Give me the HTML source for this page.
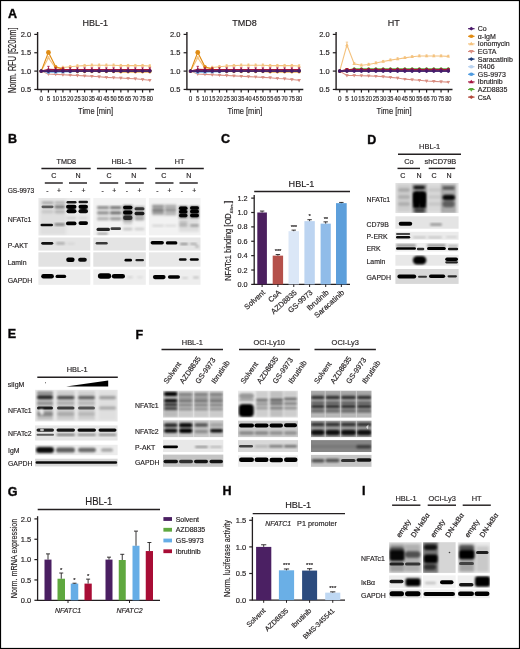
<!DOCTYPE html><html><head><meta charset="utf-8"><title>Figure</title><style>html,body{margin:0;padding:0;background:#fff;}body{width:520px;height:649px;overflow:hidden;}svg{display:block;font-family:"Liberation Sans",sans-serif;will-change:transform;filter:blur(0.3px);}svg text{stroke:#231f20;stroke-width:0.17px;}</style></head><body><svg width="520" height="649" viewBox="0 0 520 649" font-family='"Liberation Sans", sans-serif' fill="#231f20"><defs><filter id="f1" x="-50%" y="-50%" width="200%" height="200%"><feGaussianBlur stdDeviation="0.1"/></filter><filter id="f2" x="-50%" y="-50%" width="200%" height="200%"><feGaussianBlur stdDeviation="0.2"/></filter><filter id="f3" x="-50%" y="-50%" width="200%" height="200%"><feGaussianBlur stdDeviation="0.3"/></filter><filter id="f4" x="-50%" y="-50%" width="200%" height="200%"><feGaussianBlur stdDeviation="0.4"/></filter><filter id="f5" x="-50%" y="-50%" width="200%" height="200%"><feGaussianBlur stdDeviation="0.5"/></filter><filter id="f6" x="-50%" y="-50%" width="200%" height="200%"><feGaussianBlur stdDeviation="0.6"/></filter><filter id="f7" x="-50%" y="-50%" width="200%" height="200%"><feGaussianBlur stdDeviation="0.7"/></filter><filter id="f8" x="-50%" y="-50%" width="200%" height="200%"><feGaussianBlur stdDeviation="0.8"/></filter><filter id="f9" x="-50%" y="-50%" width="200%" height="200%"><feGaussianBlur stdDeviation="0.9"/></filter><filter id="f10" x="-50%" y="-50%" width="200%" height="200%"><feGaussianBlur stdDeviation="1.0"/></filter><filter id="f11" x="-50%" y="-50%" width="200%" height="200%"><feGaussianBlur stdDeviation="1.1"/></filter><filter id="f12" x="-50%" y="-50%" width="200%" height="200%"><feGaussianBlur stdDeviation="1.2"/></filter><filter id="f13" x="-50%" y="-50%" width="200%" height="200%"><feGaussianBlur stdDeviation="1.3"/></filter><filter id="f14" x="-50%" y="-50%" width="200%" height="200%"><feGaussianBlur stdDeviation="1.4"/></filter><filter id="f15" x="-50%" y="-50%" width="200%" height="200%"><feGaussianBlur stdDeviation="1.5"/></filter><filter id="f16" x="-50%" y="-50%" width="200%" height="200%"><feGaussianBlur stdDeviation="1.6"/></filter><filter id="f17" x="-50%" y="-50%" width="200%" height="200%"><feGaussianBlur stdDeviation="1.7"/></filter><filter id="f18" x="-50%" y="-50%" width="200%" height="200%"><feGaussianBlur stdDeviation="1.8"/></filter><filter id="f19" x="-50%" y="-50%" width="200%" height="200%"><feGaussianBlur stdDeviation="1.9"/></filter><filter id="f20" x="-50%" y="-50%" width="200%" height="200%"><feGaussianBlur stdDeviation="2.0"/></filter><clipPath id="c1"><rect x="38.40" y="198.00" width="51.90" height="37.50"/></clipPath><clipPath id="c2"><rect x="38.40" y="237.50" width="51.90" height="13.10"/></clipPath><clipPath id="c3"><rect x="38.40" y="252.30" width="51.90" height="14.40"/></clipPath><clipPath id="c4"><rect x="38.40" y="269.40" width="51.90" height="15.40"/></clipPath><clipPath id="c5"><rect x="93.30" y="198.00" width="52.50" height="37.40"/></clipPath><clipPath id="c6"><rect x="93.30" y="237.50" width="52.50" height="13.10"/></clipPath><clipPath id="c7"><rect x="93.30" y="252.30" width="52.50" height="14.40"/></clipPath><clipPath id="c8"><rect x="93.30" y="269.40" width="52.50" height="15.40"/></clipPath><clipPath id="c9"><rect x="148.90" y="198.00" width="51.60" height="37.30"/></clipPath><clipPath id="c10"><rect x="148.90" y="237.50" width="51.60" height="13.10"/></clipPath><clipPath id="c11"><rect x="148.90" y="252.30" width="51.60" height="14.40"/></clipPath><clipPath id="c12"><rect x="148.90" y="269.40" width="51.60" height="15.40"/></clipPath><clipPath id="c13"><rect x="395.40" y="183.00" width="63.20" height="30.00"/></clipPath><clipPath id="c14"><rect x="395.40" y="216.30" width="63.20" height="12.40"/></clipPath><clipPath id="c15"><rect x="395.40" y="231.80" width="63.20" height="8.00"/></clipPath><clipPath id="c16"><rect x="395.40" y="243.00" width="63.20" height="8.60"/></clipPath><clipPath id="c17"><rect x="395.40" y="254.90" width="63.20" height="10.80"/></clipPath><clipPath id="c18"><rect x="395.40" y="269.00" width="63.20" height="14.90"/></clipPath><clipPath id="c19"><rect x="35.10" y="389.80" width="82.50" height="31.70"/></clipPath><clipPath id="c20"><rect x="35.10" y="425.40" width="82.50" height="15.10"/></clipPath><clipPath id="c21"><rect x="35.10" y="444.80" width="82.50" height="10.40"/></clipPath><clipPath id="c22"><rect x="35.10" y="458.70" width="82.50" height="7.70"/></clipPath><clipPath id="c23"><rect x="163.00" y="390.70" width="60.30" height="26.90"/></clipPath><clipPath id="c24"><rect x="163.00" y="420.30" width="60.30" height="16.80"/></clipPath><clipPath id="c25"><rect x="163.00" y="439.80" width="60.30" height="12.20"/></clipPath><clipPath id="c26"><rect x="163.00" y="454.60" width="60.30" height="12.20"/></clipPath><clipPath id="c27"><rect x="238.00" y="390.70" width="60.00" height="26.90"/></clipPath><clipPath id="c28"><rect x="238.00" y="420.70" width="60.00" height="16.40"/></clipPath><clipPath id="c29"><rect x="238.00" y="440.10" width="60.00" height="11.90"/></clipPath><clipPath id="c30"><rect x="238.00" y="455.30" width="60.00" height="11.50"/></clipPath><clipPath id="c31"><rect x="311.00" y="390.70" width="60.50" height="26.90"/></clipPath><clipPath id="c32"><rect x="311.00" y="420.70" width="60.50" height="16.40"/></clipPath><clipPath id="c33"><rect x="311.00" y="440.10" width="60.50" height="11.90"/></clipPath><clipPath id="c34"><rect x="311.00" y="454.90" width="60.50" height="11.90"/></clipPath><clipPath id="c35"><rect x="389.10" y="542.20" width="32.60" height="30.70"/></clipPath><clipPath id="c36"><rect x="423.00" y="542.20" width="32.60" height="30.70"/></clipPath><clipPath id="c37"><rect x="457.70" y="542.20" width="32.20" height="30.70"/></clipPath><clipPath id="c38"><rect x="389.10" y="575.40" width="32.60" height="12.40"/></clipPath><clipPath id="c39"><rect x="423.00" y="575.40" width="32.60" height="12.40"/></clipPath><clipPath id="c40"><rect x="457.70" y="575.40" width="32.20" height="12.40"/></clipPath><clipPath id="c41"><rect x="389.10" y="589.50" width="32.60" height="8.70"/></clipPath><clipPath id="c42"><rect x="423.00" y="589.50" width="32.60" height="8.70"/></clipPath><clipPath id="c43"><rect x="457.70" y="589.50" width="32.20" height="8.70"/></clipPath></defs><rect x="0" y="0" width="520" height="649" fill="#fff"/><text x="8.00" y="18.12" font-size="12.5" font-weight="bold" fill="#000" stroke="#000" style="stroke-width:0.45px">A</text>
<text x="95.20" y="25.70" font-size="9" text-anchor="middle">HBL-1</text>
<line x1="37.60" y1="32.00" x2="37.60" y2="89.50" stroke="#231f20" stroke-width="1.4"/>
<line x1="36.90" y1="89.50" x2="154.00" y2="89.50" stroke="#231f20" stroke-width="1.4"/>
<line x1="34.30" y1="34.40" x2="37.60" y2="34.40" stroke="#231f20" stroke-width="1.2"/>
<text x="31.10" y="37.05" font-size="7.5" text-anchor="end">2.0</text>
<line x1="34.30" y1="52.75" x2="37.60" y2="52.75" stroke="#231f20" stroke-width="1.2"/>
<text x="31.10" y="55.40" font-size="7.5" text-anchor="end">1.5</text>
<line x1="34.30" y1="71.10" x2="37.60" y2="71.10" stroke="#231f20" stroke-width="1.2"/>
<text x="31.10" y="73.75" font-size="7.5" text-anchor="end">1.0</text>
<line x1="34.30" y1="89.45" x2="37.60" y2="89.45" stroke="#231f20" stroke-width="1.2"/>
<text x="31.10" y="92.10" font-size="7.5" text-anchor="end">0.5</text>
<line x1="41.20" y1="89.50" x2="41.20" y2="92.60" stroke="#231f20" stroke-width="1.2"/>
<text x="41.20" y="101.40" font-size="6.3" text-anchor="middle">0</text>
<line x1="48.44" y1="89.50" x2="48.44" y2="92.60" stroke="#231f20" stroke-width="1.2"/>
<text x="48.44" y="101.40" font-size="6.3" text-anchor="middle">5</text>
<line x1="55.68" y1="89.50" x2="55.68" y2="92.60" stroke="#231f20" stroke-width="1.2"/>
<text x="55.68" y="101.40" font-size="6.3" text-anchor="middle" textLength="6.3" lengthAdjust="spacingAndGlyphs">10</text>
<line x1="62.92" y1="89.50" x2="62.92" y2="92.60" stroke="#231f20" stroke-width="1.2"/>
<text x="62.92" y="101.40" font-size="6.3" text-anchor="middle" textLength="6.3" lengthAdjust="spacingAndGlyphs">15</text>
<line x1="70.16" y1="89.50" x2="70.16" y2="92.60" stroke="#231f20" stroke-width="1.2"/>
<text x="70.16" y="101.40" font-size="6.3" text-anchor="middle" textLength="6.3" lengthAdjust="spacingAndGlyphs">20</text>
<line x1="77.40" y1="89.50" x2="77.40" y2="92.60" stroke="#231f20" stroke-width="1.2"/>
<text x="77.40" y="101.40" font-size="6.3" text-anchor="middle" textLength="6.3" lengthAdjust="spacingAndGlyphs">25</text>
<line x1="84.64" y1="89.50" x2="84.64" y2="92.60" stroke="#231f20" stroke-width="1.2"/>
<text x="84.64" y="101.40" font-size="6.3" text-anchor="middle" textLength="6.3" lengthAdjust="spacingAndGlyphs">30</text>
<line x1="91.88" y1="89.50" x2="91.88" y2="92.60" stroke="#231f20" stroke-width="1.2"/>
<text x="91.88" y="101.40" font-size="6.3" text-anchor="middle" textLength="6.3" lengthAdjust="spacingAndGlyphs">35</text>
<line x1="99.12" y1="89.50" x2="99.12" y2="92.60" stroke="#231f20" stroke-width="1.2"/>
<text x="99.12" y="101.40" font-size="6.3" text-anchor="middle" textLength="6.3" lengthAdjust="spacingAndGlyphs">40</text>
<line x1="106.36" y1="89.50" x2="106.36" y2="92.60" stroke="#231f20" stroke-width="1.2"/>
<text x="106.36" y="101.40" font-size="6.3" text-anchor="middle" textLength="6.3" lengthAdjust="spacingAndGlyphs">45</text>
<line x1="113.60" y1="89.50" x2="113.60" y2="92.60" stroke="#231f20" stroke-width="1.2"/>
<text x="113.60" y="101.40" font-size="6.3" text-anchor="middle" textLength="6.3" lengthAdjust="spacingAndGlyphs">50</text>
<line x1="120.84" y1="89.50" x2="120.84" y2="92.60" stroke="#231f20" stroke-width="1.2"/>
<text x="120.84" y="101.40" font-size="6.3" text-anchor="middle" textLength="6.3" lengthAdjust="spacingAndGlyphs">55</text>
<line x1="128.08" y1="89.50" x2="128.08" y2="92.60" stroke="#231f20" stroke-width="1.2"/>
<text x="128.08" y="101.40" font-size="6.3" text-anchor="middle" textLength="6.3" lengthAdjust="spacingAndGlyphs">65</text>
<line x1="135.32" y1="89.50" x2="135.32" y2="92.60" stroke="#231f20" stroke-width="1.2"/>
<text x="135.32" y="101.40" font-size="6.3" text-anchor="middle" textLength="6.3" lengthAdjust="spacingAndGlyphs">70</text>
<line x1="142.56" y1="89.50" x2="142.56" y2="92.60" stroke="#231f20" stroke-width="1.2"/>
<text x="142.56" y="101.40" font-size="6.3" text-anchor="middle" textLength="6.3" lengthAdjust="spacingAndGlyphs">75</text>
<line x1="149.80" y1="89.50" x2="149.80" y2="92.60" stroke="#231f20" stroke-width="1.2"/>
<text x="149.80" y="101.40" font-size="6.3" text-anchor="middle" textLength="6.3" lengthAdjust="spacingAndGlyphs">80</text>
<text x="95.60" y="113.60" font-size="9.7" text-anchor="middle" textLength="35" lengthAdjust="spacingAndGlyphs">Time [min]</text>
<polyline points="41.20,71.10 48.44,57.89 55.68,68.16 62.92,67.43 70.16,66.70 77.40,65.96 84.64,65.59 91.88,65.23 99.12,65.23 106.36,65.23 113.60,65.23 120.84,65.59 128.08,65.59 135.32,65.59 142.56,65.59 149.80,65.96" fill="none" stroke="#f4c27e" stroke-width="1.1"/>
<line x1="41.20" y1="70.00" x2="41.20" y2="72.20" stroke="#f4c27e" stroke-width="0.8"/>
<line x1="40.00" y1="70.00" x2="42.40" y2="70.00" stroke="#f4c27e" stroke-width="0.8"/>
<path d="M41.20 69.20L43.00 72.30L39.40 72.30Z" fill="#f4c27e"/>
<line x1="48.44" y1="56.79" x2="48.44" y2="58.99" stroke="#f4c27e" stroke-width="0.8"/>
<line x1="47.24" y1="56.79" x2="49.64" y2="56.79" stroke="#f4c27e" stroke-width="0.8"/>
<path d="M48.44 55.99L50.24 59.09L46.64 59.09Z" fill="#f4c27e"/>
<line x1="55.68" y1="67.06" x2="55.68" y2="69.26" stroke="#f4c27e" stroke-width="0.8"/>
<line x1="54.48" y1="67.06" x2="56.88" y2="67.06" stroke="#f4c27e" stroke-width="0.8"/>
<path d="M55.68 66.26L57.48 69.36L53.88 69.36Z" fill="#f4c27e"/>
<line x1="62.92" y1="66.33" x2="62.92" y2="68.53" stroke="#f4c27e" stroke-width="0.8"/>
<line x1="61.72" y1="66.33" x2="64.12" y2="66.33" stroke="#f4c27e" stroke-width="0.8"/>
<path d="M62.92 65.53L64.72 68.63L61.12 68.63Z" fill="#f4c27e"/>
<line x1="70.16" y1="65.59" x2="70.16" y2="67.80" stroke="#f4c27e" stroke-width="0.8"/>
<line x1="68.96" y1="65.59" x2="71.36" y2="65.59" stroke="#f4c27e" stroke-width="0.8"/>
<path d="M70.16 64.80L71.96 67.90L68.36 67.90Z" fill="#f4c27e"/>
<line x1="77.40" y1="64.86" x2="77.40" y2="67.06" stroke="#f4c27e" stroke-width="0.8"/>
<line x1="76.20" y1="64.86" x2="78.60" y2="64.86" stroke="#f4c27e" stroke-width="0.8"/>
<path d="M77.40 64.06L79.20 67.16L75.60 67.16Z" fill="#f4c27e"/>
<line x1="84.64" y1="64.49" x2="84.64" y2="66.70" stroke="#f4c27e" stroke-width="0.8"/>
<line x1="83.44" y1="64.49" x2="85.84" y2="64.49" stroke="#f4c27e" stroke-width="0.8"/>
<path d="M84.64 63.70L86.44 66.80L82.84 66.80Z" fill="#f4c27e"/>
<line x1="91.88" y1="64.13" x2="91.88" y2="66.33" stroke="#f4c27e" stroke-width="0.8"/>
<line x1="90.68" y1="64.13" x2="93.08" y2="64.13" stroke="#f4c27e" stroke-width="0.8"/>
<path d="M91.88 63.33L93.68 66.43L90.08 66.43Z" fill="#f4c27e"/>
<line x1="99.12" y1="64.13" x2="99.12" y2="66.33" stroke="#f4c27e" stroke-width="0.8"/>
<line x1="97.92" y1="64.13" x2="100.32" y2="64.13" stroke="#f4c27e" stroke-width="0.8"/>
<path d="M99.12 63.33L100.92 66.43L97.32 66.43Z" fill="#f4c27e"/>
<line x1="106.36" y1="64.13" x2="106.36" y2="66.33" stroke="#f4c27e" stroke-width="0.8"/>
<line x1="105.16" y1="64.13" x2="107.56" y2="64.13" stroke="#f4c27e" stroke-width="0.8"/>
<path d="M106.36 63.33L108.16 66.43L104.56 66.43Z" fill="#f4c27e"/>
<line x1="113.60" y1="64.13" x2="113.60" y2="66.33" stroke="#f4c27e" stroke-width="0.8"/>
<line x1="112.40" y1="64.13" x2="114.80" y2="64.13" stroke="#f4c27e" stroke-width="0.8"/>
<path d="M113.60 63.33L115.40 66.43L111.80 66.43Z" fill="#f4c27e"/>
<line x1="120.84" y1="64.49" x2="120.84" y2="66.70" stroke="#f4c27e" stroke-width="0.8"/>
<line x1="119.64" y1="64.49" x2="122.04" y2="64.49" stroke="#f4c27e" stroke-width="0.8"/>
<path d="M120.84 63.70L122.64 66.80L119.04 66.80Z" fill="#f4c27e"/>
<line x1="128.08" y1="64.49" x2="128.08" y2="66.70" stroke="#f4c27e" stroke-width="0.8"/>
<line x1="126.88" y1="64.49" x2="129.28" y2="64.49" stroke="#f4c27e" stroke-width="0.8"/>
<path d="M128.08 63.70L129.88 66.80L126.28 66.80Z" fill="#f4c27e"/>
<line x1="135.32" y1="64.49" x2="135.32" y2="66.70" stroke="#f4c27e" stroke-width="0.8"/>
<line x1="134.12" y1="64.49" x2="136.52" y2="64.49" stroke="#f4c27e" stroke-width="0.8"/>
<path d="M135.32 63.70L137.12 66.80L133.52 66.80Z" fill="#f4c27e"/>
<line x1="142.56" y1="64.49" x2="142.56" y2="66.70" stroke="#f4c27e" stroke-width="0.8"/>
<line x1="141.36" y1="64.49" x2="143.76" y2="64.49" stroke="#f4c27e" stroke-width="0.8"/>
<path d="M142.56 63.70L144.36 66.80L140.76 66.80Z" fill="#f4c27e"/>
<line x1="149.80" y1="64.86" x2="149.80" y2="67.06" stroke="#f4c27e" stroke-width="0.8"/>
<line x1="148.60" y1="64.86" x2="151.00" y2="64.86" stroke="#f4c27e" stroke-width="0.8"/>
<path d="M149.80 64.06L151.60 67.16L148.00 67.16Z" fill="#f4c27e"/>
<polyline points="41.20,71.10 48.44,74.04 55.68,74.40 62.92,74.77 70.16,75.14 77.40,75.50 84.64,75.87 91.88,76.24 99.12,76.79 106.36,77.34 113.60,77.71 120.84,78.07 128.08,78.44 135.32,78.81 142.56,79.54 149.80,80.27" fill="none" stroke="#d98e82" stroke-width="1.1"/>
<line x1="41.20" y1="70.37" x2="41.20" y2="71.83" stroke="#d98e82" stroke-width="0.8"/>
<line x1="40.00" y1="70.37" x2="42.40" y2="70.37" stroke="#d98e82" stroke-width="0.8"/>
<path d="M41.20 73.00L43.00 69.90L39.40 69.90Z" fill="#d98e82"/>
<line x1="48.44" y1="73.30" x2="48.44" y2="74.77" stroke="#d98e82" stroke-width="0.8"/>
<line x1="47.24" y1="73.30" x2="49.64" y2="73.30" stroke="#d98e82" stroke-width="0.8"/>
<path d="M48.44 75.94L50.24 72.84L46.64 72.84Z" fill="#d98e82"/>
<line x1="55.68" y1="73.67" x2="55.68" y2="75.14" stroke="#d98e82" stroke-width="0.8"/>
<line x1="54.48" y1="73.67" x2="56.88" y2="73.67" stroke="#d98e82" stroke-width="0.8"/>
<path d="M55.68 76.30L57.48 73.20L53.88 73.20Z" fill="#d98e82"/>
<line x1="62.92" y1="74.04" x2="62.92" y2="75.50" stroke="#d98e82" stroke-width="0.8"/>
<line x1="61.72" y1="74.04" x2="64.12" y2="74.04" stroke="#d98e82" stroke-width="0.8"/>
<path d="M62.92 76.67L64.72 73.57L61.12 73.57Z" fill="#d98e82"/>
<line x1="70.16" y1="74.40" x2="70.16" y2="75.87" stroke="#d98e82" stroke-width="0.8"/>
<line x1="68.96" y1="74.40" x2="71.36" y2="74.40" stroke="#d98e82" stroke-width="0.8"/>
<path d="M70.16 77.04L71.96 73.94L68.36 73.94Z" fill="#d98e82"/>
<line x1="77.40" y1="74.77" x2="77.40" y2="76.24" stroke="#d98e82" stroke-width="0.8"/>
<line x1="76.20" y1="74.77" x2="78.60" y2="74.77" stroke="#d98e82" stroke-width="0.8"/>
<path d="M77.40 77.40L79.20 74.30L75.60 74.30Z" fill="#d98e82"/>
<line x1="84.64" y1="75.14" x2="84.64" y2="76.60" stroke="#d98e82" stroke-width="0.8"/>
<line x1="83.44" y1="75.14" x2="85.84" y2="75.14" stroke="#d98e82" stroke-width="0.8"/>
<path d="M84.64 77.77L86.44 74.67L82.84 74.67Z" fill="#d98e82"/>
<line x1="91.88" y1="75.50" x2="91.88" y2="76.97" stroke="#d98e82" stroke-width="0.8"/>
<line x1="90.68" y1="75.50" x2="93.08" y2="75.50" stroke="#d98e82" stroke-width="0.8"/>
<path d="M91.88 78.14L93.68 75.04L90.08 75.04Z" fill="#d98e82"/>
<line x1="99.12" y1="76.05" x2="99.12" y2="77.52" stroke="#d98e82" stroke-width="0.8"/>
<line x1="97.92" y1="76.05" x2="100.32" y2="76.05" stroke="#d98e82" stroke-width="0.8"/>
<path d="M99.12 78.69L100.92 75.59L97.32 75.59Z" fill="#d98e82"/>
<line x1="106.36" y1="76.61" x2="106.36" y2="78.07" stroke="#d98e82" stroke-width="0.8"/>
<line x1="105.16" y1="76.61" x2="107.56" y2="76.61" stroke="#d98e82" stroke-width="0.8"/>
<path d="M106.36 79.24L108.16 76.14L104.56 76.14Z" fill="#d98e82"/>
<line x1="113.60" y1="76.97" x2="113.60" y2="78.44" stroke="#d98e82" stroke-width="0.8"/>
<line x1="112.40" y1="76.97" x2="114.80" y2="76.97" stroke="#d98e82" stroke-width="0.8"/>
<path d="M113.60 79.61L115.40 76.51L111.80 76.51Z" fill="#d98e82"/>
<line x1="120.84" y1="77.34" x2="120.84" y2="78.81" stroke="#d98e82" stroke-width="0.8"/>
<line x1="119.64" y1="77.34" x2="122.04" y2="77.34" stroke="#d98e82" stroke-width="0.8"/>
<path d="M120.84 79.97L122.64 76.87L119.04 76.87Z" fill="#d98e82"/>
<line x1="128.08" y1="77.71" x2="128.08" y2="79.17" stroke="#d98e82" stroke-width="0.8"/>
<line x1="126.88" y1="77.71" x2="129.28" y2="77.71" stroke="#d98e82" stroke-width="0.8"/>
<path d="M128.08 80.34L129.88 77.24L126.28 77.24Z" fill="#d98e82"/>
<line x1="135.32" y1="78.07" x2="135.32" y2="79.54" stroke="#d98e82" stroke-width="0.8"/>
<line x1="134.12" y1="78.07" x2="136.52" y2="78.07" stroke="#d98e82" stroke-width="0.8"/>
<path d="M135.32 80.71L137.12 77.61L133.52 77.61Z" fill="#d98e82"/>
<line x1="142.56" y1="78.81" x2="142.56" y2="80.27" stroke="#d98e82" stroke-width="0.8"/>
<line x1="141.36" y1="78.81" x2="143.76" y2="78.81" stroke="#d98e82" stroke-width="0.8"/>
<path d="M142.56 81.44L144.36 78.34L140.76 78.34Z" fill="#d98e82"/>
<line x1="149.80" y1="79.54" x2="149.80" y2="81.01" stroke="#d98e82" stroke-width="0.8"/>
<line x1="148.60" y1="79.54" x2="151.00" y2="79.54" stroke="#d98e82" stroke-width="0.8"/>
<path d="M149.80 82.17L151.60 79.07L148.00 79.07Z" fill="#d98e82"/>
<polyline points="41.20,71.10 48.44,72.20 55.68,72.20 62.92,71.83 70.16,71.83 77.40,71.47 84.64,71.47 91.88,71.10 99.12,71.10 106.36,71.10 113.60,70.73 120.84,70.73 128.08,70.37 135.32,70.37 142.56,70.37 149.80,70.37" fill="none" stroke="#b9d3f1" stroke-width="1.1"/>
<line x1="41.20" y1="70.37" x2="41.20" y2="71.83" stroke="#b9d3f1" stroke-width="0.8"/>
<line x1="40.00" y1="70.37" x2="42.40" y2="70.37" stroke="#b9d3f1" stroke-width="0.8"/>
<circle cx="41.20" cy="71.10" r="1.7" fill="#b9d3f1"/>
<line x1="48.44" y1="71.47" x2="48.44" y2="72.93" stroke="#b9d3f1" stroke-width="0.8"/>
<line x1="47.24" y1="71.47" x2="49.64" y2="71.47" stroke="#b9d3f1" stroke-width="0.8"/>
<circle cx="48.44" cy="72.20" r="1.7" fill="#b9d3f1"/>
<line x1="55.68" y1="71.47" x2="55.68" y2="72.93" stroke="#b9d3f1" stroke-width="0.8"/>
<line x1="54.48" y1="71.47" x2="56.88" y2="71.47" stroke="#b9d3f1" stroke-width="0.8"/>
<circle cx="55.68" cy="72.20" r="1.7" fill="#b9d3f1"/>
<line x1="62.92" y1="71.10" x2="62.92" y2="72.57" stroke="#b9d3f1" stroke-width="0.8"/>
<line x1="61.72" y1="71.10" x2="64.12" y2="71.10" stroke="#b9d3f1" stroke-width="0.8"/>
<circle cx="62.92" cy="71.83" r="1.7" fill="#b9d3f1"/>
<line x1="70.16" y1="71.10" x2="70.16" y2="72.57" stroke="#b9d3f1" stroke-width="0.8"/>
<line x1="68.96" y1="71.10" x2="71.36" y2="71.10" stroke="#b9d3f1" stroke-width="0.8"/>
<circle cx="70.16" cy="71.83" r="1.7" fill="#b9d3f1"/>
<line x1="77.40" y1="70.73" x2="77.40" y2="72.20" stroke="#b9d3f1" stroke-width="0.8"/>
<line x1="76.20" y1="70.73" x2="78.60" y2="70.73" stroke="#b9d3f1" stroke-width="0.8"/>
<circle cx="77.40" cy="71.47" r="1.7" fill="#b9d3f1"/>
<line x1="84.64" y1="70.73" x2="84.64" y2="72.20" stroke="#b9d3f1" stroke-width="0.8"/>
<line x1="83.44" y1="70.73" x2="85.84" y2="70.73" stroke="#b9d3f1" stroke-width="0.8"/>
<circle cx="84.64" cy="71.47" r="1.7" fill="#b9d3f1"/>
<line x1="91.88" y1="70.37" x2="91.88" y2="71.83" stroke="#b9d3f1" stroke-width="0.8"/>
<line x1="90.68" y1="70.37" x2="93.08" y2="70.37" stroke="#b9d3f1" stroke-width="0.8"/>
<circle cx="91.88" cy="71.10" r="1.7" fill="#b9d3f1"/>
<line x1="99.12" y1="70.37" x2="99.12" y2="71.83" stroke="#b9d3f1" stroke-width="0.8"/>
<line x1="97.92" y1="70.37" x2="100.32" y2="70.37" stroke="#b9d3f1" stroke-width="0.8"/>
<circle cx="99.12" cy="71.10" r="1.7" fill="#b9d3f1"/>
<line x1="106.36" y1="70.37" x2="106.36" y2="71.83" stroke="#b9d3f1" stroke-width="0.8"/>
<line x1="105.16" y1="70.37" x2="107.56" y2="70.37" stroke="#b9d3f1" stroke-width="0.8"/>
<circle cx="106.36" cy="71.10" r="1.7" fill="#b9d3f1"/>
<line x1="113.60" y1="70.00" x2="113.60" y2="71.47" stroke="#b9d3f1" stroke-width="0.8"/>
<line x1="112.40" y1="70.00" x2="114.80" y2="70.00" stroke="#b9d3f1" stroke-width="0.8"/>
<circle cx="113.60" cy="70.73" r="1.7" fill="#b9d3f1"/>
<line x1="120.84" y1="70.00" x2="120.84" y2="71.47" stroke="#b9d3f1" stroke-width="0.8"/>
<line x1="119.64" y1="70.00" x2="122.04" y2="70.00" stroke="#b9d3f1" stroke-width="0.8"/>
<circle cx="120.84" cy="70.73" r="1.7" fill="#b9d3f1"/>
<line x1="128.08" y1="69.63" x2="128.08" y2="71.10" stroke="#b9d3f1" stroke-width="0.8"/>
<line x1="126.88" y1="69.63" x2="129.28" y2="69.63" stroke="#b9d3f1" stroke-width="0.8"/>
<circle cx="128.08" cy="70.37" r="1.7" fill="#b9d3f1"/>
<line x1="135.32" y1="69.63" x2="135.32" y2="71.10" stroke="#b9d3f1" stroke-width="0.8"/>
<line x1="134.12" y1="69.63" x2="136.52" y2="69.63" stroke="#b9d3f1" stroke-width="0.8"/>
<circle cx="135.32" cy="70.37" r="1.7" fill="#b9d3f1"/>
<line x1="142.56" y1="69.63" x2="142.56" y2="71.10" stroke="#b9d3f1" stroke-width="0.8"/>
<line x1="141.36" y1="69.63" x2="143.76" y2="69.63" stroke="#b9d3f1" stroke-width="0.8"/>
<circle cx="142.56" cy="70.37" r="1.7" fill="#b9d3f1"/>
<line x1="149.80" y1="69.63" x2="149.80" y2="71.10" stroke="#b9d3f1" stroke-width="0.8"/>
<line x1="148.60" y1="69.63" x2="151.00" y2="69.63" stroke="#b9d3f1" stroke-width="0.8"/>
<circle cx="149.80" cy="70.37" r="1.7" fill="#b9d3f1"/>
<polyline points="41.20,71.10 48.44,72.02 55.68,71.83 62.92,71.65 70.16,71.47 77.40,71.47 84.64,71.10 91.88,71.10 99.12,71.10 106.36,71.10 113.60,71.10 120.84,70.73 128.08,70.73 135.32,70.73 142.56,70.73 149.80,70.73" fill="none" stroke="#4f9be0" stroke-width="1.1"/>
<line x1="41.20" y1="70.37" x2="41.20" y2="71.83" stroke="#4f9be0" stroke-width="0.8"/>
<line x1="40.00" y1="70.37" x2="42.40" y2="70.37" stroke="#4f9be0" stroke-width="0.8"/>
<circle cx="41.20" cy="71.10" r="1.7" fill="#4f9be0"/>
<line x1="48.44" y1="71.28" x2="48.44" y2="72.75" stroke="#4f9be0" stroke-width="0.8"/>
<line x1="47.24" y1="71.28" x2="49.64" y2="71.28" stroke="#4f9be0" stroke-width="0.8"/>
<circle cx="48.44" cy="72.02" r="1.7" fill="#4f9be0"/>
<line x1="55.68" y1="71.10" x2="55.68" y2="72.57" stroke="#4f9be0" stroke-width="0.8"/>
<line x1="54.48" y1="71.10" x2="56.88" y2="71.10" stroke="#4f9be0" stroke-width="0.8"/>
<circle cx="55.68" cy="71.83" r="1.7" fill="#4f9be0"/>
<line x1="62.92" y1="70.92" x2="62.92" y2="72.38" stroke="#4f9be0" stroke-width="0.8"/>
<line x1="61.72" y1="70.92" x2="64.12" y2="70.92" stroke="#4f9be0" stroke-width="0.8"/>
<circle cx="62.92" cy="71.65" r="1.7" fill="#4f9be0"/>
<line x1="70.16" y1="70.73" x2="70.16" y2="72.20" stroke="#4f9be0" stroke-width="0.8"/>
<line x1="68.96" y1="70.73" x2="71.36" y2="70.73" stroke="#4f9be0" stroke-width="0.8"/>
<circle cx="70.16" cy="71.47" r="1.7" fill="#4f9be0"/>
<line x1="77.40" y1="70.73" x2="77.40" y2="72.20" stroke="#4f9be0" stroke-width="0.8"/>
<line x1="76.20" y1="70.73" x2="78.60" y2="70.73" stroke="#4f9be0" stroke-width="0.8"/>
<circle cx="77.40" cy="71.47" r="1.7" fill="#4f9be0"/>
<line x1="84.64" y1="70.37" x2="84.64" y2="71.83" stroke="#4f9be0" stroke-width="0.8"/>
<line x1="83.44" y1="70.37" x2="85.84" y2="70.37" stroke="#4f9be0" stroke-width="0.8"/>
<circle cx="84.64" cy="71.10" r="1.7" fill="#4f9be0"/>
<line x1="91.88" y1="70.37" x2="91.88" y2="71.83" stroke="#4f9be0" stroke-width="0.8"/>
<line x1="90.68" y1="70.37" x2="93.08" y2="70.37" stroke="#4f9be0" stroke-width="0.8"/>
<circle cx="91.88" cy="71.10" r="1.7" fill="#4f9be0"/>
<line x1="99.12" y1="70.37" x2="99.12" y2="71.83" stroke="#4f9be0" stroke-width="0.8"/>
<line x1="97.92" y1="70.37" x2="100.32" y2="70.37" stroke="#4f9be0" stroke-width="0.8"/>
<circle cx="99.12" cy="71.10" r="1.7" fill="#4f9be0"/>
<line x1="106.36" y1="70.37" x2="106.36" y2="71.83" stroke="#4f9be0" stroke-width="0.8"/>
<line x1="105.16" y1="70.37" x2="107.56" y2="70.37" stroke="#4f9be0" stroke-width="0.8"/>
<circle cx="106.36" cy="71.10" r="1.7" fill="#4f9be0"/>
<line x1="113.60" y1="70.37" x2="113.60" y2="71.83" stroke="#4f9be0" stroke-width="0.8"/>
<line x1="112.40" y1="70.37" x2="114.80" y2="70.37" stroke="#4f9be0" stroke-width="0.8"/>
<circle cx="113.60" cy="71.10" r="1.7" fill="#4f9be0"/>
<line x1="120.84" y1="70.00" x2="120.84" y2="71.47" stroke="#4f9be0" stroke-width="0.8"/>
<line x1="119.64" y1="70.00" x2="122.04" y2="70.00" stroke="#4f9be0" stroke-width="0.8"/>
<circle cx="120.84" cy="70.73" r="1.7" fill="#4f9be0"/>
<line x1="128.08" y1="70.00" x2="128.08" y2="71.47" stroke="#4f9be0" stroke-width="0.8"/>
<line x1="126.88" y1="70.00" x2="129.28" y2="70.00" stroke="#4f9be0" stroke-width="0.8"/>
<circle cx="128.08" cy="70.73" r="1.7" fill="#4f9be0"/>
<line x1="135.32" y1="70.00" x2="135.32" y2="71.47" stroke="#4f9be0" stroke-width="0.8"/>
<line x1="134.12" y1="70.00" x2="136.52" y2="70.00" stroke="#4f9be0" stroke-width="0.8"/>
<circle cx="135.32" cy="70.73" r="1.7" fill="#4f9be0"/>
<line x1="142.56" y1="70.00" x2="142.56" y2="71.47" stroke="#4f9be0" stroke-width="0.8"/>
<line x1="141.36" y1="70.00" x2="143.76" y2="70.00" stroke="#4f9be0" stroke-width="0.8"/>
<circle cx="142.56" cy="70.73" r="1.7" fill="#4f9be0"/>
<line x1="149.80" y1="70.00" x2="149.80" y2="71.47" stroke="#4f9be0" stroke-width="0.8"/>
<line x1="148.60" y1="70.00" x2="151.00" y2="70.00" stroke="#4f9be0" stroke-width="0.8"/>
<circle cx="149.80" cy="70.73" r="1.7" fill="#4f9be0"/>
<polyline points="41.20,71.10 48.44,71.10 55.68,71.10 62.92,71.10 70.16,71.10 77.40,71.10 84.64,71.10 91.88,71.10 99.12,71.10 106.36,71.10 113.60,71.10 120.84,71.10 128.08,71.10 135.32,71.10 142.56,71.10 149.80,71.10" fill="none" stroke="#5aa83a" stroke-width="1.1"/>
<path d="M41.20 69.10L43.10 71.10L41.20 73.10L39.30 71.10Z" fill="#5aa83a"/>
<path d="M48.44 69.10L50.34 71.10L48.44 73.10L46.54 71.10Z" fill="#5aa83a"/>
<path d="M55.68 69.10L57.58 71.10L55.68 73.10L53.78 71.10Z" fill="#5aa83a"/>
<path d="M62.92 69.10L64.82 71.10L62.92 73.10L61.02 71.10Z" fill="#5aa83a"/>
<path d="M70.16 69.10L72.06 71.10L70.16 73.10L68.26 71.10Z" fill="#5aa83a"/>
<path d="M77.40 69.10L79.30 71.10L77.40 73.10L75.50 71.10Z" fill="#5aa83a"/>
<path d="M84.64 69.10L86.54 71.10L84.64 73.10L82.74 71.10Z" fill="#5aa83a"/>
<path d="M91.88 69.10L93.78 71.10L91.88 73.10L89.98 71.10Z" fill="#5aa83a"/>
<path d="M99.12 69.10L101.02 71.10L99.12 73.10L97.22 71.10Z" fill="#5aa83a"/>
<path d="M106.36 69.10L108.26 71.10L106.36 73.10L104.46 71.10Z" fill="#5aa83a"/>
<path d="M113.60 69.10L115.50 71.10L113.60 73.10L111.70 71.10Z" fill="#5aa83a"/>
<path d="M120.84 69.10L122.74 71.10L120.84 73.10L118.94 71.10Z" fill="#5aa83a"/>
<path d="M128.08 69.10L129.98 71.10L128.08 73.10L126.18 71.10Z" fill="#5aa83a"/>
<path d="M135.32 69.10L137.22 71.10L135.32 73.10L133.42 71.10Z" fill="#5aa83a"/>
<path d="M142.56 69.10L144.46 71.10L142.56 73.10L140.66 71.10Z" fill="#5aa83a"/>
<path d="M149.80 69.10L151.70 71.10L149.80 73.10L147.90 71.10Z" fill="#5aa83a"/>
<polyline points="41.20,71.10 48.44,52.38 55.68,66.70 62.92,69.26 70.16,70.73 77.40,71.47 84.64,71.47 91.88,71.47 99.12,71.47 106.36,71.47 113.60,71.47 120.84,71.83 128.08,71.83 135.32,71.83 142.56,71.83 149.80,71.83" fill="none" stroke="#e08b12" stroke-width="1.1"/>
<line x1="41.20" y1="70.73" x2="41.20" y2="71.47" stroke="#e08b12" stroke-width="0.8"/>
<line x1="40.00" y1="70.73" x2="42.40" y2="70.73" stroke="#e08b12" stroke-width="0.8"/>
<circle cx="41.20" cy="71.10" r="1.7" fill="#e08b12"/>
<line x1="48.44" y1="52.02" x2="48.44" y2="52.75" stroke="#e08b12" stroke-width="0.8"/>
<line x1="47.24" y1="52.02" x2="49.64" y2="52.02" stroke="#e08b12" stroke-width="0.8"/>
<circle cx="48.44" cy="52.38" r="2.4" fill="#e08b12"/>
<line x1="55.68" y1="66.33" x2="55.68" y2="67.06" stroke="#e08b12" stroke-width="0.8"/>
<line x1="54.48" y1="66.33" x2="56.88" y2="66.33" stroke="#e08b12" stroke-width="0.8"/>
<circle cx="55.68" cy="66.70" r="1.7" fill="#e08b12"/>
<line x1="62.92" y1="68.90" x2="62.92" y2="69.63" stroke="#e08b12" stroke-width="0.8"/>
<line x1="61.72" y1="68.90" x2="64.12" y2="68.90" stroke="#e08b12" stroke-width="0.8"/>
<circle cx="62.92" cy="69.26" r="1.7" fill="#e08b12"/>
<line x1="70.16" y1="70.37" x2="70.16" y2="71.10" stroke="#e08b12" stroke-width="0.8"/>
<line x1="68.96" y1="70.37" x2="71.36" y2="70.37" stroke="#e08b12" stroke-width="0.8"/>
<circle cx="70.16" cy="70.73" r="1.7" fill="#e08b12"/>
<line x1="77.40" y1="71.10" x2="77.40" y2="71.83" stroke="#e08b12" stroke-width="0.8"/>
<line x1="76.20" y1="71.10" x2="78.60" y2="71.10" stroke="#e08b12" stroke-width="0.8"/>
<circle cx="77.40" cy="71.47" r="1.7" fill="#e08b12"/>
<line x1="84.64" y1="71.10" x2="84.64" y2="71.83" stroke="#e08b12" stroke-width="0.8"/>
<line x1="83.44" y1="71.10" x2="85.84" y2="71.10" stroke="#e08b12" stroke-width="0.8"/>
<circle cx="84.64" cy="71.47" r="1.7" fill="#e08b12"/>
<line x1="91.88" y1="71.10" x2="91.88" y2="71.83" stroke="#e08b12" stroke-width="0.8"/>
<line x1="90.68" y1="71.10" x2="93.08" y2="71.10" stroke="#e08b12" stroke-width="0.8"/>
<circle cx="91.88" cy="71.47" r="1.7" fill="#e08b12"/>
<line x1="99.12" y1="71.10" x2="99.12" y2="71.83" stroke="#e08b12" stroke-width="0.8"/>
<line x1="97.92" y1="71.10" x2="100.32" y2="71.10" stroke="#e08b12" stroke-width="0.8"/>
<circle cx="99.12" cy="71.47" r="1.7" fill="#e08b12"/>
<line x1="106.36" y1="71.10" x2="106.36" y2="71.83" stroke="#e08b12" stroke-width="0.8"/>
<line x1="105.16" y1="71.10" x2="107.56" y2="71.10" stroke="#e08b12" stroke-width="0.8"/>
<circle cx="106.36" cy="71.47" r="1.7" fill="#e08b12"/>
<line x1="113.60" y1="71.10" x2="113.60" y2="71.83" stroke="#e08b12" stroke-width="0.8"/>
<line x1="112.40" y1="71.10" x2="114.80" y2="71.10" stroke="#e08b12" stroke-width="0.8"/>
<circle cx="113.60" cy="71.47" r="1.7" fill="#e08b12"/>
<line x1="120.84" y1="71.47" x2="120.84" y2="72.20" stroke="#e08b12" stroke-width="0.8"/>
<line x1="119.64" y1="71.47" x2="122.04" y2="71.47" stroke="#e08b12" stroke-width="0.8"/>
<circle cx="120.84" cy="71.83" r="1.7" fill="#e08b12"/>
<line x1="128.08" y1="71.47" x2="128.08" y2="72.20" stroke="#e08b12" stroke-width="0.8"/>
<line x1="126.88" y1="71.47" x2="129.28" y2="71.47" stroke="#e08b12" stroke-width="0.8"/>
<circle cx="128.08" cy="71.83" r="1.7" fill="#e08b12"/>
<line x1="135.32" y1="71.47" x2="135.32" y2="72.20" stroke="#e08b12" stroke-width="0.8"/>
<line x1="134.12" y1="71.47" x2="136.52" y2="71.47" stroke="#e08b12" stroke-width="0.8"/>
<circle cx="135.32" cy="71.83" r="1.7" fill="#e08b12"/>
<line x1="142.56" y1="71.47" x2="142.56" y2="72.20" stroke="#e08b12" stroke-width="0.8"/>
<line x1="141.36" y1="71.47" x2="143.76" y2="71.47" stroke="#e08b12" stroke-width="0.8"/>
<circle cx="142.56" cy="71.83" r="1.7" fill="#e08b12"/>
<line x1="149.80" y1="71.47" x2="149.80" y2="72.20" stroke="#e08b12" stroke-width="0.8"/>
<line x1="148.60" y1="71.47" x2="151.00" y2="71.47" stroke="#e08b12" stroke-width="0.8"/>
<circle cx="149.80" cy="71.83" r="1.7" fill="#e08b12"/>
<polyline points="41.20,71.10 48.44,70.37 55.68,70.37 62.92,70.37 70.16,70.37 77.40,70.37 84.64,70.37 91.88,70.37 99.12,70.37 106.36,70.37 113.60,70.37 120.84,70.37 128.08,70.37 135.32,70.37 142.56,70.37 149.80,70.37" fill="none" stroke="#b34a3c" stroke-width="1.1"/>
<circle cx="41.20" cy="71.10" r="1.7" fill="#b34a3c"/>
<circle cx="48.44" cy="70.37" r="1.7" fill="#b34a3c"/>
<circle cx="55.68" cy="70.37" r="1.7" fill="#b34a3c"/>
<circle cx="62.92" cy="70.37" r="1.7" fill="#b34a3c"/>
<circle cx="70.16" cy="70.37" r="1.7" fill="#b34a3c"/>
<circle cx="77.40" cy="70.37" r="1.7" fill="#b34a3c"/>
<circle cx="84.64" cy="70.37" r="1.7" fill="#b34a3c"/>
<circle cx="91.88" cy="70.37" r="1.7" fill="#b34a3c"/>
<circle cx="99.12" cy="70.37" r="1.7" fill="#b34a3c"/>
<circle cx="106.36" cy="70.37" r="1.7" fill="#b34a3c"/>
<circle cx="113.60" cy="70.37" r="1.7" fill="#b34a3c"/>
<circle cx="120.84" cy="70.37" r="1.7" fill="#b34a3c"/>
<circle cx="128.08" cy="70.37" r="1.7" fill="#b34a3c"/>
<circle cx="135.32" cy="70.37" r="1.7" fill="#b34a3c"/>
<circle cx="142.56" cy="70.37" r="1.7" fill="#b34a3c"/>
<circle cx="149.80" cy="70.37" r="1.7" fill="#b34a3c"/>
<polyline points="41.20,71.10 48.44,69.26 55.68,69.45 62.92,69.45 70.16,69.45 77.40,69.45 84.64,69.45 91.88,69.45 99.12,69.45 106.36,69.45 113.60,69.45 120.84,69.45 128.08,69.45 135.32,69.45 142.56,69.45 149.80,69.45" fill="none" stroke="#a4123f" stroke-width="1.1"/>
<path d="M41.20 69.20L43.00 72.30L39.40 72.30Z" fill="#a4123f"/>
<line x1="48.44" y1="66.33" x2="48.44" y2="72.20" stroke="#a4123f" stroke-width="0.8"/>
<line x1="47.24" y1="66.33" x2="49.64" y2="66.33" stroke="#a4123f" stroke-width="0.8"/>
<path d="M48.44 67.36L50.24 70.46L46.64 70.46Z" fill="#a4123f"/>
<line x1="55.68" y1="67.80" x2="55.68" y2="71.10" stroke="#a4123f" stroke-width="0.8"/>
<line x1="54.48" y1="67.80" x2="56.88" y2="67.80" stroke="#a4123f" stroke-width="0.8"/>
<path d="M55.68 67.55L57.48 70.65L53.88 70.65Z" fill="#a4123f"/>
<line x1="62.92" y1="67.80" x2="62.92" y2="71.10" stroke="#a4123f" stroke-width="0.8"/>
<line x1="61.72" y1="67.80" x2="64.12" y2="67.80" stroke="#a4123f" stroke-width="0.8"/>
<path d="M62.92 67.55L64.72 70.65L61.12 70.65Z" fill="#a4123f"/>
<line x1="70.16" y1="67.80" x2="70.16" y2="71.10" stroke="#a4123f" stroke-width="0.8"/>
<line x1="68.96" y1="67.80" x2="71.36" y2="67.80" stroke="#a4123f" stroke-width="0.8"/>
<path d="M70.16 67.55L71.96 70.65L68.36 70.65Z" fill="#a4123f"/>
<line x1="77.40" y1="67.80" x2="77.40" y2="71.10" stroke="#a4123f" stroke-width="0.8"/>
<line x1="76.20" y1="67.80" x2="78.60" y2="67.80" stroke="#a4123f" stroke-width="0.8"/>
<path d="M77.40 67.55L79.20 70.65L75.60 70.65Z" fill="#a4123f"/>
<line x1="84.64" y1="67.80" x2="84.64" y2="71.10" stroke="#a4123f" stroke-width="0.8"/>
<line x1="83.44" y1="67.80" x2="85.84" y2="67.80" stroke="#a4123f" stroke-width="0.8"/>
<path d="M84.64 67.55L86.44 70.65L82.84 70.65Z" fill="#a4123f"/>
<line x1="91.88" y1="67.80" x2="91.88" y2="71.10" stroke="#a4123f" stroke-width="0.8"/>
<line x1="90.68" y1="67.80" x2="93.08" y2="67.80" stroke="#a4123f" stroke-width="0.8"/>
<path d="M91.88 67.55L93.68 70.65L90.08 70.65Z" fill="#a4123f"/>
<line x1="99.12" y1="67.80" x2="99.12" y2="71.10" stroke="#a4123f" stroke-width="0.8"/>
<line x1="97.92" y1="67.80" x2="100.32" y2="67.80" stroke="#a4123f" stroke-width="0.8"/>
<path d="M99.12 67.55L100.92 70.65L97.32 70.65Z" fill="#a4123f"/>
<line x1="106.36" y1="67.80" x2="106.36" y2="71.10" stroke="#a4123f" stroke-width="0.8"/>
<line x1="105.16" y1="67.80" x2="107.56" y2="67.80" stroke="#a4123f" stroke-width="0.8"/>
<path d="M106.36 67.55L108.16 70.65L104.56 70.65Z" fill="#a4123f"/>
<line x1="113.60" y1="67.80" x2="113.60" y2="71.10" stroke="#a4123f" stroke-width="0.8"/>
<line x1="112.40" y1="67.80" x2="114.80" y2="67.80" stroke="#a4123f" stroke-width="0.8"/>
<path d="M113.60 67.55L115.40 70.65L111.80 70.65Z" fill="#a4123f"/>
<line x1="120.84" y1="67.80" x2="120.84" y2="71.10" stroke="#a4123f" stroke-width="0.8"/>
<line x1="119.64" y1="67.80" x2="122.04" y2="67.80" stroke="#a4123f" stroke-width="0.8"/>
<path d="M120.84 67.55L122.64 70.65L119.04 70.65Z" fill="#a4123f"/>
<line x1="128.08" y1="67.80" x2="128.08" y2="71.10" stroke="#a4123f" stroke-width="0.8"/>
<line x1="126.88" y1="67.80" x2="129.28" y2="67.80" stroke="#a4123f" stroke-width="0.8"/>
<path d="M128.08 67.55L129.88 70.65L126.28 70.65Z" fill="#a4123f"/>
<line x1="135.32" y1="67.80" x2="135.32" y2="71.10" stroke="#a4123f" stroke-width="0.8"/>
<line x1="134.12" y1="67.80" x2="136.52" y2="67.80" stroke="#a4123f" stroke-width="0.8"/>
<path d="M135.32 67.55L137.12 70.65L133.52 70.65Z" fill="#a4123f"/>
<line x1="142.56" y1="67.80" x2="142.56" y2="71.10" stroke="#a4123f" stroke-width="0.8"/>
<line x1="141.36" y1="67.80" x2="143.76" y2="67.80" stroke="#a4123f" stroke-width="0.8"/>
<path d="M142.56 67.55L144.36 70.65L140.76 70.65Z" fill="#a4123f"/>
<line x1="149.80" y1="67.80" x2="149.80" y2="71.10" stroke="#a4123f" stroke-width="0.8"/>
<line x1="148.60" y1="67.80" x2="151.00" y2="67.80" stroke="#a4123f" stroke-width="0.8"/>
<path d="M149.80 67.55L151.60 70.65L148.00 70.65Z" fill="#a4123f"/>
<polyline points="41.20,71.10 48.44,71.10 55.68,71.10 62.92,71.10 70.16,71.10 77.40,71.10 84.64,71.10 91.88,71.10 99.12,71.10 106.36,71.10 113.60,71.10 120.84,71.10 128.08,71.10 135.32,71.10 142.56,71.10 149.80,71.10" fill="none" stroke="#1e3d7b" stroke-width="1.1"/>
<path d="M41.20 69.10L43.10 71.10L41.20 73.10L39.30 71.10Z" fill="#1e3d7b"/>
<path d="M48.44 69.10L50.34 71.10L48.44 73.10L46.54 71.10Z" fill="#1e3d7b"/>
<path d="M55.68 69.10L57.58 71.10L55.68 73.10L53.78 71.10Z" fill="#1e3d7b"/>
<path d="M62.92 69.10L64.82 71.10L62.92 73.10L61.02 71.10Z" fill="#1e3d7b"/>
<path d="M70.16 69.10L72.06 71.10L70.16 73.10L68.26 71.10Z" fill="#1e3d7b"/>
<path d="M77.40 69.10L79.30 71.10L77.40 73.10L75.50 71.10Z" fill="#1e3d7b"/>
<path d="M84.64 69.10L86.54 71.10L84.64 73.10L82.74 71.10Z" fill="#1e3d7b"/>
<path d="M91.88 69.10L93.78 71.10L91.88 73.10L89.98 71.10Z" fill="#1e3d7b"/>
<path d="M99.12 69.10L101.02 71.10L99.12 73.10L97.22 71.10Z" fill="#1e3d7b"/>
<path d="M106.36 69.10L108.26 71.10L106.36 73.10L104.46 71.10Z" fill="#1e3d7b"/>
<path d="M113.60 69.10L115.50 71.10L113.60 73.10L111.70 71.10Z" fill="#1e3d7b"/>
<path d="M120.84 69.10L122.74 71.10L120.84 73.10L118.94 71.10Z" fill="#1e3d7b"/>
<path d="M128.08 69.10L129.98 71.10L128.08 73.10L126.18 71.10Z" fill="#1e3d7b"/>
<path d="M135.32 69.10L137.22 71.10L135.32 73.10L133.42 71.10Z" fill="#1e3d7b"/>
<path d="M142.56 69.10L144.46 71.10L142.56 73.10L140.66 71.10Z" fill="#1e3d7b"/>
<path d="M149.80 69.10L151.70 71.10L149.80 73.10L147.90 71.10Z" fill="#1e3d7b"/>
<polyline points="41.20,71.10 48.44,71.10 55.68,71.10 62.92,71.10 70.16,71.10 77.40,71.10 84.64,71.10 91.88,71.10 99.12,71.10 106.36,71.10 113.60,71.10 120.84,71.10 128.08,71.10 135.32,71.10 142.56,71.10 149.80,71.10" fill="none" stroke="#4a1a6b" stroke-width="1.1"/>
<circle cx="41.20" cy="71.10" r="1.7" fill="#4a1a6b"/>
<circle cx="48.44" cy="71.10" r="1.7" fill="#4a1a6b"/>
<circle cx="55.68" cy="71.10" r="1.7" fill="#4a1a6b"/>
<circle cx="62.92" cy="71.10" r="1.7" fill="#4a1a6b"/>
<circle cx="70.16" cy="71.10" r="1.7" fill="#4a1a6b"/>
<circle cx="77.40" cy="71.10" r="1.7" fill="#4a1a6b"/>
<circle cx="84.64" cy="71.10" r="1.7" fill="#4a1a6b"/>
<circle cx="91.88" cy="71.10" r="1.7" fill="#4a1a6b"/>
<circle cx="99.12" cy="71.10" r="1.7" fill="#4a1a6b"/>
<circle cx="106.36" cy="71.10" r="1.7" fill="#4a1a6b"/>
<circle cx="113.60" cy="71.10" r="1.7" fill="#4a1a6b"/>
<circle cx="120.84" cy="71.10" r="1.7" fill="#4a1a6b"/>
<circle cx="128.08" cy="71.10" r="1.7" fill="#4a1a6b"/>
<circle cx="135.32" cy="71.10" r="1.7" fill="#4a1a6b"/>
<circle cx="142.56" cy="71.10" r="1.7" fill="#4a1a6b"/>
<circle cx="149.80" cy="71.10" r="1.7" fill="#4a1a6b"/>
<text x="244.50" y="25.70" font-size="9" text-anchor="middle">TMD8</text>
<line x1="186.90" y1="32.00" x2="186.90" y2="89.50" stroke="#231f20" stroke-width="1.4"/>
<line x1="186.20" y1="89.50" x2="303.30" y2="89.50" stroke="#231f20" stroke-width="1.4"/>
<line x1="183.60" y1="34.40" x2="186.90" y2="34.40" stroke="#231f20" stroke-width="1.2"/>
<text x="180.40" y="37.05" font-size="7.5" text-anchor="end">2.0</text>
<line x1="183.60" y1="52.75" x2="186.90" y2="52.75" stroke="#231f20" stroke-width="1.2"/>
<text x="180.40" y="55.40" font-size="7.5" text-anchor="end">1.5</text>
<line x1="183.60" y1="71.10" x2="186.90" y2="71.10" stroke="#231f20" stroke-width="1.2"/>
<text x="180.40" y="73.75" font-size="7.5" text-anchor="end">1.0</text>
<line x1="183.60" y1="89.45" x2="186.90" y2="89.45" stroke="#231f20" stroke-width="1.2"/>
<text x="180.40" y="92.10" font-size="7.5" text-anchor="end">0.5</text>
<line x1="190.50" y1="89.50" x2="190.50" y2="92.60" stroke="#231f20" stroke-width="1.2"/>
<text x="190.50" y="101.40" font-size="6.3" text-anchor="middle">0</text>
<line x1="197.74" y1="89.50" x2="197.74" y2="92.60" stroke="#231f20" stroke-width="1.2"/>
<text x="197.74" y="101.40" font-size="6.3" text-anchor="middle">5</text>
<line x1="204.98" y1="89.50" x2="204.98" y2="92.60" stroke="#231f20" stroke-width="1.2"/>
<text x="204.98" y="101.40" font-size="6.3" text-anchor="middle" textLength="6.3" lengthAdjust="spacingAndGlyphs">10</text>
<line x1="212.22" y1="89.50" x2="212.22" y2="92.60" stroke="#231f20" stroke-width="1.2"/>
<text x="212.22" y="101.40" font-size="6.3" text-anchor="middle" textLength="6.3" lengthAdjust="spacingAndGlyphs">15</text>
<line x1="219.46" y1="89.50" x2="219.46" y2="92.60" stroke="#231f20" stroke-width="1.2"/>
<text x="219.46" y="101.40" font-size="6.3" text-anchor="middle" textLength="6.3" lengthAdjust="spacingAndGlyphs">20</text>
<line x1="226.70" y1="89.50" x2="226.70" y2="92.60" stroke="#231f20" stroke-width="1.2"/>
<text x="226.70" y="101.40" font-size="6.3" text-anchor="middle" textLength="6.3" lengthAdjust="spacingAndGlyphs">25</text>
<line x1="233.94" y1="89.50" x2="233.94" y2="92.60" stroke="#231f20" stroke-width="1.2"/>
<text x="233.94" y="101.40" font-size="6.3" text-anchor="middle" textLength="6.3" lengthAdjust="spacingAndGlyphs">30</text>
<line x1="241.18" y1="89.50" x2="241.18" y2="92.60" stroke="#231f20" stroke-width="1.2"/>
<text x="241.18" y="101.40" font-size="6.3" text-anchor="middle" textLength="6.3" lengthAdjust="spacingAndGlyphs">35</text>
<line x1="248.42" y1="89.50" x2="248.42" y2="92.60" stroke="#231f20" stroke-width="1.2"/>
<text x="248.42" y="101.40" font-size="6.3" text-anchor="middle" textLength="6.3" lengthAdjust="spacingAndGlyphs">40</text>
<line x1="255.66" y1="89.50" x2="255.66" y2="92.60" stroke="#231f20" stroke-width="1.2"/>
<text x="255.66" y="101.40" font-size="6.3" text-anchor="middle" textLength="6.3" lengthAdjust="spacingAndGlyphs">45</text>
<line x1="262.90" y1="89.50" x2="262.90" y2="92.60" stroke="#231f20" stroke-width="1.2"/>
<text x="262.90" y="101.40" font-size="6.3" text-anchor="middle" textLength="6.3" lengthAdjust="spacingAndGlyphs">50</text>
<line x1="270.14" y1="89.50" x2="270.14" y2="92.60" stroke="#231f20" stroke-width="1.2"/>
<text x="270.14" y="101.40" font-size="6.3" text-anchor="middle" textLength="6.3" lengthAdjust="spacingAndGlyphs">55</text>
<line x1="277.38" y1="89.50" x2="277.38" y2="92.60" stroke="#231f20" stroke-width="1.2"/>
<text x="277.38" y="101.40" font-size="6.3" text-anchor="middle" textLength="6.3" lengthAdjust="spacingAndGlyphs">65</text>
<line x1="284.62" y1="89.50" x2="284.62" y2="92.60" stroke="#231f20" stroke-width="1.2"/>
<text x="284.62" y="101.40" font-size="6.3" text-anchor="middle" textLength="6.3" lengthAdjust="spacingAndGlyphs">70</text>
<line x1="291.86" y1="89.50" x2="291.86" y2="92.60" stroke="#231f20" stroke-width="1.2"/>
<text x="291.86" y="101.40" font-size="6.3" text-anchor="middle" textLength="6.3" lengthAdjust="spacingAndGlyphs">75</text>
<line x1="299.10" y1="89.50" x2="299.10" y2="92.60" stroke="#231f20" stroke-width="1.2"/>
<text x="299.10" y="101.40" font-size="6.3" text-anchor="middle" textLength="6.3" lengthAdjust="spacingAndGlyphs">80</text>
<text x="244.90" y="113.60" font-size="9.7" text-anchor="middle" textLength="35" lengthAdjust="spacingAndGlyphs">Time [min]</text>
<polyline points="190.50,71.10 197.74,57.89 204.98,68.16 212.22,67.43 219.46,66.70 226.70,65.96 233.94,65.59 241.18,65.23 248.42,65.23 255.66,65.23 262.90,65.23 270.14,65.59 277.38,65.59 284.62,65.59 291.86,65.59 299.10,65.96" fill="none" stroke="#f4c27e" stroke-width="1.1"/>
<line x1="190.50" y1="70.00" x2="190.50" y2="72.20" stroke="#f4c27e" stroke-width="0.8"/>
<line x1="189.30" y1="70.00" x2="191.70" y2="70.00" stroke="#f4c27e" stroke-width="0.8"/>
<path d="M190.50 69.20L192.30 72.30L188.70 72.30Z" fill="#f4c27e"/>
<line x1="197.74" y1="56.79" x2="197.74" y2="58.99" stroke="#f4c27e" stroke-width="0.8"/>
<line x1="196.54" y1="56.79" x2="198.94" y2="56.79" stroke="#f4c27e" stroke-width="0.8"/>
<path d="M197.74 55.99L199.54 59.09L195.94 59.09Z" fill="#f4c27e"/>
<line x1="204.98" y1="67.06" x2="204.98" y2="69.26" stroke="#f4c27e" stroke-width="0.8"/>
<line x1="203.78" y1="67.06" x2="206.18" y2="67.06" stroke="#f4c27e" stroke-width="0.8"/>
<path d="M204.98 66.26L206.78 69.36L203.18 69.36Z" fill="#f4c27e"/>
<line x1="212.22" y1="66.33" x2="212.22" y2="68.53" stroke="#f4c27e" stroke-width="0.8"/>
<line x1="211.02" y1="66.33" x2="213.42" y2="66.33" stroke="#f4c27e" stroke-width="0.8"/>
<path d="M212.22 65.53L214.02 68.63L210.42 68.63Z" fill="#f4c27e"/>
<line x1="219.46" y1="65.59" x2="219.46" y2="67.80" stroke="#f4c27e" stroke-width="0.8"/>
<line x1="218.26" y1="65.59" x2="220.66" y2="65.59" stroke="#f4c27e" stroke-width="0.8"/>
<path d="M219.46 64.80L221.26 67.90L217.66 67.90Z" fill="#f4c27e"/>
<line x1="226.70" y1="64.86" x2="226.70" y2="67.06" stroke="#f4c27e" stroke-width="0.8"/>
<line x1="225.50" y1="64.86" x2="227.90" y2="64.86" stroke="#f4c27e" stroke-width="0.8"/>
<path d="M226.70 64.06L228.50 67.16L224.90 67.16Z" fill="#f4c27e"/>
<line x1="233.94" y1="64.49" x2="233.94" y2="66.70" stroke="#f4c27e" stroke-width="0.8"/>
<line x1="232.74" y1="64.49" x2="235.14" y2="64.49" stroke="#f4c27e" stroke-width="0.8"/>
<path d="M233.94 63.70L235.74 66.80L232.14 66.80Z" fill="#f4c27e"/>
<line x1="241.18" y1="64.13" x2="241.18" y2="66.33" stroke="#f4c27e" stroke-width="0.8"/>
<line x1="239.98" y1="64.13" x2="242.38" y2="64.13" stroke="#f4c27e" stroke-width="0.8"/>
<path d="M241.18 63.33L242.98 66.43L239.38 66.43Z" fill="#f4c27e"/>
<line x1="248.42" y1="64.13" x2="248.42" y2="66.33" stroke="#f4c27e" stroke-width="0.8"/>
<line x1="247.22" y1="64.13" x2="249.62" y2="64.13" stroke="#f4c27e" stroke-width="0.8"/>
<path d="M248.42 63.33L250.22 66.43L246.62 66.43Z" fill="#f4c27e"/>
<line x1="255.66" y1="64.13" x2="255.66" y2="66.33" stroke="#f4c27e" stroke-width="0.8"/>
<line x1="254.46" y1="64.13" x2="256.86" y2="64.13" stroke="#f4c27e" stroke-width="0.8"/>
<path d="M255.66 63.33L257.46 66.43L253.86 66.43Z" fill="#f4c27e"/>
<line x1="262.90" y1="64.13" x2="262.90" y2="66.33" stroke="#f4c27e" stroke-width="0.8"/>
<line x1="261.70" y1="64.13" x2="264.10" y2="64.13" stroke="#f4c27e" stroke-width="0.8"/>
<path d="M262.90 63.33L264.70 66.43L261.10 66.43Z" fill="#f4c27e"/>
<line x1="270.14" y1="64.49" x2="270.14" y2="66.70" stroke="#f4c27e" stroke-width="0.8"/>
<line x1="268.94" y1="64.49" x2="271.34" y2="64.49" stroke="#f4c27e" stroke-width="0.8"/>
<path d="M270.14 63.70L271.94 66.80L268.34 66.80Z" fill="#f4c27e"/>
<line x1="277.38" y1="64.49" x2="277.38" y2="66.70" stroke="#f4c27e" stroke-width="0.8"/>
<line x1="276.18" y1="64.49" x2="278.58" y2="64.49" stroke="#f4c27e" stroke-width="0.8"/>
<path d="M277.38 63.70L279.18 66.80L275.58 66.80Z" fill="#f4c27e"/>
<line x1="284.62" y1="64.49" x2="284.62" y2="66.70" stroke="#f4c27e" stroke-width="0.8"/>
<line x1="283.42" y1="64.49" x2="285.82" y2="64.49" stroke="#f4c27e" stroke-width="0.8"/>
<path d="M284.62 63.70L286.42 66.80L282.82 66.80Z" fill="#f4c27e"/>
<line x1="291.86" y1="64.49" x2="291.86" y2="66.70" stroke="#f4c27e" stroke-width="0.8"/>
<line x1="290.66" y1="64.49" x2="293.06" y2="64.49" stroke="#f4c27e" stroke-width="0.8"/>
<path d="M291.86 63.70L293.66 66.80L290.06 66.80Z" fill="#f4c27e"/>
<line x1="299.10" y1="64.86" x2="299.10" y2="67.06" stroke="#f4c27e" stroke-width="0.8"/>
<line x1="297.90" y1="64.86" x2="300.30" y2="64.86" stroke="#f4c27e" stroke-width="0.8"/>
<path d="M299.10 64.06L300.90 67.16L297.30 67.16Z" fill="#f4c27e"/>
<polyline points="190.50,71.10 197.74,74.04 204.98,74.40 212.22,74.77 219.46,75.14 226.70,75.50 233.94,75.87 241.18,76.24 248.42,76.60 255.66,76.97 262.90,77.34 270.14,77.71 277.38,78.44 284.62,78.81 291.86,79.54 299.10,80.27" fill="none" stroke="#d98e82" stroke-width="1.1"/>
<line x1="190.50" y1="70.37" x2="190.50" y2="71.83" stroke="#d98e82" stroke-width="0.8"/>
<line x1="189.30" y1="70.37" x2="191.70" y2="70.37" stroke="#d98e82" stroke-width="0.8"/>
<path d="M190.50 73.00L192.30 69.90L188.70 69.90Z" fill="#d98e82"/>
<line x1="197.74" y1="73.30" x2="197.74" y2="74.77" stroke="#d98e82" stroke-width="0.8"/>
<line x1="196.54" y1="73.30" x2="198.94" y2="73.30" stroke="#d98e82" stroke-width="0.8"/>
<path d="M197.74 75.94L199.54 72.84L195.94 72.84Z" fill="#d98e82"/>
<line x1="204.98" y1="73.67" x2="204.98" y2="75.14" stroke="#d98e82" stroke-width="0.8"/>
<line x1="203.78" y1="73.67" x2="206.18" y2="73.67" stroke="#d98e82" stroke-width="0.8"/>
<path d="M204.98 76.30L206.78 73.20L203.18 73.20Z" fill="#d98e82"/>
<line x1="212.22" y1="74.04" x2="212.22" y2="75.50" stroke="#d98e82" stroke-width="0.8"/>
<line x1="211.02" y1="74.04" x2="213.42" y2="74.04" stroke="#d98e82" stroke-width="0.8"/>
<path d="M212.22 76.67L214.02 73.57L210.42 73.57Z" fill="#d98e82"/>
<line x1="219.46" y1="74.40" x2="219.46" y2="75.87" stroke="#d98e82" stroke-width="0.8"/>
<line x1="218.26" y1="74.40" x2="220.66" y2="74.40" stroke="#d98e82" stroke-width="0.8"/>
<path d="M219.46 77.04L221.26 73.94L217.66 73.94Z" fill="#d98e82"/>
<line x1="226.70" y1="74.77" x2="226.70" y2="76.24" stroke="#d98e82" stroke-width="0.8"/>
<line x1="225.50" y1="74.77" x2="227.90" y2="74.77" stroke="#d98e82" stroke-width="0.8"/>
<path d="M226.70 77.40L228.50 74.30L224.90 74.30Z" fill="#d98e82"/>
<line x1="233.94" y1="75.14" x2="233.94" y2="76.60" stroke="#d98e82" stroke-width="0.8"/>
<line x1="232.74" y1="75.14" x2="235.14" y2="75.14" stroke="#d98e82" stroke-width="0.8"/>
<path d="M233.94 77.77L235.74 74.67L232.14 74.67Z" fill="#d98e82"/>
<line x1="241.18" y1="75.50" x2="241.18" y2="76.97" stroke="#d98e82" stroke-width="0.8"/>
<line x1="239.98" y1="75.50" x2="242.38" y2="75.50" stroke="#d98e82" stroke-width="0.8"/>
<path d="M241.18 78.14L242.98 75.04L239.38 75.04Z" fill="#d98e82"/>
<line x1="248.42" y1="75.87" x2="248.42" y2="77.34" stroke="#d98e82" stroke-width="0.8"/>
<line x1="247.22" y1="75.87" x2="249.62" y2="75.87" stroke="#d98e82" stroke-width="0.8"/>
<path d="M248.42 78.50L250.22 75.40L246.62 75.40Z" fill="#d98e82"/>
<line x1="255.66" y1="76.24" x2="255.66" y2="77.71" stroke="#d98e82" stroke-width="0.8"/>
<line x1="254.46" y1="76.24" x2="256.86" y2="76.24" stroke="#d98e82" stroke-width="0.8"/>
<path d="M255.66 78.87L257.46 75.77L253.86 75.77Z" fill="#d98e82"/>
<line x1="262.90" y1="76.61" x2="262.90" y2="78.07" stroke="#d98e82" stroke-width="0.8"/>
<line x1="261.70" y1="76.61" x2="264.10" y2="76.61" stroke="#d98e82" stroke-width="0.8"/>
<path d="M262.90 79.24L264.70 76.14L261.10 76.14Z" fill="#d98e82"/>
<line x1="270.14" y1="76.97" x2="270.14" y2="78.44" stroke="#d98e82" stroke-width="0.8"/>
<line x1="268.94" y1="76.97" x2="271.34" y2="76.97" stroke="#d98e82" stroke-width="0.8"/>
<path d="M270.14 79.61L271.94 76.51L268.34 76.51Z" fill="#d98e82"/>
<line x1="277.38" y1="77.71" x2="277.38" y2="79.17" stroke="#d98e82" stroke-width="0.8"/>
<line x1="276.18" y1="77.71" x2="278.58" y2="77.71" stroke="#d98e82" stroke-width="0.8"/>
<path d="M277.38 80.34L279.18 77.24L275.58 77.24Z" fill="#d98e82"/>
<line x1="284.62" y1="78.07" x2="284.62" y2="79.54" stroke="#d98e82" stroke-width="0.8"/>
<line x1="283.42" y1="78.07" x2="285.82" y2="78.07" stroke="#d98e82" stroke-width="0.8"/>
<path d="M284.62 80.71L286.42 77.61L282.82 77.61Z" fill="#d98e82"/>
<line x1="291.86" y1="78.81" x2="291.86" y2="80.27" stroke="#d98e82" stroke-width="0.8"/>
<line x1="290.66" y1="78.81" x2="293.06" y2="78.81" stroke="#d98e82" stroke-width="0.8"/>
<path d="M291.86 81.44L293.66 78.34L290.06 78.34Z" fill="#d98e82"/>
<line x1="299.10" y1="79.54" x2="299.10" y2="81.01" stroke="#d98e82" stroke-width="0.8"/>
<line x1="297.90" y1="79.54" x2="300.30" y2="79.54" stroke="#d98e82" stroke-width="0.8"/>
<path d="M299.10 82.17L300.90 79.07L297.30 79.07Z" fill="#d98e82"/>
<polyline points="190.50,71.10 197.74,72.20 204.98,72.20 212.22,71.83 219.46,71.83 226.70,71.47 233.94,71.47 241.18,71.10 248.42,71.10 255.66,71.10 262.90,70.73 270.14,70.73 277.38,70.37 284.62,70.37 291.86,70.37 299.10,70.37" fill="none" stroke="#b9d3f1" stroke-width="1.1"/>
<line x1="190.50" y1="70.37" x2="190.50" y2="71.83" stroke="#b9d3f1" stroke-width="0.8"/>
<line x1="189.30" y1="70.37" x2="191.70" y2="70.37" stroke="#b9d3f1" stroke-width="0.8"/>
<circle cx="190.50" cy="71.10" r="1.7" fill="#b9d3f1"/>
<line x1="197.74" y1="71.47" x2="197.74" y2="72.93" stroke="#b9d3f1" stroke-width="0.8"/>
<line x1="196.54" y1="71.47" x2="198.94" y2="71.47" stroke="#b9d3f1" stroke-width="0.8"/>
<circle cx="197.74" cy="72.20" r="1.7" fill="#b9d3f1"/>
<line x1="204.98" y1="71.47" x2="204.98" y2="72.93" stroke="#b9d3f1" stroke-width="0.8"/>
<line x1="203.78" y1="71.47" x2="206.18" y2="71.47" stroke="#b9d3f1" stroke-width="0.8"/>
<circle cx="204.98" cy="72.20" r="1.7" fill="#b9d3f1"/>
<line x1="212.22" y1="71.10" x2="212.22" y2="72.57" stroke="#b9d3f1" stroke-width="0.8"/>
<line x1="211.02" y1="71.10" x2="213.42" y2="71.10" stroke="#b9d3f1" stroke-width="0.8"/>
<circle cx="212.22" cy="71.83" r="1.7" fill="#b9d3f1"/>
<line x1="219.46" y1="71.10" x2="219.46" y2="72.57" stroke="#b9d3f1" stroke-width="0.8"/>
<line x1="218.26" y1="71.10" x2="220.66" y2="71.10" stroke="#b9d3f1" stroke-width="0.8"/>
<circle cx="219.46" cy="71.83" r="1.7" fill="#b9d3f1"/>
<line x1="226.70" y1="70.73" x2="226.70" y2="72.20" stroke="#b9d3f1" stroke-width="0.8"/>
<line x1="225.50" y1="70.73" x2="227.90" y2="70.73" stroke="#b9d3f1" stroke-width="0.8"/>
<circle cx="226.70" cy="71.47" r="1.7" fill="#b9d3f1"/>
<line x1="233.94" y1="70.73" x2="233.94" y2="72.20" stroke="#b9d3f1" stroke-width="0.8"/>
<line x1="232.74" y1="70.73" x2="235.14" y2="70.73" stroke="#b9d3f1" stroke-width="0.8"/>
<circle cx="233.94" cy="71.47" r="1.7" fill="#b9d3f1"/>
<line x1="241.18" y1="70.37" x2="241.18" y2="71.83" stroke="#b9d3f1" stroke-width="0.8"/>
<line x1="239.98" y1="70.37" x2="242.38" y2="70.37" stroke="#b9d3f1" stroke-width="0.8"/>
<circle cx="241.18" cy="71.10" r="1.7" fill="#b9d3f1"/>
<line x1="248.42" y1="70.37" x2="248.42" y2="71.83" stroke="#b9d3f1" stroke-width="0.8"/>
<line x1="247.22" y1="70.37" x2="249.62" y2="70.37" stroke="#b9d3f1" stroke-width="0.8"/>
<circle cx="248.42" cy="71.10" r="1.7" fill="#b9d3f1"/>
<line x1="255.66" y1="70.37" x2="255.66" y2="71.83" stroke="#b9d3f1" stroke-width="0.8"/>
<line x1="254.46" y1="70.37" x2="256.86" y2="70.37" stroke="#b9d3f1" stroke-width="0.8"/>
<circle cx="255.66" cy="71.10" r="1.7" fill="#b9d3f1"/>
<line x1="262.90" y1="70.00" x2="262.90" y2="71.47" stroke="#b9d3f1" stroke-width="0.8"/>
<line x1="261.70" y1="70.00" x2="264.10" y2="70.00" stroke="#b9d3f1" stroke-width="0.8"/>
<circle cx="262.90" cy="70.73" r="1.7" fill="#b9d3f1"/>
<line x1="270.14" y1="70.00" x2="270.14" y2="71.47" stroke="#b9d3f1" stroke-width="0.8"/>
<line x1="268.94" y1="70.00" x2="271.34" y2="70.00" stroke="#b9d3f1" stroke-width="0.8"/>
<circle cx="270.14" cy="70.73" r="1.7" fill="#b9d3f1"/>
<line x1="277.38" y1="69.63" x2="277.38" y2="71.10" stroke="#b9d3f1" stroke-width="0.8"/>
<line x1="276.18" y1="69.63" x2="278.58" y2="69.63" stroke="#b9d3f1" stroke-width="0.8"/>
<circle cx="277.38" cy="70.37" r="1.7" fill="#b9d3f1"/>
<line x1="284.62" y1="69.63" x2="284.62" y2="71.10" stroke="#b9d3f1" stroke-width="0.8"/>
<line x1="283.42" y1="69.63" x2="285.82" y2="69.63" stroke="#b9d3f1" stroke-width="0.8"/>
<circle cx="284.62" cy="70.37" r="1.7" fill="#b9d3f1"/>
<line x1="291.86" y1="69.63" x2="291.86" y2="71.10" stroke="#b9d3f1" stroke-width="0.8"/>
<line x1="290.66" y1="69.63" x2="293.06" y2="69.63" stroke="#b9d3f1" stroke-width="0.8"/>
<circle cx="291.86" cy="70.37" r="1.7" fill="#b9d3f1"/>
<line x1="299.10" y1="69.63" x2="299.10" y2="71.10" stroke="#b9d3f1" stroke-width="0.8"/>
<line x1="297.90" y1="69.63" x2="300.30" y2="69.63" stroke="#b9d3f1" stroke-width="0.8"/>
<circle cx="299.10" cy="70.37" r="1.7" fill="#b9d3f1"/>
<polyline points="190.50,71.10 197.74,72.02 204.98,71.83 212.22,71.65 219.46,71.47 226.70,71.47 233.94,71.10 241.18,71.10 248.42,71.10 255.66,71.10 262.90,71.10 270.14,70.73 277.38,70.73 284.62,70.73 291.86,70.73 299.10,70.73" fill="none" stroke="#4f9be0" stroke-width="1.1"/>
<line x1="190.50" y1="70.37" x2="190.50" y2="71.83" stroke="#4f9be0" stroke-width="0.8"/>
<line x1="189.30" y1="70.37" x2="191.70" y2="70.37" stroke="#4f9be0" stroke-width="0.8"/>
<circle cx="190.50" cy="71.10" r="1.7" fill="#4f9be0"/>
<line x1="197.74" y1="71.28" x2="197.74" y2="72.75" stroke="#4f9be0" stroke-width="0.8"/>
<line x1="196.54" y1="71.28" x2="198.94" y2="71.28" stroke="#4f9be0" stroke-width="0.8"/>
<circle cx="197.74" cy="72.02" r="1.7" fill="#4f9be0"/>
<line x1="204.98" y1="71.10" x2="204.98" y2="72.57" stroke="#4f9be0" stroke-width="0.8"/>
<line x1="203.78" y1="71.10" x2="206.18" y2="71.10" stroke="#4f9be0" stroke-width="0.8"/>
<circle cx="204.98" cy="71.83" r="1.7" fill="#4f9be0"/>
<line x1="212.22" y1="70.92" x2="212.22" y2="72.38" stroke="#4f9be0" stroke-width="0.8"/>
<line x1="211.02" y1="70.92" x2="213.42" y2="70.92" stroke="#4f9be0" stroke-width="0.8"/>
<circle cx="212.22" cy="71.65" r="1.7" fill="#4f9be0"/>
<line x1="219.46" y1="70.73" x2="219.46" y2="72.20" stroke="#4f9be0" stroke-width="0.8"/>
<line x1="218.26" y1="70.73" x2="220.66" y2="70.73" stroke="#4f9be0" stroke-width="0.8"/>
<circle cx="219.46" cy="71.47" r="1.7" fill="#4f9be0"/>
<line x1="226.70" y1="70.73" x2="226.70" y2="72.20" stroke="#4f9be0" stroke-width="0.8"/>
<line x1="225.50" y1="70.73" x2="227.90" y2="70.73" stroke="#4f9be0" stroke-width="0.8"/>
<circle cx="226.70" cy="71.47" r="1.7" fill="#4f9be0"/>
<line x1="233.94" y1="70.37" x2="233.94" y2="71.83" stroke="#4f9be0" stroke-width="0.8"/>
<line x1="232.74" y1="70.37" x2="235.14" y2="70.37" stroke="#4f9be0" stroke-width="0.8"/>
<circle cx="233.94" cy="71.10" r="1.7" fill="#4f9be0"/>
<line x1="241.18" y1="70.37" x2="241.18" y2="71.83" stroke="#4f9be0" stroke-width="0.8"/>
<line x1="239.98" y1="70.37" x2="242.38" y2="70.37" stroke="#4f9be0" stroke-width="0.8"/>
<circle cx="241.18" cy="71.10" r="1.7" fill="#4f9be0"/>
<line x1="248.42" y1="70.37" x2="248.42" y2="71.83" stroke="#4f9be0" stroke-width="0.8"/>
<line x1="247.22" y1="70.37" x2="249.62" y2="70.37" stroke="#4f9be0" stroke-width="0.8"/>
<circle cx="248.42" cy="71.10" r="1.7" fill="#4f9be0"/>
<line x1="255.66" y1="70.37" x2="255.66" y2="71.83" stroke="#4f9be0" stroke-width="0.8"/>
<line x1="254.46" y1="70.37" x2="256.86" y2="70.37" stroke="#4f9be0" stroke-width="0.8"/>
<circle cx="255.66" cy="71.10" r="1.7" fill="#4f9be0"/>
<line x1="262.90" y1="70.37" x2="262.90" y2="71.83" stroke="#4f9be0" stroke-width="0.8"/>
<line x1="261.70" y1="70.37" x2="264.10" y2="70.37" stroke="#4f9be0" stroke-width="0.8"/>
<circle cx="262.90" cy="71.10" r="1.7" fill="#4f9be0"/>
<line x1="270.14" y1="70.00" x2="270.14" y2="71.47" stroke="#4f9be0" stroke-width="0.8"/>
<line x1="268.94" y1="70.00" x2="271.34" y2="70.00" stroke="#4f9be0" stroke-width="0.8"/>
<circle cx="270.14" cy="70.73" r="1.7" fill="#4f9be0"/>
<line x1="277.38" y1="70.00" x2="277.38" y2="71.47" stroke="#4f9be0" stroke-width="0.8"/>
<line x1="276.18" y1="70.00" x2="278.58" y2="70.00" stroke="#4f9be0" stroke-width="0.8"/>
<circle cx="277.38" cy="70.73" r="1.7" fill="#4f9be0"/>
<line x1="284.62" y1="70.00" x2="284.62" y2="71.47" stroke="#4f9be0" stroke-width="0.8"/>
<line x1="283.42" y1="70.00" x2="285.82" y2="70.00" stroke="#4f9be0" stroke-width="0.8"/>
<circle cx="284.62" cy="70.73" r="1.7" fill="#4f9be0"/>
<line x1="291.86" y1="70.00" x2="291.86" y2="71.47" stroke="#4f9be0" stroke-width="0.8"/>
<line x1="290.66" y1="70.00" x2="293.06" y2="70.00" stroke="#4f9be0" stroke-width="0.8"/>
<circle cx="291.86" cy="70.73" r="1.7" fill="#4f9be0"/>
<line x1="299.10" y1="70.00" x2="299.10" y2="71.47" stroke="#4f9be0" stroke-width="0.8"/>
<line x1="297.90" y1="70.00" x2="300.30" y2="70.00" stroke="#4f9be0" stroke-width="0.8"/>
<circle cx="299.10" cy="70.73" r="1.7" fill="#4f9be0"/>
<polyline points="190.50,71.10 197.74,71.10 204.98,71.10 212.22,71.10 219.46,71.10 226.70,71.10 233.94,71.10 241.18,71.10 248.42,71.10 255.66,71.10 262.90,71.10 270.14,71.10 277.38,71.10 284.62,71.10 291.86,71.10 299.10,71.10" fill="none" stroke="#5aa83a" stroke-width="1.1"/>
<path d="M190.50 69.10L192.40 71.10L190.50 73.10L188.60 71.10Z" fill="#5aa83a"/>
<path d="M197.74 69.10L199.64 71.10L197.74 73.10L195.84 71.10Z" fill="#5aa83a"/>
<path d="M204.98 69.10L206.88 71.10L204.98 73.10L203.08 71.10Z" fill="#5aa83a"/>
<path d="M212.22 69.10L214.12 71.10L212.22 73.10L210.32 71.10Z" fill="#5aa83a"/>
<path d="M219.46 69.10L221.36 71.10L219.46 73.10L217.56 71.10Z" fill="#5aa83a"/>
<path d="M226.70 69.10L228.60 71.10L226.70 73.10L224.80 71.10Z" fill="#5aa83a"/>
<path d="M233.94 69.10L235.84 71.10L233.94 73.10L232.04 71.10Z" fill="#5aa83a"/>
<path d="M241.18 69.10L243.08 71.10L241.18 73.10L239.28 71.10Z" fill="#5aa83a"/>
<path d="M248.42 69.10L250.32 71.10L248.42 73.10L246.52 71.10Z" fill="#5aa83a"/>
<path d="M255.66 69.10L257.56 71.10L255.66 73.10L253.76 71.10Z" fill="#5aa83a"/>
<path d="M262.90 69.10L264.80 71.10L262.90 73.10L261.00 71.10Z" fill="#5aa83a"/>
<path d="M270.14 69.10L272.04 71.10L270.14 73.10L268.24 71.10Z" fill="#5aa83a"/>
<path d="M277.38 69.10L279.28 71.10L277.38 73.10L275.48 71.10Z" fill="#5aa83a"/>
<path d="M284.62 69.10L286.52 71.10L284.62 73.10L282.72 71.10Z" fill="#5aa83a"/>
<path d="M291.86 69.10L293.76 71.10L291.86 73.10L289.96 71.10Z" fill="#5aa83a"/>
<path d="M299.10 69.10L301.00 71.10L299.10 73.10L297.20 71.10Z" fill="#5aa83a"/>
<polyline points="190.50,71.10 197.74,52.38 204.98,66.70 212.22,69.26 219.46,70.73 226.70,71.47 233.94,71.47 241.18,71.47 248.42,71.47 255.66,71.47 262.90,71.47 270.14,71.83 277.38,71.83 284.62,71.83 291.86,71.83 299.10,71.83" fill="none" stroke="#e08b12" stroke-width="1.1"/>
<line x1="190.50" y1="70.73" x2="190.50" y2="71.47" stroke="#e08b12" stroke-width="0.8"/>
<line x1="189.30" y1="70.73" x2="191.70" y2="70.73" stroke="#e08b12" stroke-width="0.8"/>
<circle cx="190.50" cy="71.10" r="1.7" fill="#e08b12"/>
<line x1="197.74" y1="52.02" x2="197.74" y2="52.75" stroke="#e08b12" stroke-width="0.8"/>
<line x1="196.54" y1="52.02" x2="198.94" y2="52.02" stroke="#e08b12" stroke-width="0.8"/>
<circle cx="197.74" cy="52.38" r="2.4" fill="#e08b12"/>
<line x1="204.98" y1="66.33" x2="204.98" y2="67.06" stroke="#e08b12" stroke-width="0.8"/>
<line x1="203.78" y1="66.33" x2="206.18" y2="66.33" stroke="#e08b12" stroke-width="0.8"/>
<circle cx="204.98" cy="66.70" r="1.7" fill="#e08b12"/>
<line x1="212.22" y1="68.90" x2="212.22" y2="69.63" stroke="#e08b12" stroke-width="0.8"/>
<line x1="211.02" y1="68.90" x2="213.42" y2="68.90" stroke="#e08b12" stroke-width="0.8"/>
<circle cx="212.22" cy="69.26" r="1.7" fill="#e08b12"/>
<line x1="219.46" y1="70.37" x2="219.46" y2="71.10" stroke="#e08b12" stroke-width="0.8"/>
<line x1="218.26" y1="70.37" x2="220.66" y2="70.37" stroke="#e08b12" stroke-width="0.8"/>
<circle cx="219.46" cy="70.73" r="1.7" fill="#e08b12"/>
<line x1="226.70" y1="71.10" x2="226.70" y2="71.83" stroke="#e08b12" stroke-width="0.8"/>
<line x1="225.50" y1="71.10" x2="227.90" y2="71.10" stroke="#e08b12" stroke-width="0.8"/>
<circle cx="226.70" cy="71.47" r="1.7" fill="#e08b12"/>
<line x1="233.94" y1="71.10" x2="233.94" y2="71.83" stroke="#e08b12" stroke-width="0.8"/>
<line x1="232.74" y1="71.10" x2="235.14" y2="71.10" stroke="#e08b12" stroke-width="0.8"/>
<circle cx="233.94" cy="71.47" r="1.7" fill="#e08b12"/>
<line x1="241.18" y1="71.10" x2="241.18" y2="71.83" stroke="#e08b12" stroke-width="0.8"/>
<line x1="239.98" y1="71.10" x2="242.38" y2="71.10" stroke="#e08b12" stroke-width="0.8"/>
<circle cx="241.18" cy="71.47" r="1.7" fill="#e08b12"/>
<line x1="248.42" y1="71.10" x2="248.42" y2="71.83" stroke="#e08b12" stroke-width="0.8"/>
<line x1="247.22" y1="71.10" x2="249.62" y2="71.10" stroke="#e08b12" stroke-width="0.8"/>
<circle cx="248.42" cy="71.47" r="1.7" fill="#e08b12"/>
<line x1="255.66" y1="71.10" x2="255.66" y2="71.83" stroke="#e08b12" stroke-width="0.8"/>
<line x1="254.46" y1="71.10" x2="256.86" y2="71.10" stroke="#e08b12" stroke-width="0.8"/>
<circle cx="255.66" cy="71.47" r="1.7" fill="#e08b12"/>
<line x1="262.90" y1="71.10" x2="262.90" y2="71.83" stroke="#e08b12" stroke-width="0.8"/>
<line x1="261.70" y1="71.10" x2="264.10" y2="71.10" stroke="#e08b12" stroke-width="0.8"/>
<circle cx="262.90" cy="71.47" r="1.7" fill="#e08b12"/>
<line x1="270.14" y1="71.47" x2="270.14" y2="72.20" stroke="#e08b12" stroke-width="0.8"/>
<line x1="268.94" y1="71.47" x2="271.34" y2="71.47" stroke="#e08b12" stroke-width="0.8"/>
<circle cx="270.14" cy="71.83" r="1.7" fill="#e08b12"/>
<line x1="277.38" y1="71.47" x2="277.38" y2="72.20" stroke="#e08b12" stroke-width="0.8"/>
<line x1="276.18" y1="71.47" x2="278.58" y2="71.47" stroke="#e08b12" stroke-width="0.8"/>
<circle cx="277.38" cy="71.83" r="1.7" fill="#e08b12"/>
<line x1="284.62" y1="71.47" x2="284.62" y2="72.20" stroke="#e08b12" stroke-width="0.8"/>
<line x1="283.42" y1="71.47" x2="285.82" y2="71.47" stroke="#e08b12" stroke-width="0.8"/>
<circle cx="284.62" cy="71.83" r="1.7" fill="#e08b12"/>
<line x1="291.86" y1="71.47" x2="291.86" y2="72.20" stroke="#e08b12" stroke-width="0.8"/>
<line x1="290.66" y1="71.47" x2="293.06" y2="71.47" stroke="#e08b12" stroke-width="0.8"/>
<circle cx="291.86" cy="71.83" r="1.7" fill="#e08b12"/>
<line x1="299.10" y1="71.47" x2="299.10" y2="72.20" stroke="#e08b12" stroke-width="0.8"/>
<line x1="297.90" y1="71.47" x2="300.30" y2="71.47" stroke="#e08b12" stroke-width="0.8"/>
<circle cx="299.10" cy="71.83" r="1.7" fill="#e08b12"/>
<polyline points="190.50,71.10 197.74,70.37 204.98,70.37 212.22,70.37 219.46,70.37 226.70,70.37 233.94,70.37 241.18,70.37 248.42,70.37 255.66,70.37 262.90,70.37 270.14,70.37 277.38,70.37 284.62,70.37 291.86,70.37 299.10,70.37" fill="none" stroke="#b34a3c" stroke-width="1.1"/>
<circle cx="190.50" cy="71.10" r="1.7" fill="#b34a3c"/>
<circle cx="197.74" cy="70.37" r="1.7" fill="#b34a3c"/>
<circle cx="204.98" cy="70.37" r="1.7" fill="#b34a3c"/>
<circle cx="212.22" cy="70.37" r="1.7" fill="#b34a3c"/>
<circle cx="219.46" cy="70.37" r="1.7" fill="#b34a3c"/>
<circle cx="226.70" cy="70.37" r="1.7" fill="#b34a3c"/>
<circle cx="233.94" cy="70.37" r="1.7" fill="#b34a3c"/>
<circle cx="241.18" cy="70.37" r="1.7" fill="#b34a3c"/>
<circle cx="248.42" cy="70.37" r="1.7" fill="#b34a3c"/>
<circle cx="255.66" cy="70.37" r="1.7" fill="#b34a3c"/>
<circle cx="262.90" cy="70.37" r="1.7" fill="#b34a3c"/>
<circle cx="270.14" cy="70.37" r="1.7" fill="#b34a3c"/>
<circle cx="277.38" cy="70.37" r="1.7" fill="#b34a3c"/>
<circle cx="284.62" cy="70.37" r="1.7" fill="#b34a3c"/>
<circle cx="291.86" cy="70.37" r="1.7" fill="#b34a3c"/>
<circle cx="299.10" cy="70.37" r="1.7" fill="#b34a3c"/>
<polyline points="190.50,71.10 197.74,69.26 204.98,69.45 212.22,69.45 219.46,69.45 226.70,69.45 233.94,69.45 241.18,69.45 248.42,69.45 255.66,69.45 262.90,69.45 270.14,69.45 277.38,69.45 284.62,69.45 291.86,69.45 299.10,69.45" fill="none" stroke="#a4123f" stroke-width="1.1"/>
<path d="M190.50 69.20L192.30 72.30L188.70 72.30Z" fill="#a4123f"/>
<line x1="197.74" y1="66.33" x2="197.74" y2="72.20" stroke="#a4123f" stroke-width="0.8"/>
<line x1="196.54" y1="66.33" x2="198.94" y2="66.33" stroke="#a4123f" stroke-width="0.8"/>
<path d="M197.74 67.36L199.54 70.46L195.94 70.46Z" fill="#a4123f"/>
<line x1="204.98" y1="67.80" x2="204.98" y2="71.10" stroke="#a4123f" stroke-width="0.8"/>
<line x1="203.78" y1="67.80" x2="206.18" y2="67.80" stroke="#a4123f" stroke-width="0.8"/>
<path d="M204.98 67.55L206.78 70.65L203.18 70.65Z" fill="#a4123f"/>
<line x1="212.22" y1="67.80" x2="212.22" y2="71.10" stroke="#a4123f" stroke-width="0.8"/>
<line x1="211.02" y1="67.80" x2="213.42" y2="67.80" stroke="#a4123f" stroke-width="0.8"/>
<path d="M212.22 67.55L214.02 70.65L210.42 70.65Z" fill="#a4123f"/>
<line x1="219.46" y1="67.80" x2="219.46" y2="71.10" stroke="#a4123f" stroke-width="0.8"/>
<line x1="218.26" y1="67.80" x2="220.66" y2="67.80" stroke="#a4123f" stroke-width="0.8"/>
<path d="M219.46 67.55L221.26 70.65L217.66 70.65Z" fill="#a4123f"/>
<line x1="226.70" y1="67.80" x2="226.70" y2="71.10" stroke="#a4123f" stroke-width="0.8"/>
<line x1="225.50" y1="67.80" x2="227.90" y2="67.80" stroke="#a4123f" stroke-width="0.8"/>
<path d="M226.70 67.55L228.50 70.65L224.90 70.65Z" fill="#a4123f"/>
<line x1="233.94" y1="67.80" x2="233.94" y2="71.10" stroke="#a4123f" stroke-width="0.8"/>
<line x1="232.74" y1="67.80" x2="235.14" y2="67.80" stroke="#a4123f" stroke-width="0.8"/>
<path d="M233.94 67.55L235.74 70.65L232.14 70.65Z" fill="#a4123f"/>
<line x1="241.18" y1="67.80" x2="241.18" y2="71.10" stroke="#a4123f" stroke-width="0.8"/>
<line x1="239.98" y1="67.80" x2="242.38" y2="67.80" stroke="#a4123f" stroke-width="0.8"/>
<path d="M241.18 67.55L242.98 70.65L239.38 70.65Z" fill="#a4123f"/>
<line x1="248.42" y1="67.80" x2="248.42" y2="71.10" stroke="#a4123f" stroke-width="0.8"/>
<line x1="247.22" y1="67.80" x2="249.62" y2="67.80" stroke="#a4123f" stroke-width="0.8"/>
<path d="M248.42 67.55L250.22 70.65L246.62 70.65Z" fill="#a4123f"/>
<line x1="255.66" y1="67.80" x2="255.66" y2="71.10" stroke="#a4123f" stroke-width="0.8"/>
<line x1="254.46" y1="67.80" x2="256.86" y2="67.80" stroke="#a4123f" stroke-width="0.8"/>
<path d="M255.66 67.55L257.46 70.65L253.86 70.65Z" fill="#a4123f"/>
<line x1="262.90" y1="67.80" x2="262.90" y2="71.10" stroke="#a4123f" stroke-width="0.8"/>
<line x1="261.70" y1="67.80" x2="264.10" y2="67.80" stroke="#a4123f" stroke-width="0.8"/>
<path d="M262.90 67.55L264.70 70.65L261.10 70.65Z" fill="#a4123f"/>
<line x1="270.14" y1="67.80" x2="270.14" y2="71.10" stroke="#a4123f" stroke-width="0.8"/>
<line x1="268.94" y1="67.80" x2="271.34" y2="67.80" stroke="#a4123f" stroke-width="0.8"/>
<path d="M270.14 67.55L271.94 70.65L268.34 70.65Z" fill="#a4123f"/>
<line x1="277.38" y1="67.80" x2="277.38" y2="71.10" stroke="#a4123f" stroke-width="0.8"/>
<line x1="276.18" y1="67.80" x2="278.58" y2="67.80" stroke="#a4123f" stroke-width="0.8"/>
<path d="M277.38 67.55L279.18 70.65L275.58 70.65Z" fill="#a4123f"/>
<line x1="284.62" y1="67.80" x2="284.62" y2="71.10" stroke="#a4123f" stroke-width="0.8"/>
<line x1="283.42" y1="67.80" x2="285.82" y2="67.80" stroke="#a4123f" stroke-width="0.8"/>
<path d="M284.62 67.55L286.42 70.65L282.82 70.65Z" fill="#a4123f"/>
<line x1="291.86" y1="67.80" x2="291.86" y2="71.10" stroke="#a4123f" stroke-width="0.8"/>
<line x1="290.66" y1="67.80" x2="293.06" y2="67.80" stroke="#a4123f" stroke-width="0.8"/>
<path d="M291.86 67.55L293.66 70.65L290.06 70.65Z" fill="#a4123f"/>
<line x1="299.10" y1="67.80" x2="299.10" y2="71.10" stroke="#a4123f" stroke-width="0.8"/>
<line x1="297.90" y1="67.80" x2="300.30" y2="67.80" stroke="#a4123f" stroke-width="0.8"/>
<path d="M299.10 67.55L300.90 70.65L297.30 70.65Z" fill="#a4123f"/>
<polyline points="190.50,71.10 197.74,71.10 204.98,71.10 212.22,71.10 219.46,71.10 226.70,71.10 233.94,71.10 241.18,71.10 248.42,71.10 255.66,71.10 262.90,71.10 270.14,71.10 277.38,71.10 284.62,71.10 291.86,71.10 299.10,71.10" fill="none" stroke="#1e3d7b" stroke-width="1.1"/>
<path d="M190.50 69.10L192.40 71.10L190.50 73.10L188.60 71.10Z" fill="#1e3d7b"/>
<path d="M197.74 69.10L199.64 71.10L197.74 73.10L195.84 71.10Z" fill="#1e3d7b"/>
<path d="M204.98 69.10L206.88 71.10L204.98 73.10L203.08 71.10Z" fill="#1e3d7b"/>
<path d="M212.22 69.10L214.12 71.10L212.22 73.10L210.32 71.10Z" fill="#1e3d7b"/>
<path d="M219.46 69.10L221.36 71.10L219.46 73.10L217.56 71.10Z" fill="#1e3d7b"/>
<path d="M226.70 69.10L228.60 71.10L226.70 73.10L224.80 71.10Z" fill="#1e3d7b"/>
<path d="M233.94 69.10L235.84 71.10L233.94 73.10L232.04 71.10Z" fill="#1e3d7b"/>
<path d="M241.18 69.10L243.08 71.10L241.18 73.10L239.28 71.10Z" fill="#1e3d7b"/>
<path d="M248.42 69.10L250.32 71.10L248.42 73.10L246.52 71.10Z" fill="#1e3d7b"/>
<path d="M255.66 69.10L257.56 71.10L255.66 73.10L253.76 71.10Z" fill="#1e3d7b"/>
<path d="M262.90 69.10L264.80 71.10L262.90 73.10L261.00 71.10Z" fill="#1e3d7b"/>
<path d="M270.14 69.10L272.04 71.10L270.14 73.10L268.24 71.10Z" fill="#1e3d7b"/>
<path d="M277.38 69.10L279.28 71.10L277.38 73.10L275.48 71.10Z" fill="#1e3d7b"/>
<path d="M284.62 69.10L286.52 71.10L284.62 73.10L282.72 71.10Z" fill="#1e3d7b"/>
<path d="M291.86 69.10L293.76 71.10L291.86 73.10L289.96 71.10Z" fill="#1e3d7b"/>
<path d="M299.10 69.10L301.00 71.10L299.10 73.10L297.20 71.10Z" fill="#1e3d7b"/>
<polyline points="190.50,71.10 197.74,71.10 204.98,71.10 212.22,71.10 219.46,71.10 226.70,71.10 233.94,71.10 241.18,71.10 248.42,71.10 255.66,71.10 262.90,71.10 270.14,71.10 277.38,71.10 284.62,71.10 291.86,71.10 299.10,71.10" fill="none" stroke="#4a1a6b" stroke-width="1.1"/>
<circle cx="190.50" cy="71.10" r="1.7" fill="#4a1a6b"/>
<circle cx="197.74" cy="71.10" r="1.7" fill="#4a1a6b"/>
<circle cx="204.98" cy="71.10" r="1.7" fill="#4a1a6b"/>
<circle cx="212.22" cy="71.10" r="1.7" fill="#4a1a6b"/>
<circle cx="219.46" cy="71.10" r="1.7" fill="#4a1a6b"/>
<circle cx="226.70" cy="71.10" r="1.7" fill="#4a1a6b"/>
<circle cx="233.94" cy="71.10" r="1.7" fill="#4a1a6b"/>
<circle cx="241.18" cy="71.10" r="1.7" fill="#4a1a6b"/>
<circle cx="248.42" cy="71.10" r="1.7" fill="#4a1a6b"/>
<circle cx="255.66" cy="71.10" r="1.7" fill="#4a1a6b"/>
<circle cx="262.90" cy="71.10" r="1.7" fill="#4a1a6b"/>
<circle cx="270.14" cy="71.10" r="1.7" fill="#4a1a6b"/>
<circle cx="277.38" cy="71.10" r="1.7" fill="#4a1a6b"/>
<circle cx="284.62" cy="71.10" r="1.7" fill="#4a1a6b"/>
<circle cx="291.86" cy="71.10" r="1.7" fill="#4a1a6b"/>
<circle cx="299.10" cy="71.10" r="1.7" fill="#4a1a6b"/>
<text x="393.70" y="25.70" font-size="9" text-anchor="middle">HT</text>
<line x1="336.10" y1="32.00" x2="336.10" y2="89.50" stroke="#231f20" stroke-width="1.4"/>
<line x1="335.40" y1="89.50" x2="452.50" y2="89.50" stroke="#231f20" stroke-width="1.4"/>
<line x1="332.80" y1="34.40" x2="336.10" y2="34.40" stroke="#231f20" stroke-width="1.2"/>
<text x="329.60" y="37.05" font-size="7.5" text-anchor="end">2.0</text>
<line x1="332.80" y1="52.75" x2="336.10" y2="52.75" stroke="#231f20" stroke-width="1.2"/>
<text x="329.60" y="55.40" font-size="7.5" text-anchor="end">1.5</text>
<line x1="332.80" y1="71.10" x2="336.10" y2="71.10" stroke="#231f20" stroke-width="1.2"/>
<text x="329.60" y="73.75" font-size="7.5" text-anchor="end">1.0</text>
<line x1="332.80" y1="89.45" x2="336.10" y2="89.45" stroke="#231f20" stroke-width="1.2"/>
<text x="329.60" y="92.10" font-size="7.5" text-anchor="end">0.5</text>
<line x1="339.70" y1="89.50" x2="339.70" y2="92.60" stroke="#231f20" stroke-width="1.2"/>
<text x="339.70" y="101.40" font-size="6.3" text-anchor="middle">0</text>
<line x1="346.94" y1="89.50" x2="346.94" y2="92.60" stroke="#231f20" stroke-width="1.2"/>
<text x="346.94" y="101.40" font-size="6.3" text-anchor="middle">5</text>
<line x1="354.18" y1="89.50" x2="354.18" y2="92.60" stroke="#231f20" stroke-width="1.2"/>
<text x="354.18" y="101.40" font-size="6.3" text-anchor="middle" textLength="6.3" lengthAdjust="spacingAndGlyphs">10</text>
<line x1="361.42" y1="89.50" x2="361.42" y2="92.60" stroke="#231f20" stroke-width="1.2"/>
<text x="361.42" y="101.40" font-size="6.3" text-anchor="middle" textLength="6.3" lengthAdjust="spacingAndGlyphs">15</text>
<line x1="368.66" y1="89.50" x2="368.66" y2="92.60" stroke="#231f20" stroke-width="1.2"/>
<text x="368.66" y="101.40" font-size="6.3" text-anchor="middle" textLength="6.3" lengthAdjust="spacingAndGlyphs">20</text>
<line x1="375.90" y1="89.50" x2="375.90" y2="92.60" stroke="#231f20" stroke-width="1.2"/>
<text x="375.90" y="101.40" font-size="6.3" text-anchor="middle" textLength="6.3" lengthAdjust="spacingAndGlyphs">25</text>
<line x1="383.14" y1="89.50" x2="383.14" y2="92.60" stroke="#231f20" stroke-width="1.2"/>
<text x="383.14" y="101.40" font-size="6.3" text-anchor="middle" textLength="6.3" lengthAdjust="spacingAndGlyphs">30</text>
<line x1="390.38" y1="89.50" x2="390.38" y2="92.60" stroke="#231f20" stroke-width="1.2"/>
<text x="390.38" y="101.40" font-size="6.3" text-anchor="middle" textLength="6.3" lengthAdjust="spacingAndGlyphs">35</text>
<line x1="397.62" y1="89.50" x2="397.62" y2="92.60" stroke="#231f20" stroke-width="1.2"/>
<text x="397.62" y="101.40" font-size="6.3" text-anchor="middle" textLength="6.3" lengthAdjust="spacingAndGlyphs">40</text>
<line x1="404.86" y1="89.50" x2="404.86" y2="92.60" stroke="#231f20" stroke-width="1.2"/>
<text x="404.86" y="101.40" font-size="6.3" text-anchor="middle" textLength="6.3" lengthAdjust="spacingAndGlyphs">45</text>
<line x1="412.10" y1="89.50" x2="412.10" y2="92.60" stroke="#231f20" stroke-width="1.2"/>
<text x="412.10" y="101.40" font-size="6.3" text-anchor="middle" textLength="6.3" lengthAdjust="spacingAndGlyphs">50</text>
<line x1="419.34" y1="89.50" x2="419.34" y2="92.60" stroke="#231f20" stroke-width="1.2"/>
<text x="419.34" y="101.40" font-size="6.3" text-anchor="middle" textLength="6.3" lengthAdjust="spacingAndGlyphs">55</text>
<line x1="426.58" y1="89.50" x2="426.58" y2="92.60" stroke="#231f20" stroke-width="1.2"/>
<text x="426.58" y="101.40" font-size="6.3" text-anchor="middle" textLength="6.3" lengthAdjust="spacingAndGlyphs">65</text>
<line x1="433.82" y1="89.50" x2="433.82" y2="92.60" stroke="#231f20" stroke-width="1.2"/>
<text x="433.82" y="101.40" font-size="6.3" text-anchor="middle" textLength="6.3" lengthAdjust="spacingAndGlyphs">70</text>
<line x1="441.06" y1="89.50" x2="441.06" y2="92.60" stroke="#231f20" stroke-width="1.2"/>
<text x="441.06" y="101.40" font-size="6.3" text-anchor="middle" textLength="6.3" lengthAdjust="spacingAndGlyphs">75</text>
<line x1="448.30" y1="89.50" x2="448.30" y2="92.60" stroke="#231f20" stroke-width="1.2"/>
<text x="448.30" y="101.40" font-size="6.3" text-anchor="middle" textLength="6.3" lengthAdjust="spacingAndGlyphs">80</text>
<text x="394.10" y="113.60" font-size="9.7" text-anchor="middle" textLength="35" lengthAdjust="spacingAndGlyphs">Time [min]</text>
<polyline points="339.70,71.10 346.94,45.04 354.18,63.76 361.42,65.23 368.66,64.49 375.90,63.03 383.14,61.56 390.38,60.09 397.62,58.99 404.86,57.89 412.10,56.79 419.34,56.05 426.58,56.05 433.82,56.05 441.06,56.05 448.30,56.42" fill="none" stroke="#f4c27e" stroke-width="1.1"/>
<path d="M339.70 69.20L341.50 72.30L337.90 72.30Z" fill="#f4c27e"/>
<line x1="346.94" y1="42.11" x2="346.94" y2="47.98" stroke="#f4c27e" stroke-width="0.8"/>
<line x1="345.74" y1="42.11" x2="348.14" y2="42.11" stroke="#f4c27e" stroke-width="0.8"/>
<path d="M346.94 43.14L348.74 46.24L345.14 46.24Z" fill="#f4c27e"/>
<line x1="354.18" y1="62.66" x2="354.18" y2="64.86" stroke="#f4c27e" stroke-width="0.8"/>
<line x1="352.98" y1="62.66" x2="355.38" y2="62.66" stroke="#f4c27e" stroke-width="0.8"/>
<path d="M354.18 61.86L355.98 64.96L352.38 64.96Z" fill="#f4c27e"/>
<line x1="361.42" y1="64.13" x2="361.42" y2="66.33" stroke="#f4c27e" stroke-width="0.8"/>
<line x1="360.22" y1="64.13" x2="362.62" y2="64.13" stroke="#f4c27e" stroke-width="0.8"/>
<path d="M361.42 63.33L363.22 66.43L359.62 66.43Z" fill="#f4c27e"/>
<line x1="368.66" y1="63.39" x2="368.66" y2="65.59" stroke="#f4c27e" stroke-width="0.8"/>
<line x1="367.46" y1="63.39" x2="369.86" y2="63.39" stroke="#f4c27e" stroke-width="0.8"/>
<path d="M368.66 62.59L370.46 65.69L366.86 65.69Z" fill="#f4c27e"/>
<line x1="375.90" y1="61.92" x2="375.90" y2="64.13" stroke="#f4c27e" stroke-width="0.8"/>
<line x1="374.70" y1="61.92" x2="377.10" y2="61.92" stroke="#f4c27e" stroke-width="0.8"/>
<path d="M375.90 61.13L377.70 64.23L374.10 64.23Z" fill="#f4c27e"/>
<line x1="383.14" y1="60.46" x2="383.14" y2="62.66" stroke="#f4c27e" stroke-width="0.8"/>
<line x1="381.94" y1="60.46" x2="384.34" y2="60.46" stroke="#f4c27e" stroke-width="0.8"/>
<path d="M383.14 59.66L384.94 62.76L381.34 62.76Z" fill="#f4c27e"/>
<line x1="390.38" y1="58.99" x2="390.38" y2="61.19" stroke="#f4c27e" stroke-width="0.8"/>
<line x1="389.18" y1="58.99" x2="391.58" y2="58.99" stroke="#f4c27e" stroke-width="0.8"/>
<path d="M390.38 58.19L392.18 61.29L388.58 61.29Z" fill="#f4c27e"/>
<line x1="397.62" y1="57.89" x2="397.62" y2="60.09" stroke="#f4c27e" stroke-width="0.8"/>
<line x1="396.42" y1="57.89" x2="398.82" y2="57.89" stroke="#f4c27e" stroke-width="0.8"/>
<path d="M397.62 57.09L399.42 60.19L395.82 60.19Z" fill="#f4c27e"/>
<line x1="404.86" y1="56.79" x2="404.86" y2="58.99" stroke="#f4c27e" stroke-width="0.8"/>
<line x1="403.66" y1="56.79" x2="406.06" y2="56.79" stroke="#f4c27e" stroke-width="0.8"/>
<path d="M404.86 55.99L406.66 59.09L403.06 59.09Z" fill="#f4c27e"/>
<line x1="412.10" y1="55.69" x2="412.10" y2="57.89" stroke="#f4c27e" stroke-width="0.8"/>
<line x1="410.90" y1="55.69" x2="413.30" y2="55.69" stroke="#f4c27e" stroke-width="0.8"/>
<path d="M412.10 54.89L413.90 57.99L410.30 57.99Z" fill="#f4c27e"/>
<line x1="419.34" y1="54.95" x2="419.34" y2="57.15" stroke="#f4c27e" stroke-width="0.8"/>
<line x1="418.14" y1="54.95" x2="420.54" y2="54.95" stroke="#f4c27e" stroke-width="0.8"/>
<path d="M419.34 54.15L421.14 57.25L417.54 57.25Z" fill="#f4c27e"/>
<line x1="426.58" y1="54.95" x2="426.58" y2="57.15" stroke="#f4c27e" stroke-width="0.8"/>
<line x1="425.38" y1="54.95" x2="427.78" y2="54.95" stroke="#f4c27e" stroke-width="0.8"/>
<path d="M426.58 54.15L428.38 57.25L424.78 57.25Z" fill="#f4c27e"/>
<line x1="433.82" y1="54.95" x2="433.82" y2="57.15" stroke="#f4c27e" stroke-width="0.8"/>
<line x1="432.62" y1="54.95" x2="435.02" y2="54.95" stroke="#f4c27e" stroke-width="0.8"/>
<path d="M433.82 54.15L435.62 57.25L432.02 57.25Z" fill="#f4c27e"/>
<line x1="441.06" y1="54.95" x2="441.06" y2="57.15" stroke="#f4c27e" stroke-width="0.8"/>
<line x1="439.86" y1="54.95" x2="442.26" y2="54.95" stroke="#f4c27e" stroke-width="0.8"/>
<path d="M441.06 54.15L442.86 57.25L439.26 57.25Z" fill="#f4c27e"/>
<line x1="448.30" y1="55.32" x2="448.30" y2="57.52" stroke="#f4c27e" stroke-width="0.8"/>
<line x1="447.10" y1="55.32" x2="449.50" y2="55.32" stroke="#f4c27e" stroke-width="0.8"/>
<path d="M448.30 54.52L450.10 57.62L446.50 57.62Z" fill="#f4c27e"/>
<polyline points="339.70,71.10 346.94,75.50 354.18,75.50 361.42,75.69 368.66,75.87 375.90,76.24 383.14,76.60 390.38,77.34 397.62,78.07 404.86,79.17 412.10,79.72 419.34,80.27 426.58,81.01 433.82,81.38 441.06,81.74 448.30,82.11" fill="none" stroke="#d98e82" stroke-width="1.1"/>
<line x1="339.70" y1="70.37" x2="339.70" y2="71.83" stroke="#d98e82" stroke-width="0.8"/>
<line x1="338.50" y1="70.37" x2="340.90" y2="70.37" stroke="#d98e82" stroke-width="0.8"/>
<path d="M339.70 73.00L341.50 69.90L337.90 69.90Z" fill="#d98e82"/>
<line x1="346.94" y1="74.77" x2="346.94" y2="76.24" stroke="#d98e82" stroke-width="0.8"/>
<line x1="345.74" y1="74.77" x2="348.14" y2="74.77" stroke="#d98e82" stroke-width="0.8"/>
<path d="M346.94 77.40L348.74 74.30L345.14 74.30Z" fill="#d98e82"/>
<line x1="354.18" y1="74.77" x2="354.18" y2="76.24" stroke="#d98e82" stroke-width="0.8"/>
<line x1="352.98" y1="74.77" x2="355.38" y2="74.77" stroke="#d98e82" stroke-width="0.8"/>
<path d="M354.18 77.40L355.98 74.30L352.38 74.30Z" fill="#d98e82"/>
<line x1="361.42" y1="74.95" x2="361.42" y2="76.42" stroke="#d98e82" stroke-width="0.8"/>
<line x1="360.22" y1="74.95" x2="362.62" y2="74.95" stroke="#d98e82" stroke-width="0.8"/>
<path d="M361.42 77.59L363.22 74.49L359.62 74.49Z" fill="#d98e82"/>
<line x1="368.66" y1="75.14" x2="368.66" y2="76.60" stroke="#d98e82" stroke-width="0.8"/>
<line x1="367.46" y1="75.14" x2="369.86" y2="75.14" stroke="#d98e82" stroke-width="0.8"/>
<path d="M368.66 77.77L370.46 74.67L366.86 74.67Z" fill="#d98e82"/>
<line x1="375.90" y1="75.50" x2="375.90" y2="76.97" stroke="#d98e82" stroke-width="0.8"/>
<line x1="374.70" y1="75.50" x2="377.10" y2="75.50" stroke="#d98e82" stroke-width="0.8"/>
<path d="M375.90 78.14L377.70 75.04L374.10 75.04Z" fill="#d98e82"/>
<line x1="383.14" y1="75.87" x2="383.14" y2="77.34" stroke="#d98e82" stroke-width="0.8"/>
<line x1="381.94" y1="75.87" x2="384.34" y2="75.87" stroke="#d98e82" stroke-width="0.8"/>
<path d="M383.14 78.50L384.94 75.40L381.34 75.40Z" fill="#d98e82"/>
<line x1="390.38" y1="76.61" x2="390.38" y2="78.07" stroke="#d98e82" stroke-width="0.8"/>
<line x1="389.18" y1="76.61" x2="391.58" y2="76.61" stroke="#d98e82" stroke-width="0.8"/>
<path d="M390.38 79.24L392.18 76.14L388.58 76.14Z" fill="#d98e82"/>
<line x1="397.62" y1="77.34" x2="397.62" y2="78.81" stroke="#d98e82" stroke-width="0.8"/>
<line x1="396.42" y1="77.34" x2="398.82" y2="77.34" stroke="#d98e82" stroke-width="0.8"/>
<path d="M397.62 79.97L399.42 76.87L395.82 76.87Z" fill="#d98e82"/>
<line x1="404.86" y1="78.44" x2="404.86" y2="79.91" stroke="#d98e82" stroke-width="0.8"/>
<line x1="403.66" y1="78.44" x2="406.06" y2="78.44" stroke="#d98e82" stroke-width="0.8"/>
<path d="M404.86 81.07L406.66 77.97L403.06 77.97Z" fill="#d98e82"/>
<line x1="412.10" y1="78.99" x2="412.10" y2="80.46" stroke="#d98e82" stroke-width="0.8"/>
<line x1="410.90" y1="78.99" x2="413.30" y2="78.99" stroke="#d98e82" stroke-width="0.8"/>
<path d="M412.10 81.62L413.90 78.52L410.30 78.52Z" fill="#d98e82"/>
<line x1="419.34" y1="79.54" x2="419.34" y2="81.01" stroke="#d98e82" stroke-width="0.8"/>
<line x1="418.14" y1="79.54" x2="420.54" y2="79.54" stroke="#d98e82" stroke-width="0.8"/>
<path d="M419.34 82.17L421.14 79.07L417.54 79.07Z" fill="#d98e82"/>
<line x1="426.58" y1="80.28" x2="426.58" y2="81.74" stroke="#d98e82" stroke-width="0.8"/>
<line x1="425.38" y1="80.28" x2="427.78" y2="80.28" stroke="#d98e82" stroke-width="0.8"/>
<path d="M426.58 82.91L428.38 79.81L424.78 79.81Z" fill="#d98e82"/>
<line x1="433.82" y1="80.64" x2="433.82" y2="82.11" stroke="#d98e82" stroke-width="0.8"/>
<line x1="432.62" y1="80.64" x2="435.02" y2="80.64" stroke="#d98e82" stroke-width="0.8"/>
<path d="M433.82 83.28L435.62 80.18L432.02 80.18Z" fill="#d98e82"/>
<line x1="441.06" y1="81.01" x2="441.06" y2="82.48" stroke="#d98e82" stroke-width="0.8"/>
<line x1="439.86" y1="81.01" x2="442.26" y2="81.01" stroke="#d98e82" stroke-width="0.8"/>
<path d="M441.06 83.64L442.86 80.54L439.26 80.54Z" fill="#d98e82"/>
<line x1="448.30" y1="81.38" x2="448.30" y2="82.84" stroke="#d98e82" stroke-width="0.8"/>
<line x1="447.10" y1="81.38" x2="449.50" y2="81.38" stroke="#d98e82" stroke-width="0.8"/>
<path d="M448.30 84.01L450.10 80.91L446.50 80.91Z" fill="#d98e82"/>
<polyline points="339.70,71.10 346.94,70.37 354.18,70.37 361.42,70.37 368.66,70.37 375.90,70.37 383.14,70.37 390.38,70.37 397.62,70.37 404.86,70.37 412.10,70.37 419.34,70.37 426.58,70.37 433.82,70.37 441.06,70.37 448.30,70.37" fill="none" stroke="#b9d3f1" stroke-width="1.1"/>
<circle cx="339.70" cy="71.10" r="1.7" fill="#b9d3f1"/>
<circle cx="346.94" cy="70.37" r="1.7" fill="#b9d3f1"/>
<circle cx="354.18" cy="70.37" r="1.7" fill="#b9d3f1"/>
<circle cx="361.42" cy="70.37" r="1.7" fill="#b9d3f1"/>
<circle cx="368.66" cy="70.37" r="1.7" fill="#b9d3f1"/>
<circle cx="375.90" cy="70.37" r="1.7" fill="#b9d3f1"/>
<circle cx="383.14" cy="70.37" r="1.7" fill="#b9d3f1"/>
<circle cx="390.38" cy="70.37" r="1.7" fill="#b9d3f1"/>
<circle cx="397.62" cy="70.37" r="1.7" fill="#b9d3f1"/>
<circle cx="404.86" cy="70.37" r="1.7" fill="#b9d3f1"/>
<circle cx="412.10" cy="70.37" r="1.7" fill="#b9d3f1"/>
<circle cx="419.34" cy="70.37" r="1.7" fill="#b9d3f1"/>
<circle cx="426.58" cy="70.37" r="1.7" fill="#b9d3f1"/>
<circle cx="433.82" cy="70.37" r="1.7" fill="#b9d3f1"/>
<circle cx="441.06" cy="70.37" r="1.7" fill="#b9d3f1"/>
<circle cx="448.30" cy="70.37" r="1.7" fill="#b9d3f1"/>
<polyline points="339.70,71.10 346.94,70.00 354.18,70.00 361.42,70.00 368.66,70.00 375.90,70.00 383.14,70.00 390.38,70.00 397.62,70.00 404.86,70.00 412.10,70.00 419.34,70.00 426.58,70.00 433.82,70.00 441.06,70.00 448.30,70.00" fill="none" stroke="#4f9be0" stroke-width="1.1"/>
<circle cx="339.70" cy="71.10" r="1.7" fill="#4f9be0"/>
<circle cx="346.94" cy="70.00" r="1.7" fill="#4f9be0"/>
<circle cx="354.18" cy="70.00" r="1.7" fill="#4f9be0"/>
<circle cx="361.42" cy="70.00" r="1.7" fill="#4f9be0"/>
<circle cx="368.66" cy="70.00" r="1.7" fill="#4f9be0"/>
<circle cx="375.90" cy="70.00" r="1.7" fill="#4f9be0"/>
<circle cx="383.14" cy="70.00" r="1.7" fill="#4f9be0"/>
<circle cx="390.38" cy="70.00" r="1.7" fill="#4f9be0"/>
<circle cx="397.62" cy="70.00" r="1.7" fill="#4f9be0"/>
<circle cx="404.86" cy="70.00" r="1.7" fill="#4f9be0"/>
<circle cx="412.10" cy="70.00" r="1.7" fill="#4f9be0"/>
<circle cx="419.34" cy="70.00" r="1.7" fill="#4f9be0"/>
<circle cx="426.58" cy="70.00" r="1.7" fill="#4f9be0"/>
<circle cx="433.82" cy="70.00" r="1.7" fill="#4f9be0"/>
<circle cx="441.06" cy="70.00" r="1.7" fill="#4f9be0"/>
<circle cx="448.30" cy="70.00" r="1.7" fill="#4f9be0"/>
<polyline points="339.70,71.10 346.94,70.00 354.18,68.90 361.42,68.90 368.66,68.90 375.90,68.90 383.14,68.90 390.38,68.90 397.62,68.90 404.86,68.90 412.10,68.90 419.34,68.90 426.58,68.90 433.82,68.90 441.06,68.90 448.30,68.90" fill="none" stroke="#5aa83a" stroke-width="1.1"/>
<line x1="339.70" y1="70.37" x2="339.70" y2="71.83" stroke="#5aa83a" stroke-width="0.8"/>
<line x1="338.50" y1="70.37" x2="340.90" y2="70.37" stroke="#5aa83a" stroke-width="0.8"/>
<path d="M339.70 69.10L341.60 71.10L339.70 73.10L337.80 71.10Z" fill="#5aa83a"/>
<line x1="346.94" y1="69.27" x2="346.94" y2="70.73" stroke="#5aa83a" stroke-width="0.8"/>
<line x1="345.74" y1="69.27" x2="348.14" y2="69.27" stroke="#5aa83a" stroke-width="0.8"/>
<path d="M346.94 68.00L348.84 70.00L346.94 72.00L345.04 70.00Z" fill="#5aa83a"/>
<line x1="354.18" y1="68.16" x2="354.18" y2="69.63" stroke="#5aa83a" stroke-width="0.8"/>
<line x1="352.98" y1="68.16" x2="355.38" y2="68.16" stroke="#5aa83a" stroke-width="0.8"/>
<path d="M354.18 66.90L356.08 68.90L354.18 70.90L352.28 68.90Z" fill="#5aa83a"/>
<line x1="361.42" y1="68.16" x2="361.42" y2="69.63" stroke="#5aa83a" stroke-width="0.8"/>
<line x1="360.22" y1="68.16" x2="362.62" y2="68.16" stroke="#5aa83a" stroke-width="0.8"/>
<path d="M361.42 66.90L363.32 68.90L361.42 70.90L359.52 68.90Z" fill="#5aa83a"/>
<line x1="368.66" y1="68.16" x2="368.66" y2="69.63" stroke="#5aa83a" stroke-width="0.8"/>
<line x1="367.46" y1="68.16" x2="369.86" y2="68.16" stroke="#5aa83a" stroke-width="0.8"/>
<path d="M368.66 66.90L370.56 68.90L368.66 70.90L366.76 68.90Z" fill="#5aa83a"/>
<line x1="375.90" y1="68.16" x2="375.90" y2="69.63" stroke="#5aa83a" stroke-width="0.8"/>
<line x1="374.70" y1="68.16" x2="377.10" y2="68.16" stroke="#5aa83a" stroke-width="0.8"/>
<path d="M375.90 66.90L377.80 68.90L375.90 70.90L374.00 68.90Z" fill="#5aa83a"/>
<line x1="383.14" y1="68.16" x2="383.14" y2="69.63" stroke="#5aa83a" stroke-width="0.8"/>
<line x1="381.94" y1="68.16" x2="384.34" y2="68.16" stroke="#5aa83a" stroke-width="0.8"/>
<path d="M383.14 66.90L385.04 68.90L383.14 70.90L381.24 68.90Z" fill="#5aa83a"/>
<line x1="390.38" y1="68.16" x2="390.38" y2="69.63" stroke="#5aa83a" stroke-width="0.8"/>
<line x1="389.18" y1="68.16" x2="391.58" y2="68.16" stroke="#5aa83a" stroke-width="0.8"/>
<path d="M390.38 66.90L392.28 68.90L390.38 70.90L388.48 68.90Z" fill="#5aa83a"/>
<line x1="397.62" y1="68.16" x2="397.62" y2="69.63" stroke="#5aa83a" stroke-width="0.8"/>
<line x1="396.42" y1="68.16" x2="398.82" y2="68.16" stroke="#5aa83a" stroke-width="0.8"/>
<path d="M397.62 66.90L399.52 68.90L397.62 70.90L395.72 68.90Z" fill="#5aa83a"/>
<line x1="404.86" y1="68.16" x2="404.86" y2="69.63" stroke="#5aa83a" stroke-width="0.8"/>
<line x1="403.66" y1="68.16" x2="406.06" y2="68.16" stroke="#5aa83a" stroke-width="0.8"/>
<path d="M404.86 66.90L406.76 68.90L404.86 70.90L402.96 68.90Z" fill="#5aa83a"/>
<line x1="412.10" y1="68.16" x2="412.10" y2="69.63" stroke="#5aa83a" stroke-width="0.8"/>
<line x1="410.90" y1="68.16" x2="413.30" y2="68.16" stroke="#5aa83a" stroke-width="0.8"/>
<path d="M412.10 66.90L414.00 68.90L412.10 70.90L410.20 68.90Z" fill="#5aa83a"/>
<line x1="419.34" y1="68.16" x2="419.34" y2="69.63" stroke="#5aa83a" stroke-width="0.8"/>
<line x1="418.14" y1="68.16" x2="420.54" y2="68.16" stroke="#5aa83a" stroke-width="0.8"/>
<path d="M419.34 66.90L421.24 68.90L419.34 70.90L417.44 68.90Z" fill="#5aa83a"/>
<line x1="426.58" y1="68.16" x2="426.58" y2="69.63" stroke="#5aa83a" stroke-width="0.8"/>
<line x1="425.38" y1="68.16" x2="427.78" y2="68.16" stroke="#5aa83a" stroke-width="0.8"/>
<path d="M426.58 66.90L428.48 68.90L426.58 70.90L424.68 68.90Z" fill="#5aa83a"/>
<line x1="433.82" y1="68.16" x2="433.82" y2="69.63" stroke="#5aa83a" stroke-width="0.8"/>
<line x1="432.62" y1="68.16" x2="435.02" y2="68.16" stroke="#5aa83a" stroke-width="0.8"/>
<path d="M433.82 66.90L435.72 68.90L433.82 70.90L431.92 68.90Z" fill="#5aa83a"/>
<line x1="441.06" y1="68.16" x2="441.06" y2="69.63" stroke="#5aa83a" stroke-width="0.8"/>
<line x1="439.86" y1="68.16" x2="442.26" y2="68.16" stroke="#5aa83a" stroke-width="0.8"/>
<path d="M441.06 66.90L442.96 68.90L441.06 70.90L439.16 68.90Z" fill="#5aa83a"/>
<line x1="448.30" y1="68.16" x2="448.30" y2="69.63" stroke="#5aa83a" stroke-width="0.8"/>
<line x1="447.10" y1="68.16" x2="449.50" y2="68.16" stroke="#5aa83a" stroke-width="0.8"/>
<path d="M448.30 66.90L450.20 68.90L448.30 70.90L446.40 68.90Z" fill="#5aa83a"/>
<polyline points="339.70,71.10 346.94,70.37 354.18,70.37 361.42,70.37 368.66,70.37 375.90,70.37 383.14,70.37 390.38,70.37 397.62,70.37 404.86,70.37 412.10,70.37 419.34,70.37 426.58,70.37 433.82,70.37 441.06,70.37 448.30,70.37" fill="none" stroke="#e08b12" stroke-width="1.1"/>
<line x1="339.70" y1="70.73" x2="339.70" y2="71.47" stroke="#e08b12" stroke-width="0.8"/>
<line x1="338.50" y1="70.73" x2="340.90" y2="70.73" stroke="#e08b12" stroke-width="0.8"/>
<circle cx="339.70" cy="71.10" r="1.7" fill="#e08b12"/>
<line x1="346.94" y1="70.00" x2="346.94" y2="70.73" stroke="#e08b12" stroke-width="0.8"/>
<line x1="345.74" y1="70.00" x2="348.14" y2="70.00" stroke="#e08b12" stroke-width="0.8"/>
<circle cx="346.94" cy="70.37" r="2.4" fill="#e08b12"/>
<line x1="354.18" y1="70.00" x2="354.18" y2="70.73" stroke="#e08b12" stroke-width="0.8"/>
<line x1="352.98" y1="70.00" x2="355.38" y2="70.00" stroke="#e08b12" stroke-width="0.8"/>
<circle cx="354.18" cy="70.37" r="1.7" fill="#e08b12"/>
<line x1="361.42" y1="70.00" x2="361.42" y2="70.73" stroke="#e08b12" stroke-width="0.8"/>
<line x1="360.22" y1="70.00" x2="362.62" y2="70.00" stroke="#e08b12" stroke-width="0.8"/>
<circle cx="361.42" cy="70.37" r="1.7" fill="#e08b12"/>
<line x1="368.66" y1="70.00" x2="368.66" y2="70.73" stroke="#e08b12" stroke-width="0.8"/>
<line x1="367.46" y1="70.00" x2="369.86" y2="70.00" stroke="#e08b12" stroke-width="0.8"/>
<circle cx="368.66" cy="70.37" r="1.7" fill="#e08b12"/>
<line x1="375.90" y1="70.00" x2="375.90" y2="70.73" stroke="#e08b12" stroke-width="0.8"/>
<line x1="374.70" y1="70.00" x2="377.10" y2="70.00" stroke="#e08b12" stroke-width="0.8"/>
<circle cx="375.90" cy="70.37" r="1.7" fill="#e08b12"/>
<line x1="383.14" y1="70.00" x2="383.14" y2="70.73" stroke="#e08b12" stroke-width="0.8"/>
<line x1="381.94" y1="70.00" x2="384.34" y2="70.00" stroke="#e08b12" stroke-width="0.8"/>
<circle cx="383.14" cy="70.37" r="1.7" fill="#e08b12"/>
<line x1="390.38" y1="70.00" x2="390.38" y2="70.73" stroke="#e08b12" stroke-width="0.8"/>
<line x1="389.18" y1="70.00" x2="391.58" y2="70.00" stroke="#e08b12" stroke-width="0.8"/>
<circle cx="390.38" cy="70.37" r="1.7" fill="#e08b12"/>
<line x1="397.62" y1="70.00" x2="397.62" y2="70.73" stroke="#e08b12" stroke-width="0.8"/>
<line x1="396.42" y1="70.00" x2="398.82" y2="70.00" stroke="#e08b12" stroke-width="0.8"/>
<circle cx="397.62" cy="70.37" r="1.7" fill="#e08b12"/>
<line x1="404.86" y1="70.00" x2="404.86" y2="70.73" stroke="#e08b12" stroke-width="0.8"/>
<line x1="403.66" y1="70.00" x2="406.06" y2="70.00" stroke="#e08b12" stroke-width="0.8"/>
<circle cx="404.86" cy="70.37" r="1.7" fill="#e08b12"/>
<line x1="412.10" y1="70.00" x2="412.10" y2="70.73" stroke="#e08b12" stroke-width="0.8"/>
<line x1="410.90" y1="70.00" x2="413.30" y2="70.00" stroke="#e08b12" stroke-width="0.8"/>
<circle cx="412.10" cy="70.37" r="1.7" fill="#e08b12"/>
<line x1="419.34" y1="70.00" x2="419.34" y2="70.73" stroke="#e08b12" stroke-width="0.8"/>
<line x1="418.14" y1="70.00" x2="420.54" y2="70.00" stroke="#e08b12" stroke-width="0.8"/>
<circle cx="419.34" cy="70.37" r="1.7" fill="#e08b12"/>
<line x1="426.58" y1="70.00" x2="426.58" y2="70.73" stroke="#e08b12" stroke-width="0.8"/>
<line x1="425.38" y1="70.00" x2="427.78" y2="70.00" stroke="#e08b12" stroke-width="0.8"/>
<circle cx="426.58" cy="70.37" r="1.7" fill="#e08b12"/>
<line x1="433.82" y1="70.00" x2="433.82" y2="70.73" stroke="#e08b12" stroke-width="0.8"/>
<line x1="432.62" y1="70.00" x2="435.02" y2="70.00" stroke="#e08b12" stroke-width="0.8"/>
<circle cx="433.82" cy="70.37" r="1.7" fill="#e08b12"/>
<line x1="441.06" y1="70.00" x2="441.06" y2="70.73" stroke="#e08b12" stroke-width="0.8"/>
<line x1="439.86" y1="70.00" x2="442.26" y2="70.00" stroke="#e08b12" stroke-width="0.8"/>
<circle cx="441.06" cy="70.37" r="1.7" fill="#e08b12"/>
<line x1="448.30" y1="70.00" x2="448.30" y2="70.73" stroke="#e08b12" stroke-width="0.8"/>
<line x1="447.10" y1="70.00" x2="449.50" y2="70.00" stroke="#e08b12" stroke-width="0.8"/>
<circle cx="448.30" cy="70.37" r="1.7" fill="#e08b12"/>
<polyline points="339.70,71.10 346.94,70.37 354.18,70.37 361.42,70.37 368.66,70.37 375.90,70.37 383.14,70.37 390.38,70.37 397.62,70.37 404.86,70.37 412.10,70.37 419.34,70.37 426.58,70.37 433.82,70.37 441.06,70.37 448.30,70.37" fill="none" stroke="#b34a3c" stroke-width="1.1"/>
<circle cx="339.70" cy="71.10" r="1.7" fill="#b34a3c"/>
<circle cx="346.94" cy="70.37" r="1.7" fill="#b34a3c"/>
<circle cx="354.18" cy="70.37" r="1.7" fill="#b34a3c"/>
<circle cx="361.42" cy="70.37" r="1.7" fill="#b34a3c"/>
<circle cx="368.66" cy="70.37" r="1.7" fill="#b34a3c"/>
<circle cx="375.90" cy="70.37" r="1.7" fill="#b34a3c"/>
<circle cx="383.14" cy="70.37" r="1.7" fill="#b34a3c"/>
<circle cx="390.38" cy="70.37" r="1.7" fill="#b34a3c"/>
<circle cx="397.62" cy="70.37" r="1.7" fill="#b34a3c"/>
<circle cx="404.86" cy="70.37" r="1.7" fill="#b34a3c"/>
<circle cx="412.10" cy="70.37" r="1.7" fill="#b34a3c"/>
<circle cx="419.34" cy="70.37" r="1.7" fill="#b34a3c"/>
<circle cx="426.58" cy="70.37" r="1.7" fill="#b34a3c"/>
<circle cx="433.82" cy="70.37" r="1.7" fill="#b34a3c"/>
<circle cx="441.06" cy="70.37" r="1.7" fill="#b34a3c"/>
<circle cx="448.30" cy="70.37" r="1.7" fill="#b34a3c"/>
<polyline points="339.70,71.10 346.94,69.63 354.18,69.63 361.42,69.63 368.66,69.63 375.90,69.63 383.14,69.63 390.38,69.63 397.62,69.63 404.86,69.63 412.10,69.63 419.34,69.63 426.58,69.63 433.82,69.63 441.06,69.63 448.30,69.63" fill="none" stroke="#a4123f" stroke-width="1.1"/>
<line x1="339.70" y1="70.00" x2="339.70" y2="72.20" stroke="#a4123f" stroke-width="0.8"/>
<line x1="338.50" y1="70.00" x2="340.90" y2="70.00" stroke="#a4123f" stroke-width="0.8"/>
<circle cx="339.70" cy="71.10" r="1.7" fill="#a4123f"/>
<line x1="346.94" y1="68.53" x2="346.94" y2="70.73" stroke="#a4123f" stroke-width="0.8"/>
<line x1="345.74" y1="68.53" x2="348.14" y2="68.53" stroke="#a4123f" stroke-width="0.8"/>
<circle cx="346.94" cy="69.63" r="1.7" fill="#a4123f"/>
<line x1="354.18" y1="68.53" x2="354.18" y2="70.73" stroke="#a4123f" stroke-width="0.8"/>
<line x1="352.98" y1="68.53" x2="355.38" y2="68.53" stroke="#a4123f" stroke-width="0.8"/>
<circle cx="354.18" cy="69.63" r="1.7" fill="#a4123f"/>
<line x1="361.42" y1="68.53" x2="361.42" y2="70.73" stroke="#a4123f" stroke-width="0.8"/>
<line x1="360.22" y1="68.53" x2="362.62" y2="68.53" stroke="#a4123f" stroke-width="0.8"/>
<circle cx="361.42" cy="69.63" r="1.7" fill="#a4123f"/>
<line x1="368.66" y1="68.53" x2="368.66" y2="70.73" stroke="#a4123f" stroke-width="0.8"/>
<line x1="367.46" y1="68.53" x2="369.86" y2="68.53" stroke="#a4123f" stroke-width="0.8"/>
<circle cx="368.66" cy="69.63" r="1.7" fill="#a4123f"/>
<line x1="375.90" y1="68.53" x2="375.90" y2="70.73" stroke="#a4123f" stroke-width="0.8"/>
<line x1="374.70" y1="68.53" x2="377.10" y2="68.53" stroke="#a4123f" stroke-width="0.8"/>
<circle cx="375.90" cy="69.63" r="1.7" fill="#a4123f"/>
<line x1="383.14" y1="68.53" x2="383.14" y2="70.73" stroke="#a4123f" stroke-width="0.8"/>
<line x1="381.94" y1="68.53" x2="384.34" y2="68.53" stroke="#a4123f" stroke-width="0.8"/>
<circle cx="383.14" cy="69.63" r="1.7" fill="#a4123f"/>
<line x1="390.38" y1="68.53" x2="390.38" y2="70.73" stroke="#a4123f" stroke-width="0.8"/>
<line x1="389.18" y1="68.53" x2="391.58" y2="68.53" stroke="#a4123f" stroke-width="0.8"/>
<circle cx="390.38" cy="69.63" r="1.7" fill="#a4123f"/>
<line x1="397.62" y1="68.53" x2="397.62" y2="70.73" stroke="#a4123f" stroke-width="0.8"/>
<line x1="396.42" y1="68.53" x2="398.82" y2="68.53" stroke="#a4123f" stroke-width="0.8"/>
<circle cx="397.62" cy="69.63" r="1.7" fill="#a4123f"/>
<line x1="404.86" y1="68.53" x2="404.86" y2="70.73" stroke="#a4123f" stroke-width="0.8"/>
<line x1="403.66" y1="68.53" x2="406.06" y2="68.53" stroke="#a4123f" stroke-width="0.8"/>
<circle cx="404.86" cy="69.63" r="1.7" fill="#a4123f"/>
<line x1="412.10" y1="68.53" x2="412.10" y2="70.73" stroke="#a4123f" stroke-width="0.8"/>
<line x1="410.90" y1="68.53" x2="413.30" y2="68.53" stroke="#a4123f" stroke-width="0.8"/>
<circle cx="412.10" cy="69.63" r="1.7" fill="#a4123f"/>
<line x1="419.34" y1="68.53" x2="419.34" y2="70.73" stroke="#a4123f" stroke-width="0.8"/>
<line x1="418.14" y1="68.53" x2="420.54" y2="68.53" stroke="#a4123f" stroke-width="0.8"/>
<circle cx="419.34" cy="69.63" r="1.7" fill="#a4123f"/>
<line x1="426.58" y1="68.53" x2="426.58" y2="70.73" stroke="#a4123f" stroke-width="0.8"/>
<line x1="425.38" y1="68.53" x2="427.78" y2="68.53" stroke="#a4123f" stroke-width="0.8"/>
<circle cx="426.58" cy="69.63" r="1.7" fill="#a4123f"/>
<line x1="433.82" y1="68.53" x2="433.82" y2="70.73" stroke="#a4123f" stroke-width="0.8"/>
<line x1="432.62" y1="68.53" x2="435.02" y2="68.53" stroke="#a4123f" stroke-width="0.8"/>
<circle cx="433.82" cy="69.63" r="1.7" fill="#a4123f"/>
<line x1="441.06" y1="68.53" x2="441.06" y2="70.73" stroke="#a4123f" stroke-width="0.8"/>
<line x1="439.86" y1="68.53" x2="442.26" y2="68.53" stroke="#a4123f" stroke-width="0.8"/>
<circle cx="441.06" cy="69.63" r="1.7" fill="#a4123f"/>
<line x1="448.30" y1="68.53" x2="448.30" y2="70.73" stroke="#a4123f" stroke-width="0.8"/>
<line x1="447.10" y1="68.53" x2="449.50" y2="68.53" stroke="#a4123f" stroke-width="0.8"/>
<circle cx="448.30" cy="69.63" r="1.7" fill="#a4123f"/>
<polyline points="339.70,71.10 346.94,71.10 354.18,71.10 361.42,71.10 368.66,71.10 375.90,71.10 383.14,71.10 390.38,71.10 397.62,71.10 404.86,71.10 412.10,71.10 419.34,71.10 426.58,71.10 433.82,71.10 441.06,71.10 448.30,71.10" fill="none" stroke="#1e3d7b" stroke-width="1.1"/>
<path d="M339.70 69.10L341.60 71.10L339.70 73.10L337.80 71.10Z" fill="#1e3d7b"/>
<path d="M346.94 69.10L348.84 71.10L346.94 73.10L345.04 71.10Z" fill="#1e3d7b"/>
<path d="M354.18 69.10L356.08 71.10L354.18 73.10L352.28 71.10Z" fill="#1e3d7b"/>
<path d="M361.42 69.10L363.32 71.10L361.42 73.10L359.52 71.10Z" fill="#1e3d7b"/>
<path d="M368.66 69.10L370.56 71.10L368.66 73.10L366.76 71.10Z" fill="#1e3d7b"/>
<path d="M375.90 69.10L377.80 71.10L375.90 73.10L374.00 71.10Z" fill="#1e3d7b"/>
<path d="M383.14 69.10L385.04 71.10L383.14 73.10L381.24 71.10Z" fill="#1e3d7b"/>
<path d="M390.38 69.10L392.28 71.10L390.38 73.10L388.48 71.10Z" fill="#1e3d7b"/>
<path d="M397.62 69.10L399.52 71.10L397.62 73.10L395.72 71.10Z" fill="#1e3d7b"/>
<path d="M404.86 69.10L406.76 71.10L404.86 73.10L402.96 71.10Z" fill="#1e3d7b"/>
<path d="M412.10 69.10L414.00 71.10L412.10 73.10L410.20 71.10Z" fill="#1e3d7b"/>
<path d="M419.34 69.10L421.24 71.10L419.34 73.10L417.44 71.10Z" fill="#1e3d7b"/>
<path d="M426.58 69.10L428.48 71.10L426.58 73.10L424.68 71.10Z" fill="#1e3d7b"/>
<path d="M433.82 69.10L435.72 71.10L433.82 73.10L431.92 71.10Z" fill="#1e3d7b"/>
<path d="M441.06 69.10L442.96 71.10L441.06 73.10L439.16 71.10Z" fill="#1e3d7b"/>
<path d="M448.30 69.10L450.20 71.10L448.30 73.10L446.40 71.10Z" fill="#1e3d7b"/>
<polyline points="339.70,71.10 346.94,71.10 354.18,71.10 361.42,71.10 368.66,71.10 375.90,71.10 383.14,71.10 390.38,71.10 397.62,71.10 404.86,71.10 412.10,71.10 419.34,71.10 426.58,71.10 433.82,71.10 441.06,71.10 448.30,71.10" fill="none" stroke="#4a1a6b" stroke-width="1.1"/>
<circle cx="339.70" cy="71.10" r="1.7" fill="#4a1a6b"/>
<circle cx="346.94" cy="71.10" r="1.7" fill="#4a1a6b"/>
<circle cx="354.18" cy="71.10" r="1.7" fill="#4a1a6b"/>
<circle cx="361.42" cy="71.10" r="1.7" fill="#4a1a6b"/>
<circle cx="368.66" cy="71.10" r="1.7" fill="#4a1a6b"/>
<circle cx="375.90" cy="71.10" r="1.7" fill="#4a1a6b"/>
<circle cx="383.14" cy="71.10" r="1.7" fill="#4a1a6b"/>
<circle cx="390.38" cy="71.10" r="1.7" fill="#4a1a6b"/>
<circle cx="397.62" cy="71.10" r="1.7" fill="#4a1a6b"/>
<circle cx="404.86" cy="71.10" r="1.7" fill="#4a1a6b"/>
<circle cx="412.10" cy="71.10" r="1.7" fill="#4a1a6b"/>
<circle cx="419.34" cy="71.10" r="1.7" fill="#4a1a6b"/>
<circle cx="426.58" cy="71.10" r="1.7" fill="#4a1a6b"/>
<circle cx="433.82" cy="71.10" r="1.7" fill="#4a1a6b"/>
<circle cx="441.06" cy="71.10" r="1.7" fill="#4a1a6b"/>
<circle cx="448.30" cy="71.10" r="1.7" fill="#4a1a6b"/>
<text x="16.50" y="60.30" font-size="10" text-anchor="middle" transform="rotate(-90 16.50 60.30)" textLength="65.5" lengthAdjust="spacingAndGlyphs">Norm. RFU [520nm]</text>
<line x1="468.00" y1="28.70" x2="474.60" y2="28.70" stroke="#4a1a6b" stroke-width="1.1"/>
<path d="M471.30 26.80L473.80 28.70L471.30 30.60L468.80 28.70Z" fill="#4a1a6b"/>
<text x="477.80" y="31.20" font-size="7.0">Co</text>
<line x1="468.00" y1="36.30" x2="474.60" y2="36.30" stroke="#e08b12" stroke-width="1.1"/>
<ellipse cx="471.30" cy="36.30" rx="2.3" ry="1.8" fill="#e08b12"/>
<text x="477.80" y="38.80" font-size="7.0">α-IgM</text>
<line x1="468.00" y1="43.90" x2="474.60" y2="43.90" stroke="#f4c27e" stroke-width="1.1"/>
<path d="M471.30 41.70L473.70 45.30L468.90 45.30Z" fill="#f4c27e"/>
<text x="477.80" y="46.40" font-size="7.0">Ionomycin</text>
<line x1="468.00" y1="51.50" x2="474.60" y2="51.50" stroke="#d98e82" stroke-width="1.1"/>
<path d="M471.30 53.70L473.70 50.10L468.90 50.10Z" fill="#d98e82"/>
<text x="477.80" y="54.00" font-size="7.0">EGTA</text>
<line x1="468.00" y1="59.10" x2="474.60" y2="59.10" stroke="#1e3d7b" stroke-width="1.1"/>
<path d="M471.30 57.20L473.80 59.10L471.30 61.00L468.80 59.10Z" fill="#1e3d7b"/>
<text x="477.80" y="61.60" font-size="7.0">Saracatinib</text>
<line x1="468.00" y1="66.70" x2="474.60" y2="66.70" stroke="#b9d3f1" stroke-width="1.1"/>
<ellipse cx="471.30" cy="66.70" rx="2.3" ry="1.8" fill="#b9d3f1"/>
<text x="477.80" y="69.20" font-size="7.0">R406</text>
<line x1="468.00" y1="74.30" x2="474.60" y2="74.30" stroke="#4f9be0" stroke-width="1.1"/>
<ellipse cx="471.30" cy="74.30" rx="2.3" ry="1.8" fill="#4f9be0"/>
<text x="477.80" y="76.80" font-size="7.0">GS-9973</text>
<line x1="468.00" y1="81.90" x2="474.60" y2="81.90" stroke="#a4123f" stroke-width="1.1"/>
<path d="M471.30 79.70L473.70 83.30L468.90 83.30Z" fill="#a4123f"/>
<text x="477.80" y="84.40" font-size="7.0">Ibrutinib</text>
<line x1="468.00" y1="89.50" x2="474.60" y2="89.50" stroke="#5aa83a" stroke-width="1.1"/>
<path d="M471.30 91.70L473.70 88.10L468.90 88.10Z" fill="#5aa83a"/>
<text x="477.80" y="92.00" font-size="7.0">AZD8835</text>
<line x1="468.00" y1="97.10" x2="474.60" y2="97.10" stroke="#b34a3c" stroke-width="1.1"/>
<path d="M471.30 95.20L473.80 97.10L471.30 99.00L468.80 97.10Z" fill="#b34a3c"/>
<text x="477.80" y="99.60" font-size="7.0">CsA</text>
<text x="8.00" y="143.38" font-size="12.5" font-weight="bold" fill="#000" stroke="#000" style="stroke-width:0.45px">B</text>
<text x="66.30" y="164.24" font-size="7.68" text-anchor="middle" transform="translate(66.30 164.24) scale(0.94 1) translate(-66.30 -164.24)">TMD8</text>
<line x1="41.40" y1="168.50" x2="90.70" y2="168.50" stroke="#231f20" stroke-width="1.45"/>
<text x="121.80" y="164.24" font-size="7.68" text-anchor="middle" transform="translate(121.80 164.24) scale(0.94 1) translate(-121.80 -164.24)">HBL-1</text>
<line x1="96.90" y1="168.50" x2="146.50" y2="168.50" stroke="#231f20" stroke-width="1.45"/>
<text x="179.50" y="164.24" font-size="7.68" text-anchor="middle" transform="translate(179.50 164.24) scale(0.94 1) translate(-179.50 -164.24)">HT</text>
<line x1="155.10" y1="168.50" x2="203.80" y2="168.50" stroke="#231f20" stroke-width="1.45"/>
<text x="53.80" y="178.20" font-size="7.57" text-anchor="middle" transform="translate(53.80 178.20) scale(0.94 1) translate(-53.80 -178.20)">C</text>
<line x1="44.80" y1="183.00" x2="62.80" y2="183.00" stroke="#231f20" stroke-width="1.45"/>
<text x="78.00" y="178.20" font-size="7.57" text-anchor="middle" transform="translate(78.00 178.20) scale(0.94 1) translate(-78.00 -178.20)">N</text>
<line x1="69.00" y1="183.00" x2="87.00" y2="183.00" stroke="#231f20" stroke-width="1.45"/>
<text x="109.20" y="178.20" font-size="7.57" text-anchor="middle" transform="translate(109.20 178.20) scale(0.94 1) translate(-109.20 -178.20)">C</text>
<line x1="99.70" y1="183.00" x2="118.20" y2="183.00" stroke="#231f20" stroke-width="1.45"/>
<text x="133.80" y="178.20" font-size="7.57" text-anchor="middle" transform="translate(133.80 178.20) scale(0.94 1) translate(-133.80 -178.20)">N</text>
<line x1="125.10" y1="183.00" x2="143.80" y2="183.00" stroke="#231f20" stroke-width="1.45"/>
<text x="163.80" y="178.20" font-size="7.57" text-anchor="middle" transform="translate(163.80 178.20) scale(0.94 1) translate(-163.80 -178.20)">C</text>
<line x1="155.30" y1="183.00" x2="173.50" y2="183.00" stroke="#231f20" stroke-width="1.45"/>
<text x="188.80" y="178.20" font-size="7.57" text-anchor="middle" transform="translate(188.80 178.20) scale(0.94 1) translate(-188.80 -178.20)">N</text>
<line x1="179.50" y1="183.00" x2="197.80" y2="183.00" stroke="#231f20" stroke-width="1.45"/>
<text x="7.70" y="192.50" font-size="6.6">GS-9973</text>
<text x="47.30" y="192.59" font-size="7.23" text-anchor="middle" transform="translate(47.30 192.59) scale(0.94 1) translate(-47.30 -192.59)">-</text>
<text x="59.00" y="192.59" font-size="7.23" text-anchor="middle" transform="translate(59.00 192.59) scale(0.94 1) translate(-59.00 -192.59)">+</text>
<text x="71.10" y="192.59" font-size="7.23" text-anchor="middle" transform="translate(71.10 192.59) scale(0.94 1) translate(-71.10 -192.59)">-</text>
<text x="83.60" y="192.59" font-size="7.23" text-anchor="middle" transform="translate(83.60 192.59) scale(0.94 1) translate(-83.60 -192.59)">+</text>
<text x="102.70" y="192.59" font-size="7.23" text-anchor="middle" transform="translate(102.70 192.59) scale(0.94 1) translate(-102.70 -192.59)">-</text>
<text x="114.20" y="192.59" font-size="7.23" text-anchor="middle" transform="translate(114.20 192.59) scale(0.94 1) translate(-114.20 -192.59)">+</text>
<text x="126.90" y="192.59" font-size="7.23" text-anchor="middle" transform="translate(126.90 192.59) scale(0.94 1) translate(-126.90 -192.59)">-</text>
<text x="139.60" y="192.59" font-size="7.23" text-anchor="middle" transform="translate(139.60 192.59) scale(0.94 1) translate(-139.60 -192.59)">+</text>
<text x="157.40" y="192.59" font-size="7.23" text-anchor="middle" transform="translate(157.40 192.59) scale(0.94 1) translate(-157.40 -192.59)">-</text>
<text x="169.60" y="192.59" font-size="7.23" text-anchor="middle" transform="translate(169.60 192.59) scale(0.94 1) translate(-169.60 -192.59)">+</text>
<text x="181.80" y="192.59" font-size="7.23" text-anchor="middle" transform="translate(181.80 192.59) scale(0.94 1) translate(-181.80 -192.59)">-</text>
<text x="194.30" y="192.59" font-size="7.23" text-anchor="middle" transform="translate(194.30 192.59) scale(0.94 1) translate(-194.30 -192.59)">+</text>
<text x="7.70" y="222.41" font-size="7.6" transform="translate(7.70 222.41) scale(0.91 1) translate(-7.70 -222.41)">NFATc1</text>
<text x="7.70" y="248.11" font-size="7.6" transform="translate(7.70 248.11) scale(0.91 1) translate(-7.70 -248.11)">P-AKT</text>
<text x="7.70" y="265.11" font-size="7.6" transform="translate(7.70 265.11) scale(0.91 1) translate(-7.70 -265.11)">Lamin</text>
<text x="7.70" y="282.81" font-size="7.6" transform="translate(7.70 282.81) scale(0.91 1) translate(-7.70 -282.81)">GAPDH</text>
<rect x="38.40" y="198.00" width="51.90" height="37.50" fill="#ebebeb"/>
<g clip-path="url(#c1)">
<rect x="40.00" y="199.00" width="26.00" height="36.00" fill="#000" fill-opacity="0.05" filter="url(#f15)"/>
<rect x="42.00" y="201.85" width="11.50" height="1.90" rx="0.95" fill="#000" fill-opacity="0.3" filter="url(#f10)"/>
<rect x="55.00" y="201.85" width="10.00" height="1.90" rx="0.95" fill="#000" fill-opacity="0.25" filter="url(#f10)"/>
<rect x="41.50" y="205.45" width="12.00" height="2.70" rx="1.35" fill="#000" fill-opacity="0.6" filter="url(#f6)"/>
<rect x="54.50" y="205.45" width="10.50" height="2.70" rx="1.35" fill="#000" fill-opacity="0.5" filter="url(#f10)"/>
<rect x="41.50" y="209.95" width="12.00" height="3.50" rx="1.75" fill="#000" fill-opacity="0.1" filter="url(#f12)"/>
<rect x="54.50" y="209.95" width="10.50" height="3.50" rx="1.75" fill="#000" fill-opacity="0.18" filter="url(#f12)"/>
<rect x="40.50" y="223.65" width="12.50" height="2.70" rx="1.35" fill="#000" fill-opacity="0.95" filter="url(#f6)"/>
<rect x="54.50" y="223.35" width="10.50" height="2.30" rx="1.15" fill="#000" fill-opacity="0.45" filter="url(#f10)"/>
<rect x="66.50" y="200.95" width="10.00" height="2.50" rx="1.25" fill="#000" fill-opacity="0.9" filter="url(#f6)"/>
<rect x="78.50" y="200.75" width="9.50" height="2.50" rx="1.25" fill="#000" fill-opacity="0.9" filter="url(#f6)"/>
<rect x="66.00" y="204.75" width="10.50" height="4.10" rx="2.05" fill="#000" fill-opacity="1.0" filter="url(#f6)"/>
<rect x="78.50" y="204.75" width="9.50" height="4.10" rx="2.05" fill="#000" fill-opacity="1.0" filter="url(#f6)"/>
<rect x="66.50" y="209.15" width="10.00" height="4.10" rx="2.05" fill="#000" fill-opacity="1.0" filter="url(#f6)"/>
<rect x="78.50" y="209.25" width="9.50" height="3.90" rx="1.95" fill="#000" fill-opacity="0.95" filter="url(#f6)"/>
<rect x="68.00" y="206.75" width="7.00" height="4.50" rx="2.25" fill="#000" fill-opacity="0.9" filter="url(#f8)"/>
<rect x="80.00" y="206.75" width="7.00" height="4.50" rx="2.25" fill="#000" fill-opacity="0.9" filter="url(#f8)"/>
<rect x="66.50" y="216.50" width="10.00" height="3.00" rx="1.50" fill="#000" fill-opacity="0.1" filter="url(#f12)"/>
<rect x="78.50" y="216.50" width="9.50" height="3.00" rx="1.50" fill="#000" fill-opacity="0.08" filter="url(#f12)"/>
<rect x="66.00" y="221.45" width="10.50" height="3.90" rx="1.95" fill="#000" fill-opacity="1.0" filter="url(#f6)"/>
<rect x="78.50" y="221.25" width="9.50" height="3.70" rx="1.85" fill="#000" fill-opacity="1.0" filter="url(#f6)"/>
</g>
<rect x="38.40" y="237.50" width="51.90" height="13.10" fill="#e4e4e4"/>
<g clip-path="url(#c2)">
<rect x="41.20" y="241.95" width="12.10" height="2.70" rx="1.35" fill="#000" fill-opacity="0.92" filter="url(#f6)"/>
<rect x="56.00" y="242.35" width="9.00" height="2.10" rx="1.05" fill="#000" fill-opacity="0.28" filter="url(#f10)"/>
<rect x="67.00" y="242.65" width="8.00" height="1.90" rx="0.95" fill="#000" fill-opacity="0.08" filter="url(#f10)"/>
</g>
<rect x="38.40" y="252.30" width="51.90" height="14.40" fill="#e2e2e2"/>
<g clip-path="url(#c3)">
<rect x="66.20" y="257.55" width="8.40" height="4.50" rx="2.25" fill="#000" fill-opacity="1.0" filter="url(#f6)"/>
<rect x="78.10" y="257.75" width="8.70" height="4.10" rx="2.05" fill="#000" fill-opacity="0.95" filter="url(#f6)"/>
</g>
<rect x="38.40" y="269.40" width="51.90" height="15.40" fill="#ececec"/>
<g clip-path="url(#c4)">
<rect x="41.20" y="273.95" width="12.70" height="4.50" rx="2.25" fill="#000" fill-opacity="1.0" filter="url(#f6)"/>
<rect x="55.50" y="274.75" width="10.70" height="3.30" rx="1.65" fill="#000" fill-opacity="1.0" filter="url(#f6)"/>
</g>
<rect x="93.30" y="198.00" width="52.50" height="37.40" fill="#f2f2f2"/>
<g clip-path="url(#c5)">
<rect x="123.00" y="205.00" width="9.50" height="16.00" fill="#000" fill-opacity="0.45" filter="url(#f10)"/>
<rect x="134.50" y="206.00" width="10.00" height="11.00" fill="#000" fill-opacity="0.25" filter="url(#f10)"/>
<rect x="97.00" y="205.00" width="24.50" height="16.00" fill="#000" fill-opacity="0.06" filter="url(#f12)"/>
<rect x="97.00" y="206.35" width="12.00" height="2.70" rx="1.35" fill="#000" fill-opacity="0.4" filter="url(#f10)"/>
<rect x="110.00" y="206.35" width="11.50" height="2.70" rx="1.35" fill="#000" fill-opacity="0.5" filter="url(#f10)"/>
<rect x="97.00" y="211.45" width="12.00" height="2.90" rx="1.45" fill="#000" fill-opacity="0.4" filter="url(#f10)"/>
<rect x="110.00" y="211.45" width="11.50" height="2.90" rx="1.45" fill="#000" fill-opacity="0.55" filter="url(#f10)"/>
<rect x="97.00" y="217.25" width="12.00" height="2.90" rx="1.45" fill="#000" fill-opacity="0.22" filter="url(#f10)"/>
<rect x="110.00" y="217.25" width="11.50" height="2.90" rx="1.45" fill="#000" fill-opacity="0.32" filter="url(#f10)"/>
<rect x="96.50" y="227.85" width="13.50" height="3.10" rx="1.55" fill="#000" fill-opacity="0.85" filter="url(#f6)"/>
<rect x="110.50" y="227.35" width="10.50" height="2.70" rx="1.35" fill="#000" fill-opacity="0.75" filter="url(#f6)"/>
<rect x="97.00" y="232.45" width="11.00" height="2.50" rx="1.25" fill="#000" fill-opacity="0.3" filter="url(#f10)"/>
<rect x="123.00" y="205.75" width="9.50" height="3.50" rx="1.75" fill="#000" fill-opacity="1.0" filter="url(#f6)"/>
<rect x="123.00" y="210.50" width="9.50" height="4.00" rx="2.00" fill="#000" fill-opacity="1.0" filter="url(#f6)"/>
<rect x="123.00" y="215.55" width="9.50" height="4.50" rx="2.25" fill="#000" fill-opacity="0.7" filter="url(#f6)"/>
<rect x="123.00" y="220.95" width="9.50" height="3.50" rx="1.75" fill="#000" fill-opacity="0.15" filter="url(#f10)"/>
<rect x="123.00" y="227.75" width="9.50" height="2.50" rx="1.25" fill="#000" fill-opacity="0.2" filter="url(#f10)"/>
<rect x="134.50" y="207.25" width="10.00" height="3.10" rx="1.55" fill="#000" fill-opacity="0.7" filter="url(#f6)"/>
<rect x="134.50" y="211.85" width="10.00" height="3.30" rx="1.65" fill="#000" fill-opacity="0.85" filter="url(#f6)"/>
<rect x="134.50" y="216.95" width="10.00" height="3.50" rx="1.75" fill="#000" fill-opacity="0.3" filter="url(#f10)"/>
<rect x="134.50" y="227.75" width="10.00" height="2.50" rx="1.25" fill="#000" fill-opacity="0.15" filter="url(#f10)"/>
</g>
<rect x="93.30" y="237.50" width="52.50" height="13.10" fill="#e4e4e4"/>
<g clip-path="url(#c6)">
<rect x="95.60" y="242.05" width="12.10" height="2.50" rx="1.25" fill="#000" fill-opacity="0.75" filter="url(#f6)"/>
</g>
<rect x="93.30" y="252.30" width="52.50" height="14.40" fill="#e2e2e2"/>
<g clip-path="url(#c7)">
<rect x="124.50" y="258.85" width="7.50" height="2.70" rx="1.35" fill="#000" fill-opacity="1.0" filter="url(#f6)"/>
<rect x="135.40" y="259.05" width="8.60" height="2.30" rx="1.15" fill="#000" fill-opacity="0.85" filter="url(#f6)"/>
</g>
<rect x="93.30" y="269.40" width="52.50" height="15.40" fill="#eeeeee"/>
<g clip-path="url(#c8)">
<rect x="97.90" y="273.25" width="13.30" height="5.50" rx="2.75" fill="#000" fill-opacity="1.0" filter="url(#f6)"/>
<rect x="111.80" y="273.95" width="13.20" height="4.50" rx="2.25" fill="#000" fill-opacity="1.0" filter="url(#f6)"/>
<rect x="127.00" y="276.30" width="6.00" height="2.00" rx="1.00" fill="#000" fill-opacity="0.12" filter="url(#f10)"/>
<rect x="137.00" y="276.35" width="6.00" height="1.90" rx="0.95" fill="#000" fill-opacity="0.08" filter="url(#f10)"/>
</g>
<rect x="148.90" y="198.00" width="51.60" height="37.30" fill="#f2f2f2"/>
<g clip-path="url(#c9)">
<rect x="179.00" y="206.00" width="8.50" height="12.00" fill="#000" fill-opacity="0.6" filter="url(#f8)"/>
<rect x="190.00" y="206.00" width="9.00" height="12.00" fill="#000" fill-opacity="0.6" filter="url(#f8)"/>
<rect x="179.00" y="218.00" width="20.00" height="14.00" fill="#000" fill-opacity="0.08" filter="url(#f12)"/>
<rect x="152.00" y="204.00" width="24.50" height="12.00" fill="#000" fill-opacity="0.1" filter="url(#f12)"/>
<rect x="152.00" y="205.05" width="12.00" height="2.90" rx="1.45" fill="#000" fill-opacity="0.3" filter="url(#f10)"/>
<rect x="165.00" y="205.15" width="11.50" height="2.70" rx="1.35" fill="#000" fill-opacity="0.25" filter="url(#f10)"/>
<rect x="152.00" y="208.45" width="12.00" height="3.10" rx="1.55" fill="#000" fill-opacity="0.45" filter="url(#f10)"/>
<rect x="165.00" y="208.55" width="11.50" height="2.90" rx="1.45" fill="#000" fill-opacity="0.35" filter="url(#f10)"/>
<rect x="152.00" y="211.45" width="12.00" height="2.90" rx="1.45" fill="#000" fill-opacity="0.3" filter="url(#f10)"/>
<rect x="165.00" y="212.15" width="11.50" height="2.70" rx="1.35" fill="#000" fill-opacity="0.2" filter="url(#f10)"/>
<rect x="152.00" y="224.65" width="12.00" height="1.90" rx="0.95" fill="#000" fill-opacity="0.15" filter="url(#f10)"/>
<rect x="165.00" y="224.65" width="11.50" height="1.90" rx="0.95" fill="#000" fill-opacity="0.12" filter="url(#f10)"/>
<rect x="178.90" y="206.55" width="8.60" height="3.50" rx="1.75" fill="#000" fill-opacity="1.0" filter="url(#f6)"/>
<rect x="178.90" y="209.95" width="8.60" height="3.50" rx="1.75" fill="#000" fill-opacity="1.0" filter="url(#f6)"/>
<rect x="178.90" y="213.75" width="8.60" height="3.50" rx="1.75" fill="#000" fill-opacity="0.95" filter="url(#f6)"/>
<rect x="178.90" y="220.95" width="8.60" height="3.50" rx="1.75" fill="#000" fill-opacity="0.15" filter="url(#f10)"/>
<rect x="178.90" y="224.35" width="8.60" height="2.50" rx="1.25" fill="#000" fill-opacity="0.2" filter="url(#f10)"/>
<rect x="190.00" y="206.25" width="9.00" height="3.50" rx="1.75" fill="#000" fill-opacity="1.0" filter="url(#f6)"/>
<rect x="190.00" y="209.75" width="9.00" height="3.50" rx="1.75" fill="#000" fill-opacity="1.0" filter="url(#f6)"/>
<rect x="190.00" y="213.75" width="9.00" height="3.50" rx="1.75" fill="#000" fill-opacity="1.0" filter="url(#f6)"/>
<rect x="190.00" y="224.35" width="9.00" height="2.50" rx="1.25" fill="#000" fill-opacity="0.3" filter="url(#f10)"/>
</g>
<rect x="148.90" y="237.50" width="51.60" height="13.10" fill="#e6e6e6"/>
<g clip-path="url(#c10)">
<rect x="150.60" y="241.05" width="13.30" height="3.50" rx="1.75" fill="#000" fill-opacity="1.0" filter="url(#f6)"/>
<rect x="165.80" y="241.35" width="11.60" height="3.10" rx="1.55" fill="#000" fill-opacity="1.0" filter="url(#f6)"/>
<rect x="180.00" y="243.00" width="8.00" height="2.00" rx="1.00" fill="#000" fill-opacity="0.4" filter="url(#f10)"/>
<rect x="190.00" y="242.90" width="7.00" height="1.80" rx="0.90" fill="#000" fill-opacity="0.3" filter="url(#f10)"/>
<rect x="195.00" y="245.50" width="4.00" height="2.00" rx="1.00" fill="#000" fill-opacity="0.25" filter="url(#f10)"/>
</g>
<rect x="148.90" y="252.30" width="51.60" height="14.40" fill="#e8e8e8"/>
<g clip-path="url(#c11)">
<rect x="178.90" y="258.25" width="7.70" height="2.50" rx="1.25" fill="#000" fill-opacity="0.95" filter="url(#f6)"/>
<rect x="189.80" y="258.25" width="9.00" height="2.50" rx="1.25" fill="#000" fill-opacity="1.0" filter="url(#f6)"/>
</g>
<rect x="148.90" y="269.40" width="51.60" height="15.40" fill="#eeeeee"/>
<g clip-path="url(#c12)">
<rect x="152.90" y="275.05" width="12.70" height="4.10" rx="2.05" fill="#000" fill-opacity="1.0" filter="url(#f6)"/>
<rect x="167.90" y="275.35" width="12.10" height="3.50" rx="1.75" fill="#000" fill-opacity="1.0" filter="url(#f6)"/>
<rect x="182.00" y="276.90" width="6.00" height="1.80" rx="0.90" fill="#000" fill-opacity="0.15" filter="url(#f10)"/>
<rect x="193.00" y="276.60" width="6.00" height="1.80" rx="0.90" fill="#000" fill-opacity="0.2" filter="url(#f10)"/>
</g>
<text x="221.00" y="143.03" font-size="12.5" font-weight="bold" fill="#000" stroke="#000" style="stroke-width:0.45px">C</text>
<text x="301.50" y="186.84" font-size="9.72" text-anchor="middle" transform="translate(301.50 186.84) scale(0.94 1) translate(-301.50 -186.84)">HBL-1</text>
<line x1="254.20" y1="191.50" x2="350.00" y2="191.50" stroke="#231f20" stroke-width="1.45"/>
<line x1="254.20" y1="195.00" x2="254.20" y2="284.40" stroke="#231f20" stroke-width="1.3"/>
<line x1="253.60" y1="284.40" x2="350.00" y2="284.40" stroke="#231f20" stroke-width="1.3"/>
<line x1="251.20" y1="284.40" x2="254.20" y2="284.40" stroke="#231f20" stroke-width="1.2"/>
<text x="247.60" y="287.00" font-size="7.3" text-anchor="end">0.0</text>
<line x1="251.20" y1="270.02" x2="254.20" y2="270.02" stroke="#231f20" stroke-width="1.2"/>
<text x="247.60" y="272.62" font-size="7.3" text-anchor="end">0.2</text>
<line x1="251.20" y1="255.64" x2="254.20" y2="255.64" stroke="#231f20" stroke-width="1.2"/>
<text x="247.60" y="258.24" font-size="7.3" text-anchor="end">0.4</text>
<line x1="251.20" y1="241.26" x2="254.20" y2="241.26" stroke="#231f20" stroke-width="1.2"/>
<text x="247.60" y="243.86" font-size="7.3" text-anchor="end">0.6</text>
<line x1="251.20" y1="226.88" x2="254.20" y2="226.88" stroke="#231f20" stroke-width="1.2"/>
<text x="247.60" y="229.48" font-size="7.3" text-anchor="end">0.8</text>
<line x1="251.20" y1="212.50" x2="254.20" y2="212.50" stroke="#231f20" stroke-width="1.2"/>
<text x="247.60" y="215.10" font-size="7.3" text-anchor="end">1.0</text>
<line x1="251.20" y1="198.12" x2="254.20" y2="198.12" stroke="#231f20" stroke-width="1.2"/>
<text x="247.60" y="200.72" font-size="7.3" text-anchor="end">1.2</text>
<rect x="257.30" y="212.50" width="9.60" height="71.90" fill="#4b1f5e"/>
<line x1="262.10" y1="212.50" x2="262.10" y2="211.06" stroke="#231f20" stroke-width="0.9"/>
<line x1="259.90" y1="211.06" x2="264.30" y2="211.06" stroke="#231f20" stroke-width="0.9"/>
<line x1="262.10" y1="284.40" x2="262.10" y2="287.00" stroke="#231f20" stroke-width="1.0"/>
<rect x="272.70" y="255.64" width="10.40" height="28.76" fill="#b5514b"/>
<line x1="277.90" y1="255.64" x2="277.90" y2="254.56" stroke="#231f20" stroke-width="0.9"/>
<line x1="275.70" y1="254.56" x2="280.10" y2="254.56" stroke="#231f20" stroke-width="0.9"/>
<line x1="277.90" y1="284.40" x2="277.90" y2="287.00" stroke="#231f20" stroke-width="1.0"/>
<text x="277.90" y="253.36" font-size="6" text-anchor="middle" letter-spacing="-0.3">***</text>
<rect x="288.50" y="231.19" width="10.50" height="53.21" fill="#dbe7f7"/>
<line x1="293.75" y1="231.19" x2="293.75" y2="230.12" stroke="#231f20" stroke-width="0.9"/>
<line x1="291.55" y1="230.12" x2="295.95" y2="230.12" stroke="#231f20" stroke-width="0.9"/>
<line x1="293.75" y1="284.40" x2="293.75" y2="287.00" stroke="#231f20" stroke-width="1.0"/>
<text x="293.75" y="228.92" font-size="6" text-anchor="middle" letter-spacing="-0.3">***</text>
<rect x="304.40" y="221.13" width="10.40" height="63.27" fill="#bcd4f1"/>
<line x1="309.60" y1="221.13" x2="309.60" y2="219.69" stroke="#231f20" stroke-width="0.9"/>
<line x1="307.40" y1="219.69" x2="311.80" y2="219.69" stroke="#231f20" stroke-width="0.9"/>
<line x1="309.60" y1="284.40" x2="309.60" y2="287.00" stroke="#231f20" stroke-width="1.0"/>
<text x="309.60" y="218.49" font-size="6" text-anchor="middle" letter-spacing="-0.3">*</text>
<rect x="320.60" y="223.64" width="10.20" height="60.76" fill="#90bce9"/>
<line x1="325.70" y1="223.64" x2="325.70" y2="221.85" stroke="#231f20" stroke-width="0.9"/>
<line x1="323.50" y1="221.85" x2="327.90" y2="221.85" stroke="#231f20" stroke-width="0.9"/>
<line x1="325.70" y1="284.40" x2="325.70" y2="287.00" stroke="#231f20" stroke-width="1.0"/>
<text x="325.70" y="220.65" font-size="6" text-anchor="middle" letter-spacing="-0.3">**</text>
<rect x="336.00" y="203.15" width="10.70" height="81.25" fill="#5d9fdb"/>
<line x1="341.35" y1="203.15" x2="341.35" y2="202.43" stroke="#231f20" stroke-width="0.9"/>
<line x1="339.15" y1="202.43" x2="343.55" y2="202.43" stroke="#231f20" stroke-width="0.9"/>
<line x1="341.35" y1="284.40" x2="341.35" y2="287.00" stroke="#231f20" stroke-width="1.0"/>
<text x="265.70" y="293.20" font-size="7.5" text-anchor="end" transform="rotate(-42 265.70 293.20)">Solvent</text>
<text x="281.50" y="293.20" font-size="7.5" text-anchor="end" transform="rotate(-42 281.50 293.20)">CsA</text>
<text x="297.35" y="293.20" font-size="7.5" text-anchor="end" transform="rotate(-42 297.35 293.20)">AZD8835</text>
<text x="313.20" y="293.20" font-size="7.5" text-anchor="end" transform="rotate(-42 313.20 293.20)">GS-9973</text>
<text x="329.30" y="293.20" font-size="7.5" text-anchor="end" transform="rotate(-42 329.30 293.20)">Ibrutinib</text>
<text x="344.95" y="293.20" font-size="7.5" text-anchor="end" transform="rotate(-42 344.95 293.20)">Saracatinib</text>
<text x="230.80" y="280.80" font-size="9.3" transform="rotate(-90 230.80 280.80)" textLength="67.5" lengthAdjust="spacingAndGlyphs">NFATc1 binding [OD</text>
<text x="233.40" y="213.20" font-size="3.8" transform="rotate(-90 233.40 213.20)" textLength="8.6" lengthAdjust="spacingAndGlyphs">450nm</text>
<text x="230.80" y="203.20" font-size="9.3" transform="rotate(-90 230.80 203.20)">]</text>
<text x="367.30" y="144.22" font-size="12.5" font-weight="bold" fill="#000" stroke="#000" style="stroke-width:0.45px">D</text>
<text x="429.60" y="149.22" font-size="7.91" text-anchor="middle" transform="translate(429.60 149.22) scale(0.94 1) translate(-429.60 -149.22)">HBL-1</text>
<line x1="398.00" y1="154.30" x2="461.00" y2="154.30" stroke="#231f20" stroke-width="1.45"/>
<text x="409.00" y="163.92" font-size="7.91" text-anchor="middle" transform="translate(409.00 163.92) scale(0.94 1) translate(-409.00 -163.92)">Co</text>
<text x="440.40" y="163.92" font-size="7.91" text-anchor="middle" transform="translate(440.40 163.92) scale(0.94 1) translate(-440.40 -163.92)">shCD79B</text>
<line x1="397.50" y1="168.40" x2="420.00" y2="168.40" stroke="#231f20" stroke-width="1.45"/>
<line x1="428.70" y1="168.40" x2="455.20" y2="168.40" stroke="#231f20" stroke-width="1.45"/>
<text x="402.70" y="178.00" font-size="7.57" text-anchor="middle" transform="translate(402.70 178.00) scale(0.94 1) translate(-402.70 -178.00)">C</text>
<text x="419.20" y="178.00" font-size="7.57" text-anchor="middle" transform="translate(419.20 178.00) scale(0.94 1) translate(-419.20 -178.00)">N</text>
<text x="434.00" y="178.00" font-size="7.57" text-anchor="middle" transform="translate(434.00 178.00) scale(0.94 1) translate(-434.00 -178.00)">C</text>
<text x="449.00" y="178.00" font-size="7.57" text-anchor="middle" transform="translate(449.00 178.00) scale(0.94 1) translate(-449.00 -178.00)">N</text>
<text x="366.50" y="201.91" font-size="7.6" transform="translate(366.50 201.91) scale(0.91 1) translate(-366.50 -201.91)">NFATc1</text>
<text x="366.50" y="226.91" font-size="7.6" transform="translate(366.50 226.91) scale(0.91 1) translate(-366.50 -226.91)">CD79B</text>
<text x="366.50" y="238.91" font-size="7.6" transform="translate(366.50 238.91) scale(0.91 1) translate(-366.50 -238.91)">P-ERK</text>
<text x="366.50" y="250.51" font-size="7.6" transform="translate(366.50 250.51) scale(0.91 1) translate(-366.50 -250.51)">ERK</text>
<text x="366.50" y="263.91" font-size="7.6" transform="translate(366.50 263.91) scale(0.91 1) translate(-366.50 -263.91)">Lamin</text>
<text x="366.50" y="280.11" font-size="7.6" transform="translate(366.50 280.11) scale(0.91 1) translate(-366.50 -280.11)">GAPDH</text>
<rect x="395.40" y="183.00" width="63.20" height="30.00" fill="#e4e4e4"/>
<g clip-path="url(#c13)">
<rect x="397.00" y="184.00" width="14.00" height="28.00" fill="#000" fill-opacity="0.1" filter="url(#f15)"/>
<rect x="428.00" y="184.00" width="14.00" height="28.00" fill="#000" fill-opacity="0.05" filter="url(#f15)"/>
<rect x="412.00" y="184.00" width="15.00" height="29.00" fill="#000" fill-opacity="0.3" filter="url(#f12)"/>
<rect x="441.00" y="184.00" width="15.00" height="29.00" fill="#000" fill-opacity="0.25" filter="url(#f12)"/>
<rect x="398.00" y="188.25" width="12.00" height="3.50" rx="1.75" fill="#000" fill-opacity="0.18" filter="url(#f12)"/>
<rect x="398.00" y="195.25" width="12.00" height="3.50" rx="1.75" fill="#000" fill-opacity="0.16" filter="url(#f12)"/>
<rect x="398.00" y="202.25" width="12.00" height="3.50" rx="1.75" fill="#000" fill-opacity="0.16" filter="url(#f12)"/>
<rect x="428.00" y="188.25" width="14.00" height="3.50" rx="1.75" fill="#000" fill-opacity="0.08" filter="url(#f12)"/>
<rect x="428.00" y="195.25" width="14.00" height="3.50" rx="1.75" fill="#000" fill-opacity="0.08" filter="url(#f12)"/>
<rect x="428.00" y="202.25" width="14.00" height="3.50" rx="1.75" fill="#000" fill-opacity="0.08" filter="url(#f12)"/>
<rect x="413.50" y="185.75" width="11.50" height="3.50" rx="1.75" fill="#000" fill-opacity="0.9" filter="url(#f10)"/>
<rect x="413.00" y="191.75" width="7.00" height="16.50" rx="2.00" fill="#000" fill-opacity="1.0" filter="url(#f13)"/>
<rect x="419.00" y="191.75" width="7.00" height="16.50" rx="2.00" fill="#000" fill-opacity="1.0" filter="url(#f13)"/>
<rect x="414.00" y="191.75" width="11.00" height="12.50" rx="3.00" fill="#000" fill-opacity="0.9" filter="url(#f12)"/>
<rect x="414.00" y="208.25" width="11.00" height="4.50" rx="2.25" fill="#000" fill-opacity="0.6" filter="url(#f12)"/>
<rect x="442.50" y="186.50" width="12.10" height="3.00" rx="1.50" fill="#000" fill-opacity="0.55" filter="url(#f10)"/>
<rect x="442.50" y="194.75" width="12.50" height="5.50" rx="2.75" fill="#000" fill-opacity="0.95" filter="url(#f12)"/>
<rect x="442.50" y="200.75" width="12.10" height="6.50" rx="3.25" fill="#000" fill-opacity="0.45" filter="url(#f12)"/>
</g>
<rect x="395.40" y="216.30" width="63.20" height="12.40" fill="#e4e4e4"/>
<g clip-path="url(#c14)">
<rect x="398.70" y="221.70" width="13.50" height="4.00" rx="2.00" fill="#000" fill-opacity="1.0" filter="url(#f6)"/>
<rect x="430.00" y="223.25" width="12.00" height="2.50" rx="1.25" fill="#000" fill-opacity="0.35" filter="url(#f10)"/>
</g>
<rect x="395.40" y="231.80" width="63.20" height="8.00" fill="#ebebeb"/>
<g clip-path="url(#c15)">
<rect x="396.00" y="233.00" width="14.20" height="2.00" rx="1.00" fill="#000" fill-opacity="0.7" filter="url(#f6)"/>
<rect x="396.00" y="235.95" width="14.20" height="2.50" rx="1.25" fill="#000" fill-opacity="0.95" filter="url(#f6)"/>
<rect x="413.00" y="236.45" width="13.00" height="1.70" rx="0.85" fill="#000" fill-opacity="0.2" filter="url(#f10)"/>
<rect x="428.00" y="236.45" width="14.00" height="1.70" rx="0.85" fill="#000" fill-opacity="0.2" filter="url(#f10)"/>
<rect x="446.00" y="236.15" width="11.00" height="1.70" rx="0.85" fill="#000" fill-opacity="0.15" filter="url(#f10)"/>
</g>
<rect x="395.40" y="243.00" width="63.20" height="8.60" fill="#eeeeee"/>
<g clip-path="url(#c16)">
<rect x="396.00" y="244.50" width="20.00" height="2.00" rx="1.00" fill="#000" fill-opacity="0.5" filter="url(#f10)"/>
<rect x="396.00" y="247.15" width="20.00" height="2.70" rx="1.35" fill="#000" fill-opacity="1.0" filter="url(#f6)"/>
<rect x="416.90" y="247.75" width="7.40" height="2.50" rx="1.25" fill="#000" fill-opacity="0.8" filter="url(#f6)"/>
<rect x="427.00" y="244.50" width="18.80" height="2.00" rx="1.00" fill="#000" fill-opacity="0.5" filter="url(#f10)"/>
<rect x="427.00" y="247.00" width="18.80" height="3.00" rx="1.50" fill="#000" fill-opacity="1.0" filter="url(#f6)"/>
<rect x="447.90" y="244.90" width="10.30" height="1.80" rx="0.90" fill="#000" fill-opacity="0.3" filter="url(#f10)"/>
<rect x="447.90" y="247.75" width="10.30" height="2.50" rx="1.25" fill="#000" fill-opacity="0.9" filter="url(#f6)"/>
</g>
<rect x="395.40" y="254.90" width="63.20" height="10.80" fill="#e8e8e8"/>
<g clip-path="url(#c17)">
<rect x="412.90" y="256.05" width="13.40" height="8.50" rx="4.25" fill="#000" fill-opacity="1.0" filter="url(#f9)"/>
<rect x="445.20" y="257.45" width="12.80" height="3.50" rx="1.75" fill="#000" fill-opacity="1.0" filter="url(#f6)"/>
<rect x="445.20" y="261.15" width="12.80" height="2.30" rx="1.15" fill="#000" fill-opacity="0.85" filter="url(#f6)"/>
</g>
<rect x="395.40" y="269.00" width="63.20" height="14.90" fill="#d8d8d8"/>
<g clip-path="url(#c18)">
<rect x="397.40" y="274.50" width="18.80" height="4.00" rx="2.00" fill="#000" fill-opacity="1.0" filter="url(#f6)"/>
<rect x="418.00" y="275.65" width="9.00" height="2.10" rx="1.05" fill="#000" fill-opacity="0.75" filter="url(#f6)"/>
<rect x="429.00" y="274.55" width="16.20" height="3.50" rx="1.75" fill="#000" fill-opacity="1.0" filter="url(#f6)"/>
<rect x="447.50" y="275.15" width="9.50" height="2.30" rx="1.15" fill="#000" fill-opacity="0.8" filter="url(#f6)"/>
</g>
<text x="7.70" y="338.12" font-size="12.5" font-weight="bold" fill="#000" stroke="#000" style="stroke-width:0.45px">E</text>
<text x="77.20" y="372.22" font-size="7.91" text-anchor="middle" transform="translate(77.20 372.22) scale(0.94 1) translate(-77.20 -372.22)">HBL-1</text>
<line x1="37.30" y1="377.20" x2="117.80" y2="377.20" stroke="#231f20" stroke-width="1.45"/>
<text x="7.70" y="386.80" font-size="7">siIgM</text>
<circle cx="45.5" cy="382.8" r="0.5" fill="#231f20"/>
<path d="M66.2 386.5L108.2 386.5L108.2 380.5Z" fill="#000"/>
<text x="8.00" y="413.01" font-size="7.6" transform="translate(8.00 413.01) scale(0.91 1) translate(-8.00 -413.01)">NFATc1</text>
<text x="8.00" y="436.21" font-size="7.6" transform="translate(8.00 436.21) scale(0.91 1) translate(-8.00 -436.21)">NFATc2</text>
<text x="8.00" y="452.51" font-size="7.6" transform="translate(8.00 452.51) scale(0.91 1) translate(-8.00 -452.51)">IgM</text>
<text x="8.00" y="465.61" font-size="7.6" transform="translate(8.00 465.61) scale(0.91 1) translate(-8.00 -465.61)">GAPDH</text>
<rect x="35.10" y="389.80" width="82.50" height="31.70" fill="#e8e8e8"/>
<g clip-path="url(#c19)">
<rect x="37.00" y="391.00" width="16.00" height="29.00" fill="#000" fill-opacity="0.16" filter="url(#f12)"/>
<rect x="57.00" y="391.00" width="17.50" height="29.00" fill="#000" fill-opacity="0.12" filter="url(#f12)"/>
<rect x="78.00" y="391.00" width="17.00" height="29.00" fill="#000" fill-opacity="0.1" filter="url(#f12)"/>
<rect x="99.00" y="391.00" width="17.00" height="29.00" fill="#000" fill-opacity="0.04" filter="url(#f12)"/>
<rect x="37.00" y="395.15" width="16.00" height="4.10" rx="2.05" fill="#000" fill-opacity="0.8" filter="url(#f8)"/>
<rect x="37.00" y="391.75" width="16.00" height="2.50" rx="1.25" fill="#000" fill-opacity="0.3" filter="url(#f10)"/>
<rect x="37.00" y="402.05" width="16.00" height="2.50" rx="1.25" fill="#000" fill-opacity="0.3" filter="url(#f10)"/>
<rect x="37.00" y="406.45" width="16.00" height="3.10" rx="1.55" fill="#000" fill-opacity="0.85" filter="url(#f7)"/>
<rect x="37.00" y="411.75" width="16.00" height="4.50" rx="2.25" fill="#000" fill-opacity="0.3" filter="url(#f12)"/>
<rect x="57.00" y="396.05" width="17.50" height="3.10" rx="1.55" fill="#000" fill-opacity="0.65" filter="url(#f8)"/>
<rect x="57.00" y="401.75" width="17.50" height="2.50" rx="1.25" fill="#000" fill-opacity="0.18" filter="url(#f10)"/>
<rect x="57.00" y="406.45" width="17.50" height="3.10" rx="1.55" fill="#000" fill-opacity="0.7" filter="url(#f7)"/>
<rect x="57.00" y="412.25" width="17.50" height="3.50" rx="1.75" fill="#000" fill-opacity="0.18" filter="url(#f12)"/>
<rect x="78.00" y="396.05" width="17.00" height="3.10" rx="1.55" fill="#000" fill-opacity="0.55" filter="url(#f8)"/>
<rect x="78.00" y="401.75" width="17.00" height="2.50" rx="1.25" fill="#000" fill-opacity="0.15" filter="url(#f10)"/>
<rect x="78.00" y="406.45" width="17.00" height="3.10" rx="1.55" fill="#000" fill-opacity="0.6" filter="url(#f7)"/>
<rect x="78.00" y="412.25" width="17.00" height="3.50" rx="1.75" fill="#000" fill-opacity="0.13" filter="url(#f12)"/>
<rect x="99.00" y="396.05" width="17.00" height="3.10" rx="1.55" fill="#000" fill-opacity="0.3" filter="url(#f10)"/>
<rect x="99.00" y="406.45" width="17.00" height="3.10" rx="1.55" fill="#000" fill-opacity="0.25" filter="url(#f10)"/>
</g>
<path d="M39 410 L42.5 408.5 L44 413 L41.5 416 Z" fill="#fff" fill-opacity="0.8" filter="url(#f8)"/>
<rect x="35.10" y="425.40" width="82.50" height="15.10" fill="#e6e6e6"/>
<g clip-path="url(#c20)">
<rect x="36.50" y="428.55" width="17.50" height="3.10" rx="1.55" fill="#000" fill-opacity="0.85" filter="url(#f6)"/>
<rect x="56.50" y="428.55" width="18.50" height="3.10" rx="1.55" fill="#000" fill-opacity="0.9" filter="url(#f6)"/>
<rect x="77.50" y="428.45" width="18.50" height="3.30" rx="1.65" fill="#000" fill-opacity="0.95" filter="url(#f6)"/>
<rect x="98.50" y="428.45" width="18.00" height="3.30" rx="1.65" fill="#000" fill-opacity="0.95" filter="url(#f6)"/>
<rect x="36.50" y="433.85" width="17.50" height="1.90" rx="0.95" fill="#000" fill-opacity="0.6" filter="url(#f6)"/>
<rect x="56.50" y="433.85" width="18.50" height="1.90" rx="0.95" fill="#000" fill-opacity="0.55" filter="url(#f10)"/>
<rect x="77.50" y="433.85" width="18.50" height="1.90" rx="0.95" fill="#000" fill-opacity="0.45" filter="url(#f10)"/>
<rect x="98.50" y="433.85" width="18.00" height="1.90" rx="0.95" fill="#000" fill-opacity="0.45" filter="url(#f10)"/>
</g>
<ellipse cx="42" cy="430" rx="2" ry="1.2" fill="#fff" fill-opacity="0.7" filter="url(#f6)"/>
<rect x="35.10" y="444.80" width="82.50" height="10.40" fill="#ececec"/>
<g clip-path="url(#c21)">
<rect x="36.00" y="446.95" width="18.00" height="6.10" rx="3.05" fill="#000" fill-opacity="0.95" filter="url(#f8)"/>
<rect x="56.00" y="447.45" width="19.00" height="5.10" rx="2.55" fill="#000" fill-opacity="0.6" filter="url(#f9)"/>
<rect x="78.00" y="447.65" width="18.00" height="4.70" rx="2.35" fill="#000" fill-opacity="0.55" filter="url(#f9)"/>
<rect x="101.00" y="448.15" width="12.00" height="3.70" rx="1.85" fill="#000" fill-opacity="0.3" filter="url(#f10)"/>
</g>
<rect x="35.10" y="458.70" width="82.50" height="7.70" fill="#d8d8d8"/>
<g clip-path="url(#c22)">
<rect x="35.50" y="461.15" width="81.70" height="2.70" rx="1.35" fill="#000" fill-opacity="0.95" filter="url(#f6)"/>
</g>
<text x="135.60" y="339.23" font-size="12.5" font-weight="bold" fill="#000" stroke="#000" style="stroke-width:0.45px">F</text>
<text x="192.30" y="344.92" font-size="7.91" text-anchor="middle" transform="translate(192.30 344.92) scale(0.94 1) translate(-192.30 -344.92)">HBL-1</text>
<line x1="161.50" y1="349.50" x2="223.00" y2="349.50" stroke="#231f20" stroke-width="1.45"/>
<text x="269.20" y="344.92" font-size="7.91" text-anchor="middle" transform="translate(269.20 344.92) scale(0.94 1) translate(-269.20 -344.92)">OCI-Ly10</text>
<line x1="239.00" y1="349.50" x2="299.90" y2="349.50" stroke="#231f20" stroke-width="1.45"/>
<text x="345.30" y="344.92" font-size="7.91" text-anchor="middle" transform="translate(345.30 344.92) scale(0.94 1) translate(-345.30 -344.92)">OCI-Ly3</text>
<line x1="314.50" y1="349.50" x2="375.90" y2="349.50" stroke="#231f20" stroke-width="1.45"/>
<text x="167.30" y="384.20" font-size="7.4" transform="rotate(-55 167.30 384.20)">Solvent</text>
<text x="183.30" y="384.20" font-size="7.4" transform="rotate(-55 183.30 384.20)">AZD8835</text>
<text x="199.00" y="384.20" font-size="7.4" transform="rotate(-55 199.00 384.20)">GS-9973</text>
<text x="215.00" y="384.20" font-size="7.4" transform="rotate(-55 215.00 384.20)">Ibrutinib</text>
<text x="244.30" y="384.20" font-size="7.4" transform="rotate(-55 244.30 384.20)">Solvent</text>
<text x="260.60" y="384.20" font-size="7.4" transform="rotate(-55 260.60 384.20)">AZD8835</text>
<text x="276.30" y="384.20" font-size="7.4" transform="rotate(-55 276.30 384.20)">GS-9973</text>
<text x="292.10" y="384.20" font-size="7.4" transform="rotate(-55 292.10 384.20)">Ibrutinib</text>
<text x="317.70" y="384.20" font-size="7.4" transform="rotate(-55 317.70 384.20)">Solvent</text>
<text x="334.00" y="384.20" font-size="7.4" transform="rotate(-55 334.00 384.20)">AZD8835</text>
<text x="349.70" y="384.20" font-size="7.4" transform="rotate(-55 349.70 384.20)">GS-9973</text>
<text x="365.70" y="384.20" font-size="7.4" transform="rotate(-55 365.70 384.20)">Ibrutinib</text>
<text x="135.00" y="408.21" font-size="7.6" transform="translate(135.00 408.21) scale(0.91 1) translate(-135.00 -408.21)">NFATc1</text>
<text x="135.00" y="433.61" font-size="7.6" transform="translate(135.00 433.61) scale(0.91 1) translate(-135.00 -433.61)">NFATc2</text>
<text x="135.00" y="449.91" font-size="7.6" transform="translate(135.00 449.91) scale(0.91 1) translate(-135.00 -449.91)">P-AKT</text>
<text x="135.00" y="465.31" font-size="7.6" transform="translate(135.00 465.31) scale(0.91 1) translate(-135.00 -465.31)">GAPDH</text>
<rect x="163.00" y="390.70" width="60.30" height="26.90" fill="#dcdcdc"/>
<g clip-path="url(#c23)">
<rect x="163.50" y="391.00" width="14.00" height="26.00" fill="#000" fill-opacity="0.15" filter="url(#f12)"/>
<rect x="178.50" y="391.00" width="14.00" height="26.00" fill="#000" fill-opacity="0.08" filter="url(#f12)"/>
<rect x="194.00" y="391.00" width="14.00" height="26.00" fill="#000" fill-opacity="0.08" filter="url(#f12)"/>
<rect x="209.50" y="391.00" width="13.50" height="26.00" fill="#000" fill-opacity="0.08" filter="url(#f12)"/>
<rect x="164.00" y="392.10" width="13.50" height="4.00" rx="2.00" fill="#000" fill-opacity="1.0" filter="url(#f8)"/>
<rect x="164.00" y="399.05" width="13.50" height="3.50" rx="1.75" fill="#000" fill-opacity="0.95" filter="url(#f8)"/>
<rect x="164.00" y="403.30" width="13.50" height="3.00" rx="1.50" fill="#000" fill-opacity="0.75" filter="url(#f8)"/>
<rect x="164.00" y="407.10" width="13.50" height="3.00" rx="1.50" fill="#000" fill-opacity="0.65" filter="url(#f8)"/>
<rect x="178.50" y="393.15" width="14.00" height="2.70" rx="1.35" fill="#000" fill-opacity="0.45" filter="url(#f9)"/>
<rect x="178.50" y="396.65" width="14.00" height="2.70" rx="1.35" fill="#000" fill-opacity="0.3" filter="url(#f9)"/>
<rect x="178.50" y="399.65" width="14.00" height="2.70" rx="1.35" fill="#000" fill-opacity="0.5" filter="url(#f9)"/>
<rect x="178.50" y="403.65" width="14.00" height="2.70" rx="1.35" fill="#000" fill-opacity="0.4" filter="url(#f9)"/>
<rect x="178.50" y="407.65" width="14.00" height="2.70" rx="1.35" fill="#000" fill-opacity="0.3" filter="url(#f9)"/>
<rect x="194.00" y="393.15" width="14.00" height="2.70" rx="1.35" fill="#000" fill-opacity="0.45" filter="url(#f9)"/>
<rect x="194.00" y="396.65" width="14.00" height="2.70" rx="1.35" fill="#000" fill-opacity="0.3" filter="url(#f9)"/>
<rect x="194.00" y="399.65" width="14.00" height="2.70" rx="1.35" fill="#000" fill-opacity="0.5" filter="url(#f9)"/>
<rect x="194.00" y="403.65" width="14.00" height="2.70" rx="1.35" fill="#000" fill-opacity="0.4" filter="url(#f9)"/>
<rect x="194.00" y="407.65" width="14.00" height="2.70" rx="1.35" fill="#000" fill-opacity="0.3" filter="url(#f9)"/>
<rect x="209.50" y="393.15" width="13.50" height="2.70" rx="1.35" fill="#000" fill-opacity="0.45" filter="url(#f9)"/>
<rect x="209.50" y="396.65" width="13.50" height="2.70" rx="1.35" fill="#000" fill-opacity="0.3" filter="url(#f9)"/>
<rect x="209.50" y="399.65" width="13.50" height="2.70" rx="1.35" fill="#000" fill-opacity="0.5" filter="url(#f9)"/>
<rect x="209.50" y="403.65" width="13.50" height="2.70" rx="1.35" fill="#000" fill-opacity="0.4" filter="url(#f9)"/>
<rect x="209.50" y="407.65" width="13.50" height="2.70" rx="1.35" fill="#000" fill-opacity="0.3" filter="url(#f9)"/>
</g>
<rect x="163.00" y="420.30" width="60.30" height="16.80" fill="#c8c8c8"/>
<g clip-path="url(#c24)">
<rect x="164.00" y="423.30" width="13.50" height="4.00" rx="2.00" fill="#000" fill-opacity="0.8" filter="url(#f8)"/>
<rect x="164.00" y="428.80" width="13.50" height="4.00" rx="2.00" fill="#000" fill-opacity="0.95" filter="url(#f8)"/>
<rect x="179.00" y="423.05" width="13.50" height="4.50" rx="2.25" fill="#000" fill-opacity="0.95" filter="url(#f8)"/>
<rect x="179.00" y="428.55" width="13.50" height="4.50" rx="2.25" fill="#000" fill-opacity="1.0" filter="url(#f8)"/>
<rect x="194.50" y="423.25" width="13.50" height="3.50" rx="1.75" fill="#000" fill-opacity="0.6" filter="url(#f8)"/>
<rect x="194.50" y="429.75" width="13.50" height="3.50" rx="1.75" fill="#000" fill-opacity="0.3" filter="url(#f10)"/>
<rect x="210.00" y="423.25" width="13.00" height="3.50" rx="1.75" fill="#000" fill-opacity="0.2" filter="url(#f10)"/>
<rect x="210.00" y="429.05" width="13.00" height="3.50" rx="1.75" fill="#000" fill-opacity="0.95" filter="url(#f8)"/>
</g>
<rect x="163.00" y="439.80" width="60.30" height="12.20" fill="#e8e8e8"/>
<g clip-path="url(#c25)">
<rect x="163.00" y="445.45" width="15.00" height="2.70" rx="1.35" fill="#000" fill-opacity="1.0" filter="url(#f6)"/>
<rect x="195.00" y="445.90" width="13.00" height="1.80" rx="0.90" fill="#000" fill-opacity="0.45" filter="url(#f10)"/>
<rect x="210.00" y="445.95" width="12.00" height="1.70" rx="0.85" fill="#000" fill-opacity="0.25" filter="url(#f10)"/>
</g>
<rect x="163.00" y="454.60" width="60.30" height="12.20" fill="#c4c4c4"/>
<g clip-path="url(#c26)">
<rect x="163.50" y="459.85" width="14.50" height="3.50" rx="1.75" fill="#000" fill-opacity="0.9" filter="url(#f6)"/>
<rect x="179.00" y="459.85" width="14.00" height="3.50" rx="1.75" fill="#000" fill-opacity="0.75" filter="url(#f6)"/>
<rect x="194.00" y="459.85" width="14.00" height="3.50" rx="1.75" fill="#000" fill-opacity="0.9" filter="url(#f6)"/>
<rect x="209.50" y="459.85" width="13.50" height="3.50" rx="1.75" fill="#000" fill-opacity="0.9" filter="url(#f6)"/>
</g>
<rect x="238.00" y="390.70" width="60.00" height="26.90" fill="#eaeaea"/>
<g clip-path="url(#c27)">
<rect x="256.00" y="391.00" width="12.00" height="26.00" fill="#000" fill-opacity="0.12" filter="url(#f12)"/>
<rect x="270.00" y="391.00" width="13.00" height="26.00" fill="#000" fill-opacity="0.18" filter="url(#f12)"/>
<rect x="284.00" y="391.00" width="13.00" height="26.00" fill="#000" fill-opacity="0.12" filter="url(#f12)"/>
<rect x="239.00" y="393.25" width="15.00" height="5.50" rx="2.75" fill="#000" fill-opacity="0.35" filter="url(#f12)"/>
<rect x="239.00" y="398.75" width="15.00" height="2.50" rx="1.25" fill="#000" fill-opacity="0.3" filter="url(#f10)"/>
<rect x="256.00" y="398.75" width="12.00" height="2.70" rx="1.35" fill="#000" fill-opacity="0.45" filter="url(#f9)"/>
<rect x="256.00" y="402.75" width="12.00" height="2.50" rx="1.25" fill="#000" fill-opacity="0.3" filter="url(#f9)"/>
<rect x="256.00" y="406.75" width="12.00" height="2.50" rx="1.25" fill="#000" fill-opacity="0.25" filter="url(#f9)"/>
<rect x="270.00" y="398.65" width="13.00" height="2.70" rx="1.35" fill="#000" fill-opacity="0.55" filter="url(#f9)"/>
<rect x="270.00" y="402.25" width="13.00" height="2.50" rx="1.25" fill="#000" fill-opacity="0.45" filter="url(#f9)"/>
<rect x="270.00" y="406.75" width="13.00" height="2.50" rx="1.25" fill="#000" fill-opacity="0.35" filter="url(#f9)"/>
<rect x="284.00" y="397.65" width="13.00" height="2.70" rx="1.35" fill="#000" fill-opacity="0.5" filter="url(#f9)"/>
<rect x="284.00" y="402.25" width="13.00" height="2.50" rx="1.25" fill="#000" fill-opacity="0.4" filter="url(#f9)"/>
<rect x="284.00" y="406.75" width="13.00" height="2.50" rx="1.25" fill="#000" fill-opacity="0.3" filter="url(#f9)"/>
<rect x="238.80" y="404.10" width="15.00" height="13.00" rx="4.00" fill="#000" fill-opacity="1.0" filter="url(#f9)"/>
</g>
<rect x="238.00" y="420.70" width="60.00" height="16.40" fill="#cccccc"/>
<g clip-path="url(#c28)">
<rect x="239.00" y="423.40" width="15.00" height="4.00" rx="2.00" fill="#000" fill-opacity="1.0" filter="url(#f6)"/>
<rect x="254.50" y="423.60" width="14.00" height="4.00" rx="2.00" fill="#000" fill-opacity="1.0" filter="url(#f6)"/>
<rect x="269.50" y="423.40" width="13.50" height="4.00" rx="2.00" fill="#000" fill-opacity="1.0" filter="url(#f6)"/>
<rect x="284.00" y="423.20" width="13.00" height="4.00" rx="2.00" fill="#000" fill-opacity="1.0" filter="url(#f6)"/>
<rect x="239.00" y="431.35" width="15.00" height="3.50" rx="1.75" fill="#000" fill-opacity="0.35" filter="url(#f10)"/>
<rect x="254.50" y="431.35" width="14.00" height="3.50" rx="1.75" fill="#000" fill-opacity="0.35" filter="url(#f10)"/>
<rect x="269.50" y="431.35" width="13.50" height="3.50" rx="1.75" fill="#000" fill-opacity="0.3" filter="url(#f10)"/>
<rect x="284.00" y="431.35" width="13.00" height="3.50" rx="1.75" fill="#000" fill-opacity="0.3" filter="url(#f10)"/>
</g>
<rect x="238.00" y="440.10" width="60.00" height="11.90" fill="#d8d8d8"/>
<g clip-path="url(#c29)">
<rect x="239.00" y="444.95" width="14.00" height="2.50" rx="1.25" fill="#000" fill-opacity="0.7" filter="url(#f6)"/>
<rect x="255.00" y="445.35" width="13.00" height="2.10" rx="1.05" fill="#000" fill-opacity="0.2" filter="url(#f10)"/>
<rect x="269.00" y="444.95" width="14.00" height="2.50" rx="1.25" fill="#000" fill-opacity="0.45" filter="url(#f10)"/>
<rect x="284.00" y="444.95" width="13.00" height="2.50" rx="1.25" fill="#000" fill-opacity="0.5" filter="url(#f10)"/>
</g>
<rect x="238.00" y="455.30" width="60.00" height="11.50" fill="#eeeeee"/>
<g clip-path="url(#c30)">
<rect x="239.00" y="457.55" width="15.00" height="4.50" rx="2.25" fill="#000" fill-opacity="1.0" filter="url(#f6)"/>
<rect x="254.50" y="457.55" width="14.00" height="4.50" rx="2.25" fill="#000" fill-opacity="1.0" filter="url(#f6)"/>
<rect x="269.50" y="457.75" width="13.50" height="4.50" rx="2.25" fill="#000" fill-opacity="1.0" filter="url(#f6)"/>
<rect x="284.00" y="457.55" width="13.50" height="4.50" rx="2.25" fill="#000" fill-opacity="1.0" filter="url(#f6)"/>
</g>
<rect x="311.00" y="390.70" width="60.50" height="26.90" fill="#b8b8b8"/>
<g clip-path="url(#c31)">
<rect x="311.00" y="391.00" width="60.50" height="5.00" fill="#000" fill-opacity="0.1" filter="url(#f12)"/>
<rect x="311.00" y="395.65" width="13.50" height="3.50" rx="1.75" fill="#000" fill-opacity="0.75" filter="url(#f9)"/>
<rect x="311.00" y="401.25" width="13.50" height="3.10" rx="1.55" fill="#000" fill-opacity="0.5" filter="url(#f9)"/>
<rect x="311.00" y="404.85" width="13.50" height="3.30" rx="1.65" fill="#000" fill-opacity="0.75" filter="url(#f9)"/>
<rect x="311.00" y="409.35" width="13.50" height="3.10" rx="1.55" fill="#000" fill-opacity="0.45" filter="url(#f9)"/>
<rect x="325.50" y="395.65" width="14.50" height="3.50" rx="1.75" fill="#000" fill-opacity="0.75" filter="url(#f9)"/>
<rect x="325.50" y="401.25" width="14.50" height="3.10" rx="1.55" fill="#000" fill-opacity="0.5" filter="url(#f9)"/>
<rect x="325.50" y="404.85" width="14.50" height="3.30" rx="1.65" fill="#000" fill-opacity="0.75" filter="url(#f9)"/>
<rect x="325.50" y="409.35" width="14.50" height="3.10" rx="1.55" fill="#000" fill-opacity="0.45" filter="url(#f9)"/>
<rect x="341.00" y="395.65" width="15.00" height="3.50" rx="1.75" fill="#000" fill-opacity="0.75" filter="url(#f9)"/>
<rect x="341.00" y="401.25" width="15.00" height="3.10" rx="1.55" fill="#000" fill-opacity="0.5" filter="url(#f9)"/>
<rect x="341.00" y="404.85" width="15.00" height="3.30" rx="1.65" fill="#000" fill-opacity="0.75" filter="url(#f9)"/>
<rect x="341.00" y="409.35" width="15.00" height="3.10" rx="1.55" fill="#000" fill-opacity="0.45" filter="url(#f9)"/>
<rect x="357.00" y="395.65" width="14.50" height="3.50" rx="1.75" fill="#000" fill-opacity="0.75" filter="url(#f9)"/>
<rect x="357.00" y="401.25" width="14.50" height="3.10" rx="1.55" fill="#000" fill-opacity="0.5" filter="url(#f9)"/>
<rect x="357.00" y="404.85" width="14.50" height="3.30" rx="1.65" fill="#000" fill-opacity="0.75" filter="url(#f9)"/>
<rect x="357.00" y="409.35" width="14.50" height="3.10" rx="1.55" fill="#000" fill-opacity="0.45" filter="url(#f9)"/>
</g>
<rect x="311.00" y="420.70" width="60.50" height="16.40" fill="#a0a0a0"/>
<g clip-path="url(#c32)">
<rect x="311.00" y="422.65" width="13.50" height="3.50" rx="1.75" fill="#000" fill-opacity="0.7" filter="url(#f8)"/>
<rect x="325.50" y="422.65" width="14.50" height="3.50" rx="1.75" fill="#000" fill-opacity="0.7" filter="url(#f8)"/>
<rect x="341.00" y="422.65" width="15.00" height="3.50" rx="1.75" fill="#000" fill-opacity="0.7" filter="url(#f8)"/>
<rect x="357.00" y="422.65" width="14.50" height="3.50" rx="1.75" fill="#000" fill-opacity="0.7" filter="url(#f8)"/>
<rect x="311.00" y="429.65" width="13.50" height="5.50" rx="2.75" fill="#000" fill-opacity="0.9" filter="url(#f10)"/>
<rect x="325.50" y="429.65" width="14.50" height="5.50" rx="2.75" fill="#000" fill-opacity="0.9" filter="url(#f10)"/>
<rect x="341.00" y="429.65" width="15.00" height="5.50" rx="2.75" fill="#000" fill-opacity="0.9" filter="url(#f10)"/>
<rect x="357.00" y="429.65" width="14.50" height="5.50" rx="2.75" fill="#000" fill-opacity="0.9" filter="url(#f10)"/>
</g>
<path d="M366 427 L368.5 424.5 L368 429.5 Z" fill="#fff" fill-opacity="0.7" filter="url(#f6)"/>
<rect x="311.00" y="440.10" width="60.50" height="11.90" fill="#858585"/>
<g clip-path="url(#c33)">
<rect x="356.00" y="445.05" width="15.50" height="3.50" rx="1.75" fill="#000" fill-opacity="0.55" filter="url(#f8)"/>
<rect x="311.00" y="445.50" width="45.00" height="2.00" rx="1.00" fill="#000" fill-opacity="0.15" filter="url(#f10)"/>
</g>
<rect x="311.00" y="454.90" width="60.50" height="11.90" fill="#c4c4c4"/>
<g clip-path="url(#c34)">
<rect x="311.50" y="459.05" width="13.00" height="3.50" rx="1.75" fill="#000" fill-opacity="0.6" filter="url(#f8)"/>
<rect x="325.50" y="458.85" width="14.00" height="3.50" rx="1.75" fill="#000" fill-opacity="0.6" filter="url(#f8)"/>
<rect x="341.00" y="458.95" width="14.50" height="3.10" rx="1.55" fill="#000" fill-opacity="0.75" filter="url(#f6)"/>
<rect x="356.50" y="458.25" width="15.00" height="3.50" rx="1.75" fill="#000" fill-opacity="0.9" filter="url(#f6)"/>
</g>
<rect x="324.60" y="390.70" width="1.2" height="26.90" fill="#fff" fill-opacity="0.35" filter="url(#f5)"/>
<rect x="324.60" y="420.70" width="1.2" height="16.40" fill="#fff" fill-opacity="0.35" filter="url(#f5)"/>
<rect x="340.00" y="390.70" width="1.2" height="26.90" fill="#fff" fill-opacity="0.35" filter="url(#f5)"/>
<rect x="340.00" y="420.70" width="1.2" height="16.40" fill="#fff" fill-opacity="0.35" filter="url(#f5)"/>
<rect x="355.80" y="390.70" width="1.2" height="26.90" fill="#fff" fill-opacity="0.35" filter="url(#f5)"/>
<rect x="355.80" y="420.70" width="1.2" height="16.40" fill="#fff" fill-opacity="0.35" filter="url(#f5)"/>
<rect x="177.70" y="390.70" width="1.2" height="26.90" fill="#fff" fill-opacity="0.3" filter="url(#f5)"/>
<rect x="177.70" y="420.30" width="1.2" height="16.80" fill="#fff" fill-opacity="0.3" filter="url(#f5)"/>
<rect x="193.00" y="390.70" width="1.2" height="26.90" fill="#fff" fill-opacity="0.3" filter="url(#f5)"/>
<rect x="193.00" y="420.30" width="1.2" height="16.80" fill="#fff" fill-opacity="0.3" filter="url(#f5)"/>
<rect x="208.60" y="390.70" width="1.2" height="26.90" fill="#fff" fill-opacity="0.3" filter="url(#f5)"/>
<rect x="208.60" y="420.30" width="1.2" height="16.80" fill="#fff" fill-opacity="0.3" filter="url(#f5)"/>
<text x="7.70" y="495.52" font-size="12.5" font-weight="bold" fill="#000" stroke="#000" style="stroke-width:0.45px">G</text>
<text x="98.80" y="504.70" font-size="10.17" text-anchor="middle" transform="translate(98.80 504.70) scale(0.94 1) translate(-98.80 -504.70)">HBL-1</text>
<line x1="37.70" y1="509.40" x2="160.00" y2="509.40" stroke="#231f20" stroke-width="1.45"/>
<line x1="37.60" y1="516.20" x2="37.60" y2="600.30" stroke="#231f20" stroke-width="1.3"/>
<line x1="37.00" y1="600.30" x2="160.00" y2="600.30" stroke="#231f20" stroke-width="1.3"/>
<line x1="34.40" y1="600.30" x2="37.60" y2="600.30" stroke="#231f20" stroke-width="1.2"/>
<text x="31.20" y="602.95" font-size="7.5" text-anchor="end">0.0</text>
<line x1="34.40" y1="579.95" x2="37.60" y2="579.95" stroke="#231f20" stroke-width="1.2"/>
<text x="31.20" y="582.60" font-size="7.5" text-anchor="end">0.5</text>
<line x1="34.40" y1="559.60" x2="37.60" y2="559.60" stroke="#231f20" stroke-width="1.2"/>
<text x="31.20" y="562.25" font-size="7.5" text-anchor="end">1.0</text>
<line x1="34.40" y1="539.25" x2="37.60" y2="539.25" stroke="#231f20" stroke-width="1.2"/>
<text x="31.20" y="541.90" font-size="7.5" text-anchor="end">1.5</text>
<line x1="34.40" y1="518.90" x2="37.60" y2="518.90" stroke="#231f20" stroke-width="1.2"/>
<text x="31.20" y="521.55" font-size="7.5" text-anchor="end">2.0</text>
<rect x="44.50" y="559.60" width="7.00" height="40.70" fill="#4a1f62"/>
<line x1="48.00" y1="559.60" x2="48.00" y2="553.90" stroke="#231f20" stroke-width="0.9"/>
<line x1="46.00" y1="553.90" x2="50.00" y2="553.90" stroke="#231f20" stroke-width="0.9"/>
<rect x="57.50" y="578.73" width="7.50" height="21.57" fill="#5fa83f"/>
<line x1="61.25" y1="578.73" x2="61.25" y2="573.03" stroke="#231f20" stroke-width="0.9"/>
<line x1="59.25" y1="573.03" x2="63.25" y2="573.03" stroke="#231f20" stroke-width="0.9"/>
<text x="61.25" y="571.83" font-size="6" text-anchor="middle">*</text>
<rect x="70.75" y="583.61" width="7.50" height="16.69" fill="#66ade6"/>
<line x1="74.50" y1="583.61" x2="74.50" y2="583.21" stroke="#231f20" stroke-width="0.9"/>
<line x1="72.50" y1="583.21" x2="76.50" y2="583.21" stroke="#231f20" stroke-width="0.9"/>
<text x="74.50" y="582.01" font-size="6" text-anchor="middle">*</text>
<rect x="84.50" y="583.61" width="7.25" height="16.69" fill="#a80d35"/>
<line x1="88.12" y1="583.61" x2="88.12" y2="579.14" stroke="#231f20" stroke-width="0.9"/>
<line x1="86.12" y1="579.14" x2="90.12" y2="579.14" stroke="#231f20" stroke-width="0.9"/>
<text x="88.12" y="577.94" font-size="6" text-anchor="middle">*</text>
<rect x="105.50" y="559.60" width="7.00" height="40.70" fill="#4a1f62"/>
<line x1="109.00" y1="559.60" x2="109.00" y2="557.16" stroke="#231f20" stroke-width="0.9"/>
<line x1="107.00" y1="557.16" x2="111.00" y2="557.16" stroke="#231f20" stroke-width="0.9"/>
<rect x="118.75" y="560.01" width="7.00" height="40.29" fill="#5fa83f"/>
<line x1="122.25" y1="560.01" x2="122.25" y2="554.31" stroke="#231f20" stroke-width="0.9"/>
<line x1="120.25" y1="554.31" x2="124.25" y2="554.31" stroke="#231f20" stroke-width="0.9"/>
<rect x="132.50" y="545.76" width="7.00" height="54.54" fill="#66ade6"/>
<line x1="136.00" y1="545.76" x2="136.00" y2="531.11" stroke="#231f20" stroke-width="0.9"/>
<line x1="134.00" y1="531.11" x2="138.00" y2="531.11" stroke="#231f20" stroke-width="0.9"/>
<rect x="145.75" y="551.05" width="7.25" height="49.25" fill="#a80d35"/>
<line x1="149.38" y1="551.05" x2="149.38" y2="542.51" stroke="#231f20" stroke-width="0.9"/>
<line x1="147.38" y1="542.51" x2="151.38" y2="542.51" stroke="#231f20" stroke-width="0.9"/>
<line x1="68.00" y1="600.30" x2="68.00" y2="603.00" stroke="#231f20" stroke-width="1.0"/>
<line x1="129.50" y1="600.30" x2="129.50" y2="603.00" stroke="#231f20" stroke-width="1.0"/>
<text x="68.00" y="612.60" font-size="7" text-anchor="middle" font-style="italic">NFATC1</text>
<text x="129.50" y="612.60" font-size="7" text-anchor="middle" font-style="italic">NFATC2</text>
<rect x="163.40" y="517.10" width="8.60" height="3.80" fill="#4a1f62"/>
<text x="175.70" y="521.50" font-size="7">Solvent</text>
<rect x="163.40" y="527.85" width="8.60" height="3.80" fill="#5fa83f"/>
<text x="175.70" y="532.25" font-size="7">AZD8835</text>
<rect x="163.40" y="538.60" width="8.60" height="3.80" fill="#66ade6"/>
<text x="175.70" y="543.00" font-size="7">GS-9973</text>
<rect x="163.40" y="549.35" width="8.60" height="3.80" fill="#a80d35"/>
<text x="175.70" y="553.75" font-size="7">Ibrutinib</text>
<text x="16.80" y="558.40" font-size="9.2" text-anchor="middle" transform="rotate(-90 16.80 558.40)" textLength="79.6" lengthAdjust="spacingAndGlyphs">Norm. mRNA expression</text>
<text x="222.60" y="494.82" font-size="12.5" font-weight="bold" fill="#000" stroke="#000" style="stroke-width:0.45px">H</text>
<text x="298.10" y="508.34" font-size="9.72" text-anchor="middle" transform="translate(298.10 508.34) scale(0.94 1) translate(-298.10 -508.34)">HBL-1</text>
<line x1="252.70" y1="513.60" x2="345.00" y2="513.60" stroke="#231f20" stroke-width="1.45"/>
<line x1="252.40" y1="517.00" x2="252.40" y2="600.10" stroke="#231f20" stroke-width="1.3"/>
<line x1="251.80" y1="600.10" x2="345.00" y2="600.10" stroke="#231f20" stroke-width="1.3"/>
<line x1="249.20" y1="600.10" x2="252.40" y2="600.10" stroke="#231f20" stroke-width="1.2"/>
<text x="246.20" y="602.75" font-size="7.5" text-anchor="end">0.0</text>
<line x1="249.20" y1="573.50" x2="252.40" y2="573.50" stroke="#231f20" stroke-width="1.2"/>
<text x="246.20" y="576.15" font-size="7.5" text-anchor="end">0.5</text>
<line x1="249.20" y1="546.90" x2="252.40" y2="546.90" stroke="#231f20" stroke-width="1.2"/>
<text x="246.20" y="549.55" font-size="7.5" text-anchor="end">1.0</text>
<line x1="249.20" y1="520.30" x2="252.40" y2="520.30" stroke="#231f20" stroke-width="1.2"/>
<text x="246.20" y="522.95" font-size="7.5" text-anchor="end">1.5</text>
<text x="265.20" y="526.30" font-size="7.4" font-style="italic" textLength="26" lengthAdjust="spacingAndGlyphs">NFATC1</text>
<text x="297.10" y="526.30" font-size="7.4" textLength="39.8" lengthAdjust="spacingAndGlyphs">P1 promoter</text>
<rect x="256.10" y="546.90" width="15.20" height="53.20" fill="#4b2063"/>
<line x1="263.70" y1="546.90" x2="263.70" y2="544.77" stroke="#231f20" stroke-width="0.9"/>
<line x1="261.10" y1="544.77" x2="266.30" y2="544.77" stroke="#231f20" stroke-width="0.9"/>
<line x1="263.70" y1="600.10" x2="263.70" y2="602.80" stroke="#231f20" stroke-width="1.0"/>
<text x="266.00" y="611.20" font-size="7.0" text-anchor="end" transform="rotate(-44 266.00 611.20)">Solvent</text>
<rect x="278.90" y="570.31" width="15.20" height="29.79" fill="#6aafe6"/>
<line x1="286.50" y1="570.31" x2="286.50" y2="568.98" stroke="#231f20" stroke-width="0.9"/>
<line x1="283.90" y1="568.98" x2="289.10" y2="568.98" stroke="#231f20" stroke-width="0.9"/>
<line x1="286.50" y1="600.10" x2="286.50" y2="602.80" stroke="#231f20" stroke-width="1.0"/>
<text x="286.50" y="567.48" font-size="6" text-anchor="middle">***</text>
<text x="288.80" y="611.20" font-size="7.0" text-anchor="end" transform="rotate(-44 288.80 611.20)">AZD8835</text>
<rect x="302.10" y="570.57" width="15.00" height="29.53" fill="#2c4b7e"/>
<line x1="309.60" y1="570.57" x2="309.60" y2="568.71" stroke="#231f20" stroke-width="0.9"/>
<line x1="307.00" y1="568.71" x2="312.20" y2="568.71" stroke="#231f20" stroke-width="0.9"/>
<line x1="309.60" y1="600.10" x2="309.60" y2="602.80" stroke="#231f20" stroke-width="1.0"/>
<text x="309.60" y="567.21" font-size="6" text-anchor="middle">***</text>
<text x="311.90" y="611.20" font-size="7.0" text-anchor="end" transform="rotate(-44 311.90 611.20)">Ibrutinib</text>
<rect x="325.20" y="592.65" width="15.10" height="7.45" fill="#bfd8f3"/>
<line x1="332.75" y1="592.65" x2="332.75" y2="591.85" stroke="#231f20" stroke-width="0.9"/>
<line x1="330.15" y1="591.85" x2="335.35" y2="591.85" stroke="#231f20" stroke-width="0.9"/>
<line x1="332.75" y1="600.10" x2="332.75" y2="602.80" stroke="#231f20" stroke-width="1.0"/>
<text x="332.75" y="590.35" font-size="6" text-anchor="middle">***</text>
<text x="335.05" y="611.20" font-size="7.0" text-anchor="end" transform="rotate(-44 335.05 611.20)">BMS-345541</text>
<text x="229.70" y="558.50" font-size="9.2" text-anchor="middle" transform="rotate(-90 229.70 558.50)" textLength="77" lengthAdjust="spacingAndGlyphs">Norm. luciferase activity</text>
<text x="362.00" y="495.32" font-size="12.5" font-weight="bold" fill="#000" stroke="#000" style="stroke-width:0.45px">I</text>
<text x="406.00" y="501.42" font-size="7.91" text-anchor="middle" transform="translate(406.00 501.42) scale(0.94 1) translate(-406.00 -501.42)">HBL-1</text>
<line x1="392.10" y1="505.20" x2="420.40" y2="505.20" stroke="#231f20" stroke-width="1.45"/>
<text x="442.10" y="501.42" font-size="7.91" text-anchor="middle" transform="translate(442.10 501.42) scale(0.94 1) translate(-442.10 -501.42)">OCI-Ly3</text>
<line x1="427.70" y1="505.20" x2="456.00" y2="505.20" stroke="#231f20" stroke-width="1.45"/>
<text x="476.70" y="501.42" font-size="7.91" text-anchor="middle" transform="translate(476.70 501.42) scale(0.94 1) translate(-476.70 -501.42)">HT</text>
<line x1="462.70" y1="505.20" x2="490.80" y2="505.20" stroke="#231f20" stroke-width="1.45"/>
<text x="400.00" y="537.90" font-size="7.3" transform="rotate(-56 400.00 537.90)">empty</text>
<text x="414.60" y="537.90" font-size="7.3" transform="rotate(-56 414.60 537.90)">DN-IκBα</text>
<text x="434.30" y="537.90" font-size="7.3" transform="rotate(-56 434.30 537.90)">empty</text>
<text x="448.90" y="537.90" font-size="7.3" transform="rotate(-56 448.90 537.90)">DN-IκBα</text>
<text x="468.60" y="537.90" font-size="7.3" transform="rotate(-56 468.60 537.90)">empty</text>
<text x="483.20" y="537.90" font-size="7.3" transform="rotate(-56 483.20 537.90)">DN-IκBα</text>
<text x="361.10" y="561.31" font-size="7.6" transform="translate(361.10 561.31) scale(0.91 1) translate(-361.10 -561.31)">NFATc1</text>
<text x="361.10" y="585.01" font-size="7.6" transform="translate(361.10 585.01) scale(0.91 1) translate(-361.10 -585.01)">IκBα</text>
<text x="361.10" y="597.61" font-size="7.6" transform="translate(361.10 597.61) scale(0.91 1) translate(-361.10 -597.61)">GAPDH</text>
<rect x="389.10" y="542.20" width="32.60" height="30.70" fill="#e2e2e2"/>
<g clip-path="url(#c35)">
<rect x="389.50" y="544.00" width="15.00" height="28.00" fill="#000" fill-opacity="0.3" filter="url(#f15)"/>
<rect x="405.00" y="544.00" width="15.50" height="28.00" fill="#000" fill-opacity="0.22" filter="url(#f15)"/>
<rect x="389.50" y="547.25" width="14.50" height="5.50" rx="2.75" fill="#000" fill-opacity="0.5" filter="url(#f13)"/>
<rect x="389.50" y="550.25" width="15.00" height="10.50" rx="2.50" fill="#000" fill-opacity="0.95" filter="url(#f11)"/>
<rect x="389.50" y="562.50" width="14.50" height="3.00" rx="1.50" fill="#000" fill-opacity="0.8" filter="url(#f6)"/>
<rect x="405.00" y="551.25" width="15.50" height="6.50" rx="3.25" fill="#000" fill-opacity="0.55" filter="url(#f12)"/>
<rect x="405.00" y="562.50" width="15.50" height="3.00" rx="1.50" fill="#000" fill-opacity="0.7" filter="url(#f6)"/>
</g>
<rect x="423.00" y="542.20" width="32.60" height="30.70" fill="#d6d6d6"/>
<g clip-path="url(#c36)">
<rect x="423.00" y="542.00" width="15.00" height="31.00" fill="#000" fill-opacity="0.45" filter="url(#f12)"/>
<rect x="424.00" y="544.55" width="13.00" height="5.50" rx="2.75" fill="#000" fill-opacity="0.85" filter="url(#f12)"/>
<rect x="424.00" y="554.55" width="13.50" height="8.50" rx="2.50" fill="#000" fill-opacity="1.0" filter="url(#f12)"/>
<rect x="424.00" y="564.25" width="12.00" height="5.50" rx="2.75" fill="#000" fill-opacity="0.6" filter="url(#f12)"/>
</g>
<circle cx="449.5" cy="552.5" r="0.8" fill="#000" fill-opacity="0.7"/>
<rect x="457.70" y="542.20" width="32.20" height="30.70" fill="#ececec"/>
<g clip-path="url(#c37)">
<rect x="459.00" y="544.00" width="15.50" height="28.00" fill="#000" fill-opacity="0.3" filter="url(#f15)"/>
<rect x="476.00" y="546.00" width="13.00" height="26.00" fill="#000" fill-opacity="0.15" filter="url(#f15)"/>
<rect x="459.00" y="545.25" width="15.00" height="5.50" rx="2.75" fill="#000" fill-opacity="0.5" filter="url(#f13)"/>
<rect x="459.00" y="549.85" width="15.50" height="9.50" rx="2.50" fill="#000" fill-opacity="1.0" filter="url(#f11)"/>
<rect x="459.00" y="562.00" width="15.00" height="3.00" rx="1.50" fill="#000" fill-opacity="0.6" filter="url(#f6)"/>
<rect x="476.00" y="551.00" width="12.50" height="3.00" rx="1.50" fill="#000" fill-opacity="0.85" filter="url(#f6)"/>
</g>
<rect x="389.10" y="575.40" width="32.60" height="12.40" fill="#ececec"/>
<g clip-path="url(#c38)">
<rect x="389.50" y="579.85" width="14.00" height="3.50" rx="1.75" fill="#000" fill-opacity="0.9" filter="url(#f6)"/>
<rect x="405.50" y="578.30" width="15.00" height="8.00" rx="2.00" fill="#000" fill-opacity="1.0" filter="url(#f9)"/>
</g>
<rect x="423.00" y="575.40" width="32.60" height="12.40" fill="#f2f2f2"/>
<g clip-path="url(#c39)">
<rect x="425.00" y="581.75" width="11.00" height="2.50" rx="1.25" fill="#000" fill-opacity="0.2" filter="url(#f10)"/>
<rect x="440.00" y="580.20" width="13.50" height="4.00" rx="2.00" fill="#000" fill-opacity="1.0" filter="url(#f6)"/>
</g>
<rect x="457.70" y="575.40" width="32.20" height="12.40" fill="#eeeeee"/>
<g clip-path="url(#c40)">
<rect x="459.00" y="582.95" width="14.50" height="3.50" rx="1.75" fill="#000" fill-opacity="0.9" filter="url(#f6)"/>
<rect x="475.00" y="576.35" width="15.00" height="10.50" rx="2.50" fill="#000" fill-opacity="1.0" filter="url(#f9)"/>
</g>
<rect x="389.10" y="589.50" width="32.60" height="8.70" fill="#e4e4e4"/>
<g clip-path="url(#c41)">
<rect x="389.50" y="591.20" width="14.50" height="5.00" rx="2.50" fill="#000" fill-opacity="1.0" filter="url(#f6)"/>
<rect x="405.00" y="591.20" width="15.50" height="5.00" rx="2.50" fill="#000" fill-opacity="1.0" filter="url(#f6)"/>
</g>
<rect x="423.00" y="589.50" width="32.60" height="8.70" fill="#eeeeee"/>
<g clip-path="url(#c42)">
<rect x="423.50" y="591.95" width="31.50" height="4.10" rx="2.05" fill="#000" fill-opacity="1.0" filter="url(#f6)"/>
</g>
<rect x="457.70" y="589.50" width="32.20" height="8.70" fill="#eeeeee"/>
<g clip-path="url(#c43)">
<rect x="458.00" y="591.45" width="16.00" height="4.50" rx="2.25" fill="#000" fill-opacity="1.0" filter="url(#f6)"/>
<rect x="474.50" y="591.45" width="15.00" height="4.50" rx="2.25" fill="#000" fill-opacity="1.0" filter="url(#f6)"/>
</g><rect x="0.5" y="0.5" width="519" height="648" fill="none" stroke="#000" stroke-width="1.2"/></svg></body></html>
